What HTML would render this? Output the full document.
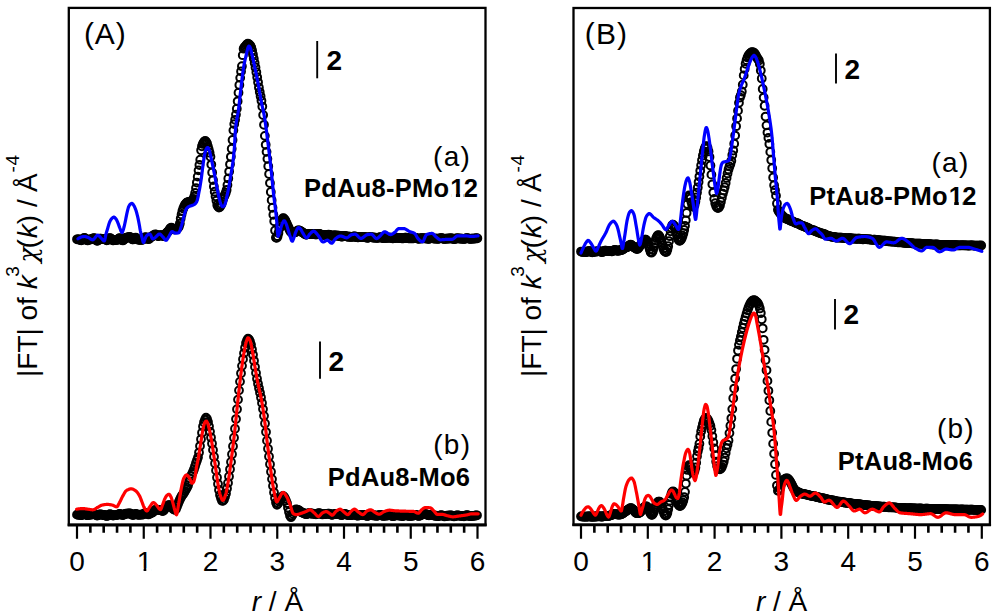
<!DOCTYPE html>
<html lang="en"><head><meta charset="utf-8"><title>FT-EXAFS</title>
<style>
html,body{margin:0;padding:0;background:#fff;}
body{width:1000px;height:615px;overflow:hidden;}
svg{display:block;}
text{font-family:"Liberation Sans", Arial, Helvetica, sans-serif;fill:#000;}
.b{font-weight:bold;}
.i{font-style:italic;}
</style></head><body>
<svg width="1000" height="615" viewBox="0 0 1000 615">
<rect x="0" y="0" width="1000" height="615" fill="#fff"/>
<g fill="none" stroke="#000" stroke-width="2.0">
<circle cx="77.00" cy="239.28" r="3.9"/>
<circle cx="77.85" cy="239.41" r="3.9"/>
<circle cx="78.70" cy="239.40" r="3.9"/>
<circle cx="79.55" cy="239.63" r="3.9"/>
<circle cx="80.40" cy="240.08" r="3.9"/>
<circle cx="81.25" cy="240.32" r="3.9"/>
<circle cx="82.10" cy="239.92" r="3.9"/>
<circle cx="82.95" cy="238.96" r="3.9"/>
<circle cx="83.80" cy="238.09" r="3.9"/>
<circle cx="84.65" cy="237.97" r="3.9"/>
<circle cx="85.50" cy="238.72" r="3.9"/>
<circle cx="86.35" cy="239.77" r="3.9"/>
<circle cx="87.20" cy="240.40" r="3.9"/>
<circle cx="88.05" cy="240.29" r="3.9"/>
<circle cx="88.90" cy="239.78" r="3.9"/>
<circle cx="89.75" cy="239.38" r="3.9"/>
<circle cx="90.60" cy="239.31" r="3.9"/>
<circle cx="91.45" cy="239.29" r="3.9"/>
<circle cx="92.30" cy="238.98" r="3.9"/>
<circle cx="93.15" cy="238.42" r="3.9"/>
<circle cx="94.00" cy="238.09" r="3.9"/>
<circle cx="94.85" cy="238.46" r="3.9"/>
<circle cx="95.70" cy="239.47" r="3.9"/>
<circle cx="96.55" cy="240.50" r="3.9"/>
<circle cx="97.40" cy="240.83" r="3.9"/>
<circle cx="98.25" cy="240.30" r="3.9"/>
<circle cx="99.10" cy="239.38" r="3.9"/>
<circle cx="99.95" cy="238.76" r="3.9"/>
<circle cx="100.80" cy="238.73" r="3.9"/>
<circle cx="101.65" cy="239.03" r="3.9"/>
<circle cx="102.50" cy="239.18" r="3.9"/>
<circle cx="103.35" cy="239.04" r="3.9"/>
<circle cx="104.20" cy="238.92" r="3.9"/>
<circle cx="105.05" cy="239.18" r="3.9"/>
<circle cx="105.90" cy="239.80" r="3.9"/>
<circle cx="106.75" cy="240.26" r="3.9"/>
<circle cx="107.60" cy="240.03" r="3.9"/>
<circle cx="108.45" cy="239.16" r="3.9"/>
<circle cx="109.30" cy="238.26" r="3.9"/>
<circle cx="110.15" cy="238.03" r="3.9"/>
<circle cx="111.00" cy="238.64" r="3.9"/>
<circle cx="111.85" cy="239.61" r="3.9"/>
<circle cx="112.70" cy="240.25" r="3.9"/>
<circle cx="113.55" cy="240.30" r="3.9"/>
<circle cx="114.40" cy="240.03" r="3.9"/>
<circle cx="115.25" cy="239.88" r="3.9"/>
<circle cx="116.10" cy="239.96" r="3.9"/>
<circle cx="116.95" cy="239.97" r="3.9"/>
<circle cx="117.80" cy="239.54" r="3.9"/>
<circle cx="118.65" cy="238.76" r="3.9"/>
<circle cx="119.50" cy="238.20" r="3.9"/>
<circle cx="120.35" cy="238.39" r="3.9"/>
<circle cx="121.20" cy="239.27" r="3.9"/>
<circle cx="122.05" cy="240.19" r="3.9"/>
<circle cx="122.90" cy="240.43" r="3.9"/>
<circle cx="123.75" cy="239.81" r="3.9"/>
<circle cx="124.60" cy="238.78" r="3.9"/>
<circle cx="125.45" cy="237.96" r="3.9"/>
<circle cx="126.30" cy="237.65" r="3.9"/>
<circle cx="127.15" cy="237.60" r="3.9"/>
<circle cx="128.00" cy="237.45" r="3.9"/>
<circle cx="128.85" cy="237.13" r="3.9"/>
<circle cx="129.70" cy="237.00" r="3.9"/>
<circle cx="130.55" cy="237.46" r="3.9"/>
<circle cx="131.40" cy="238.44" r="3.9"/>
<circle cx="132.25" cy="239.28" r="3.9"/>
<circle cx="133.10" cy="239.43" r="3.9"/>
<circle cx="133.95" cy="238.84" r="3.9"/>
<circle cx="134.80" cy="238.02" r="3.9"/>
<circle cx="135.65" cy="237.68" r="3.9"/>
<circle cx="136.50" cy="238.16" r="3.9"/>
<circle cx="137.35" cy="239.04" r="3.9"/>
<circle cx="138.20" cy="239.71" r="3.9"/>
<circle cx="139.05" cy="239.87" r="3.9"/>
<circle cx="139.90" cy="239.73" r="3.9"/>
<circle cx="140.75" cy="239.71" r="3.9"/>
<circle cx="141.60" cy="239.88" r="3.9"/>
<circle cx="142.45" cy="239.85" r="3.9"/>
<circle cx="143.30" cy="239.26" r="3.9"/>
<circle cx="144.15" cy="238.22" r="3.9"/>
<circle cx="145.00" cy="237.33" r="3.9"/>
<circle cx="145.85" cy="237.22" r="3.9"/>
<circle cx="146.70" cy="237.93" r="3.9"/>
<circle cx="147.55" cy="238.86" r="3.9"/>
<circle cx="148.40" cy="239.20" r="3.9"/>
<circle cx="149.25" cy="238.68" r="3.9"/>
<circle cx="150.10" cy="237.74" r="3.9"/>
<circle cx="150.95" cy="236.95" r="3.9"/>
<circle cx="151.80" cy="236.47" r="3.9"/>
<circle cx="152.65" cy="236.06" r="3.9"/>
<circle cx="153.50" cy="235.49" r="3.9"/>
<circle cx="154.35" cy="234.82" r="3.9"/>
<circle cx="155.20" cy="234.39" r="3.9"/>
<circle cx="156.05" cy="234.55" r="3.9"/>
<circle cx="156.90" cy="235.27" r="3.9"/>
<circle cx="157.75" cy="236.01" r="3.9"/>
<circle cx="158.60" cy="236.14" r="3.9"/>
<circle cx="159.45" cy="235.72" r="3.9"/>
<circle cx="160.30" cy="235.22" r="3.9"/>
<circle cx="161.15" cy="235.03" r="3.9"/>
<circle cx="162.00" cy="235.41" r="3.9"/>
<circle cx="162.85" cy="236.01" r="3.9"/>
<circle cx="163.70" cy="236.07" r="3.9"/>
<circle cx="164.55" cy="235.23" r="3.9"/>
<circle cx="165.40" cy="234.11" r="3.9"/>
<circle cx="166.25" cy="233.23" r="3.9"/>
<circle cx="167.10" cy="232.39" r="3.9"/>
<circle cx="167.95" cy="231.55" r="3.9"/>
<circle cx="168.80" cy="230.61" r="3.9"/>
<circle cx="169.65" cy="229.32" r="3.9"/>
<circle cx="170.50" cy="228.04" r="3.9"/>
<circle cx="171.35" cy="227.66" r="3.9"/>
<circle cx="172.20" cy="228.17" r="3.9"/>
<circle cx="173.05" cy="228.94" r="3.9"/>
<circle cx="173.90" cy="229.44" r="3.9"/>
<circle cx="174.75" cy="229.43" r="3.9"/>
<circle cx="175.60" cy="229.09" r="3.9"/>
<circle cx="176.45" cy="228.68" r="3.9"/>
<circle cx="177.30" cy="228.32" r="3.9"/>
<circle cx="178.15" cy="227.77" r="3.9"/>
<circle cx="179.00" cy="226.25" r="3.9"/>
<circle cx="179.85" cy="223.58" r="3.9"/>
<circle cx="180.70" cy="218.54" r="3.9"/>
<circle cx="181.55" cy="214.45" r="3.9"/>
<circle cx="182.40" cy="210.97" r="3.9"/>
<circle cx="183.25" cy="208.43" r="3.9"/>
<circle cx="184.10" cy="206.39" r="3.9"/>
<circle cx="184.95" cy="204.79" r="3.9"/>
<circle cx="185.80" cy="203.66" r="3.9"/>
<circle cx="186.65" cy="202.76" r="3.9"/>
<circle cx="187.50" cy="202.30" r="3.9"/>
<circle cx="188.35" cy="202.09" r="3.9"/>
<circle cx="189.20" cy="201.91" r="3.9"/>
<circle cx="190.05" cy="201.63" r="3.9"/>
<circle cx="190.90" cy="201.35" r="3.9"/>
<circle cx="191.75" cy="201.17" r="3.9"/>
<circle cx="192.60" cy="200.42" r="3.9"/>
<circle cx="193.45" cy="198.82" r="3.9"/>
<circle cx="194.30" cy="196.58" r="3.9"/>
<circle cx="195.15" cy="192.84" r="3.9"/>
<circle cx="196.00" cy="188.05" r="3.9"/>
<circle cx="196.85" cy="182.55" r="3.9"/>
<circle cx="197.70" cy="176.63" r="3.9"/>
<circle cx="198.55" cy="170.34" r="3.9"/>
<circle cx="199.40" cy="165.00" r="3.9"/>
<circle cx="200.25" cy="159.69" r="3.9"/>
<circle cx="201.10" cy="150.32" r="3.9"/>
<circle cx="201.95" cy="146.25" r="3.9"/>
<circle cx="202.80" cy="143.97" r="3.9"/>
<circle cx="203.65" cy="142.42" r="3.9"/>
<circle cx="204.50" cy="141.28" r="3.9"/>
<circle cx="205.35" cy="140.97" r="3.9"/>
<circle cx="206.20" cy="141.90" r="3.9"/>
<circle cx="207.05" cy="143.55" r="3.9"/>
<circle cx="207.90" cy="146.37" r="3.9"/>
<circle cx="208.75" cy="149.58" r="3.9"/>
<circle cx="209.60" cy="152.67" r="3.9"/>
<circle cx="210.45" cy="156.72" r="3.9"/>
<circle cx="211.30" cy="164.54" r="3.9"/>
<circle cx="212.15" cy="172.49" r="3.9"/>
<circle cx="213.00" cy="180.06" r="3.9"/>
<circle cx="213.85" cy="186.52" r="3.9"/>
<circle cx="214.70" cy="191.69" r="3.9"/>
<circle cx="215.55" cy="196.31" r="3.9"/>
<circle cx="216.40" cy="200.54" r="3.9"/>
<circle cx="217.25" cy="204.98" r="3.9"/>
<circle cx="218.10" cy="206.53" r="3.9"/>
<circle cx="218.95" cy="207.50" r="3.9"/>
<circle cx="219.80" cy="207.03" r="3.9"/>
<circle cx="220.65" cy="205.54" r="3.9"/>
<circle cx="221.50" cy="203.92" r="3.9"/>
<circle cx="222.35" cy="201.61" r="3.9"/>
<circle cx="223.20" cy="198.71" r="3.9"/>
<circle cx="224.05" cy="196.53" r="3.9"/>
<circle cx="224.90" cy="194.77" r="3.9"/>
<circle cx="225.75" cy="192.77" r="3.9"/>
<circle cx="226.60" cy="190.00" r="3.9"/>
<circle cx="227.45" cy="184.94" r="3.9"/>
<circle cx="228.30" cy="178.46" r="3.9"/>
<circle cx="229.15" cy="171.58" r="3.9"/>
<circle cx="230.00" cy="164.29" r="3.9"/>
<circle cx="230.85" cy="156.80" r="3.9"/>
<circle cx="231.70" cy="148.76" r="3.9"/>
<circle cx="232.55" cy="140.01" r="3.9"/>
<circle cx="233.40" cy="130.34" r="3.9"/>
<circle cx="234.25" cy="124.12" r="3.9"/>
<circle cx="235.10" cy="119.78" r="3.9"/>
<circle cx="235.95" cy="114.61" r="3.9"/>
<circle cx="236.80" cy="108.77" r="3.9"/>
<circle cx="237.65" cy="101.33" r="3.9"/>
<circle cx="238.50" cy="92.77" r="3.9"/>
<circle cx="239.35" cy="85.00" r="3.9"/>
<circle cx="240.20" cy="77.86" r="3.9"/>
<circle cx="241.05" cy="71.38" r="3.9"/>
<circle cx="241.90" cy="66.18" r="3.9"/>
<circle cx="242.75" cy="55.22" r="3.9"/>
<circle cx="243.60" cy="48.71" r="3.9"/>
<circle cx="244.45" cy="47.31" r="3.9"/>
<circle cx="245.30" cy="46.48" r="3.9"/>
<circle cx="246.15" cy="45.37" r="3.9"/>
<circle cx="247.00" cy="44.32" r="3.9"/>
<circle cx="247.85" cy="43.75" r="3.9"/>
<circle cx="248.70" cy="44.08" r="3.9"/>
<circle cx="249.55" cy="44.86" r="3.9"/>
<circle cx="250.40" cy="45.82" r="3.9"/>
<circle cx="251.25" cy="47.54" r="3.9"/>
<circle cx="252.10" cy="50.58" r="3.9"/>
<circle cx="252.95" cy="54.57" r="3.9"/>
<circle cx="253.80" cy="58.65" r="3.9"/>
<circle cx="254.65" cy="62.94" r="3.9"/>
<circle cx="255.50" cy="67.45" r="3.9"/>
<circle cx="256.35" cy="72.23" r="3.9"/>
<circle cx="257.20" cy="77.15" r="3.9"/>
<circle cx="258.05" cy="82.29" r="3.9"/>
<circle cx="258.90" cy="87.42" r="3.9"/>
<circle cx="259.75" cy="92.06" r="3.9"/>
<circle cx="260.60" cy="96.23" r="3.9"/>
<circle cx="261.45" cy="100.76" r="3.9"/>
<circle cx="262.30" cy="106.58" r="3.9"/>
<circle cx="263.15" cy="115.02" r="3.9"/>
<circle cx="264.00" cy="124.79" r="3.9"/>
<circle cx="264.85" cy="135.87" r="3.9"/>
<circle cx="265.70" cy="144.80" r="3.9"/>
<circle cx="266.55" cy="151.85" r="3.9"/>
<circle cx="267.40" cy="158.85" r="3.9"/>
<circle cx="268.25" cy="166.20" r="3.9"/>
<circle cx="269.10" cy="174.00" r="3.9"/>
<circle cx="269.95" cy="183.06" r="3.9"/>
<circle cx="270.80" cy="192.00" r="3.9"/>
<circle cx="271.65" cy="200.14" r="3.9"/>
<circle cx="272.50" cy="207.74" r="3.9"/>
<circle cx="273.35" cy="214.76" r="3.9"/>
<circle cx="274.20" cy="221.32" r="3.9"/>
<circle cx="275.05" cy="230.45" r="3.9"/>
<circle cx="275.90" cy="237.62" r="3.9"/>
<circle cx="276.75" cy="237.89" r="3.9"/>
<circle cx="277.60" cy="236.18" r="3.9"/>
<circle cx="278.45" cy="232.95" r="3.9"/>
<circle cx="279.30" cy="228.65" r="3.9"/>
<circle cx="280.15" cy="224.90" r="3.9"/>
<circle cx="281.00" cy="222.09" r="3.9"/>
<circle cx="281.85" cy="220.05" r="3.9"/>
<circle cx="282.70" cy="218.46" r="3.9"/>
<circle cx="283.55" cy="218.20" r="3.9"/>
<circle cx="284.40" cy="219.09" r="3.9"/>
<circle cx="285.25" cy="220.29" r="3.9"/>
<circle cx="286.10" cy="222.13" r="3.9"/>
<circle cx="286.95" cy="224.01" r="3.9"/>
<circle cx="287.80" cy="225.93" r="3.9"/>
<circle cx="288.65" cy="227.80" r="3.9"/>
<circle cx="289.50" cy="229.66" r="3.9"/>
<circle cx="290.35" cy="231.20" r="3.9"/>
<circle cx="291.20" cy="232.29" r="3.9"/>
<circle cx="292.05" cy="232.67" r="3.9"/>
<circle cx="292.90" cy="232.69" r="3.9"/>
<circle cx="293.75" cy="232.56" r="3.9"/>
<circle cx="294.60" cy="232.40" r="3.9"/>
<circle cx="295.45" cy="232.20" r="3.9"/>
<circle cx="296.30" cy="231.61" r="3.9"/>
<circle cx="297.15" cy="230.89" r="3.9"/>
<circle cx="298.00" cy="230.43" r="3.9"/>
<circle cx="298.85" cy="230.39" r="3.9"/>
<circle cx="299.70" cy="230.64" r="3.9"/>
<circle cx="300.55" cy="231.05" r="3.9"/>
<circle cx="301.40" cy="231.69" r="3.9"/>
<circle cx="302.25" cy="232.32" r="3.9"/>
<circle cx="303.10" cy="232.81" r="3.9"/>
<circle cx="303.95" cy="233.37" r="3.9"/>
<circle cx="304.80" cy="234.04" r="3.9"/>
<circle cx="305.65" cy="234.57" r="3.9"/>
<circle cx="306.50" cy="234.64" r="3.9"/>
<circle cx="307.35" cy="234.39" r="3.9"/>
<circle cx="308.20" cy="234.03" r="3.9"/>
<circle cx="309.05" cy="233.80" r="3.9"/>
<circle cx="309.90" cy="233.79" r="3.9"/>
<circle cx="310.75" cy="233.90" r="3.9"/>
<circle cx="311.60" cy="233.99" r="3.9"/>
<circle cx="312.45" cy="233.99" r="3.9"/>
<circle cx="313.30" cy="234.00" r="3.9"/>
<circle cx="314.15" cy="234.11" r="3.9"/>
<circle cx="315.00" cy="234.32" r="3.9"/>
<circle cx="315.85" cy="234.47" r="3.9"/>
<circle cx="316.70" cy="234.42" r="3.9"/>
<circle cx="317.55" cy="234.18" r="3.9"/>
<circle cx="318.40" cy="233.96" r="3.9"/>
<circle cx="319.25" cy="233.96" r="3.9"/>
<circle cx="320.10" cy="234.22" r="3.9"/>
<circle cx="320.95" cy="234.59" r="3.9"/>
<circle cx="321.80" cy="234.85" r="3.9"/>
<circle cx="322.65" cy="234.91" r="3.9"/>
<circle cx="323.50" cy="234.86" r="3.9"/>
<circle cx="324.35" cy="234.84" r="3.9"/>
<circle cx="325.20" cy="234.91" r="3.9"/>
<circle cx="326.05" cy="234.98" r="3.9"/>
<circle cx="326.90" cy="234.93" r="3.9"/>
<circle cx="327.75" cy="234.80" r="3.9"/>
<circle cx="328.60" cy="234.73" r="3.9"/>
<circle cx="329.45" cy="234.89" r="3.9"/>
<circle cx="330.30" cy="235.26" r="3.9"/>
<circle cx="331.15" cy="235.64" r="3.9"/>
<circle cx="332.00" cy="235.81" r="3.9"/>
<circle cx="332.85" cy="235.72" r="3.9"/>
<circle cx="333.70" cy="235.50" r="3.9"/>
<circle cx="334.55" cy="235.37" r="3.9"/>
<circle cx="335.40" cy="235.41" r="3.9"/>
<circle cx="336.25" cy="235.56" r="3.9"/>
<circle cx="337.10" cy="235.67" r="3.9"/>
<circle cx="337.95" cy="235.71" r="3.9"/>
<circle cx="338.80" cy="235.77" r="3.9"/>
<circle cx="339.65" cy="235.96" r="3.9"/>
<circle cx="340.50" cy="236.26" r="3.9"/>
<circle cx="341.35" cy="236.49" r="3.9"/>
<circle cx="342.20" cy="236.49" r="3.9"/>
<circle cx="343.05" cy="236.26" r="3.9"/>
<circle cx="343.90" cy="235.99" r="3.9"/>
<circle cx="344.75" cy="235.92" r="3.9"/>
<circle cx="345.60" cy="236.10" r="3.9"/>
<circle cx="346.45" cy="236.41" r="3.9"/>
<circle cx="347.30" cy="236.64" r="3.9"/>
<circle cx="348.15" cy="236.72" r="3.9"/>
<circle cx="349.00" cy="236.71" r="3.9"/>
<circle cx="349.85" cy="236.75" r="3.9"/>
<circle cx="350.70" cy="236.85" r="3.9"/>
<circle cx="351.55" cy="236.91" r="3.9"/>
<circle cx="352.40" cy="236.81" r="3.9"/>
<circle cx="353.25" cy="236.59" r="3.9"/>
<circle cx="354.10" cy="236.43" r="3.9"/>
<circle cx="354.95" cy="236.50" r="3.9"/>
<circle cx="355.80" cy="236.81" r="3.9"/>
<circle cx="356.65" cy="237.18" r="3.9"/>
<circle cx="357.50" cy="237.38" r="3.9"/>
<circle cx="358.35" cy="237.32" r="3.9"/>
<circle cx="359.20" cy="237.13" r="3.9"/>
<circle cx="360.05" cy="237.00" r="3.9"/>
<circle cx="360.90" cy="237.00" r="3.9"/>
<circle cx="361.75" cy="237.06" r="3.9"/>
<circle cx="362.60" cy="237.06" r="3.9"/>
<circle cx="363.45" cy="237.00" r="3.9"/>
<circle cx="364.30" cy="236.99" r="3.9"/>
<circle cx="365.15" cy="237.15" r="3.9"/>
<circle cx="366.00" cy="237.46" r="3.9"/>
<circle cx="366.85" cy="237.72" r="3.9"/>
<circle cx="367.70" cy="237.75" r="3.9"/>
<circle cx="368.55" cy="237.52" r="3.9"/>
<circle cx="369.40" cy="237.22" r="3.9"/>
<circle cx="370.25" cy="237.06" r="3.9"/>
<circle cx="371.10" cy="237.14" r="3.9"/>
<circle cx="371.95" cy="237.35" r="3.9"/>
<circle cx="372.80" cy="237.52" r="3.9"/>
<circle cx="373.65" cy="237.57" r="3.9"/>
<circle cx="374.50" cy="237.58" r="3.9"/>
<circle cx="375.35" cy="237.67" r="3.9"/>
<circle cx="376.20" cy="237.82" r="3.9"/>
<circle cx="377.05" cy="237.91" r="3.9"/>
<circle cx="377.90" cy="237.80" r="3.9"/>
<circle cx="378.75" cy="237.53" r="3.9"/>
<circle cx="379.60" cy="237.29" r="3.9"/>
<circle cx="380.45" cy="237.27" r="3.9"/>
<circle cx="381.30" cy="237.52" r="3.9"/>
<circle cx="382.15" cy="237.86" r="3.9"/>
<circle cx="383.00" cy="238.07" r="3.9"/>
<circle cx="383.85" cy="238.06" r="3.9"/>
<circle cx="384.70" cy="237.93" r="3.9"/>
<circle cx="385.55" cy="237.83" r="3.9"/>
<circle cx="386.40" cy="237.83" r="3.9"/>
<circle cx="387.25" cy="237.85" r="3.9"/>
<circle cx="388.10" cy="237.77" r="3.9"/>
<circle cx="388.95" cy="237.62" r="3.9"/>
<circle cx="389.80" cy="237.53" r="3.9"/>
<circle cx="390.65" cy="237.66" r="3.9"/>
<circle cx="391.50" cy="237.97" r="3.9"/>
<circle cx="392.35" cy="238.27" r="3.9"/>
<circle cx="393.20" cy="238.36" r="3.9"/>
<circle cx="394.05" cy="238.17" r="3.9"/>
<circle cx="394.90" cy="237.88" r="3.9"/>
<circle cx="395.75" cy="237.69" r="3.9"/>
<circle cx="396.60" cy="237.70" r="3.9"/>
<circle cx="397.45" cy="237.83" r="3.9"/>
<circle cx="398.30" cy="237.92" r="3.9"/>
<circle cx="399.15" cy="237.92" r="3.9"/>
<circle cx="400.00" cy="237.93" r="3.9"/>
<circle cx="400.85" cy="238.06" r="3.9"/>
<circle cx="401.70" cy="238.27" r="3.9"/>
<circle cx="402.55" cy="238.41" r="3.9"/>
<circle cx="403.40" cy="238.34" r="3.9"/>
<circle cx="404.25" cy="238.05" r="3.9"/>
<circle cx="405.10" cy="237.75" r="3.9"/>
<circle cx="405.95" cy="237.66" r="3.9"/>
<circle cx="406.80" cy="237.84" r="3.9"/>
<circle cx="407.65" cy="238.14" r="3.9"/>
<circle cx="408.50" cy="238.35" r="3.9"/>
<circle cx="409.35" cy="238.38" r="3.9"/>
<circle cx="410.20" cy="238.32" r="3.9"/>
<circle cx="411.05" cy="238.29" r="3.9"/>
<circle cx="411.90" cy="238.34" r="3.9"/>
<circle cx="412.75" cy="238.36" r="3.9"/>
<circle cx="413.60" cy="238.26" r="3.9"/>
<circle cx="414.45" cy="238.04" r="3.9"/>
<circle cx="415.30" cy="237.89" r="3.9"/>
<circle cx="416.15" cy="237.98" r="3.9"/>
<circle cx="417.00" cy="238.28" r="3.9"/>
<circle cx="417.85" cy="238.62" r="3.9"/>
<circle cx="418.70" cy="238.78" r="3.9"/>
<circle cx="419.55" cy="238.67" r="3.9"/>
<circle cx="420.40" cy="238.43" r="3.9"/>
<circle cx="421.25" cy="238.26" r="3.9"/>
<circle cx="422.10" cy="238.25" r="3.9"/>
<circle cx="422.95" cy="238.31" r="3.9"/>
<circle cx="423.80" cy="238.33" r="3.9"/>
<circle cx="424.65" cy="238.29" r="3.9"/>
<circle cx="425.50" cy="238.28" r="3.9"/>
<circle cx="426.35" cy="238.42" r="3.9"/>
<circle cx="427.20" cy="238.68" r="3.9"/>
<circle cx="428.05" cy="238.89" r="3.9"/>
<circle cx="428.90" cy="238.87" r="3.9"/>
<circle cx="429.75" cy="238.60" r="3.9"/>
<circle cx="430.60" cy="238.27" r="3.9"/>
<circle cx="431.45" cy="238.12" r="3.9"/>
<circle cx="432.30" cy="238.21" r="3.9"/>
<circle cx="433.15" cy="238.43" r="3.9"/>
<circle cx="434.00" cy="238.60" r="3.9"/>
<circle cx="434.85" cy="238.64" r="3.9"/>
<circle cx="435.70" cy="238.61" r="3.9"/>
<circle cx="436.55" cy="238.64" r="3.9"/>
<circle cx="437.40" cy="238.74" r="3.9"/>
<circle cx="438.25" cy="238.78" r="3.9"/>
<circle cx="439.10" cy="238.65" r="3.9"/>
<circle cx="439.95" cy="238.38" r="3.9"/>
<circle cx="440.80" cy="238.15" r="3.9"/>
<circle cx="441.65" cy="238.15" r="3.9"/>
<circle cx="442.50" cy="238.41" r="3.9"/>
<circle cx="443.35" cy="238.74" r="3.9"/>
<circle cx="444.20" cy="238.92" r="3.9"/>
<circle cx="445.05" cy="238.87" r="3.9"/>
<circle cx="445.90" cy="238.69" r="3.9"/>
<circle cx="446.75" cy="238.55" r="3.9"/>
<circle cx="447.60" cy="238.53" r="3.9"/>
<circle cx="448.45" cy="238.54" r="3.9"/>
<circle cx="449.30" cy="238.49" r="3.9"/>
<circle cx="450.15" cy="238.36" r="3.9"/>
<circle cx="451.00" cy="238.30" r="3.9"/>
<circle cx="451.85" cy="238.43" r="3.9"/>
<circle cx="452.70" cy="238.72" r="3.9"/>
<circle cx="453.55" cy="238.98" r="3.9"/>
<circle cx="454.40" cy="239.02" r="3.9"/>
<circle cx="455.25" cy="238.80" r="3.9"/>
<circle cx="456.10" cy="238.48" r="3.9"/>
<circle cx="456.95" cy="238.29" r="3.9"/>
<circle cx="457.80" cy="238.32" r="3.9"/>
<circle cx="458.65" cy="238.47" r="3.9"/>
<circle cx="459.50" cy="238.58" r="3.9"/>
<circle cx="460.35" cy="238.59" r="3.9"/>
<circle cx="461.20" cy="238.59" r="3.9"/>
<circle cx="462.05" cy="238.68" r="3.9"/>
<circle cx="462.90" cy="238.84" r="3.9"/>
<circle cx="463.75" cy="238.93" r="3.9"/>
<circle cx="464.60" cy="238.82" r="3.9"/>
<circle cx="465.45" cy="238.53" r="3.9"/>
<circle cx="466.30" cy="238.24" r="3.9"/>
<circle cx="467.15" cy="238.16" r="3.9"/>
<circle cx="468.00" cy="238.36" r="3.9"/>
<circle cx="468.85" cy="238.66" r="3.9"/>
<circle cx="469.70" cy="238.85" r="3.9"/>
<circle cx="470.55" cy="238.85" r="3.9"/>
<circle cx="471.40" cy="238.74" r="3.9"/>
<circle cx="472.25" cy="238.66" r="3.9"/>
<circle cx="473.10" cy="238.66" r="3.9"/>
<circle cx="473.95" cy="238.66" r="3.9"/>
<circle cx="474.80" cy="238.56" r="3.9"/>
<circle cx="475.65" cy="238.36" r="3.9"/>
<circle cx="476.50" cy="238.23" r="3.9"/>
<circle cx="477.35" cy="238.32" r="3.9"/>
</g>
<path d="M78.00,238.80 L78.40,238.51 L78.80,238.24 L79.20,237.99 L79.60,237.77 L80.00,237.56 L80.40,237.37 L80.80,237.20 L81.20,237.05 L81.60,236.92 L82.00,236.81 L82.40,236.71 L82.80,236.63 L83.20,236.58 L83.60,236.53 L84.00,236.51 L84.40,236.50 L84.80,236.52 L85.20,236.57 L85.60,236.65 L86.00,236.75 L86.40,236.87 L86.80,237.01 L87.20,237.15 L87.60,237.30 L88.00,237.45 L88.40,237.60 L88.80,237.77 L89.20,238.00 L89.60,238.26 L90.00,238.54 L90.40,238.82 L90.80,239.09 L91.20,239.34 L91.60,239.55 L92.00,239.70 L92.40,239.79 L92.80,239.78 L93.20,239.63 L93.60,239.36 L94.00,238.98 L94.40,238.53 L94.80,238.03 L95.20,237.50 L95.60,236.97 L96.00,236.47 L96.40,236.02 L96.80,235.64 L97.20,235.37 L97.60,235.22 L98.00,235.22 L98.40,235.36 L98.80,235.62 L99.20,235.97 L99.60,236.38 L100.00,236.84 L100.40,237.31 L100.80,237.78 L101.20,238.21 L101.60,238.59 L102.00,239.01 L102.40,239.48 L102.80,239.95 L103.20,240.38 L103.60,240.73 L104.00,240.95 L104.40,240.95 L104.80,239.92 L105.20,238.02 L105.60,235.84 L106.00,234.00 L106.40,232.59 L106.80,231.26 L107.20,229.97 L107.60,228.67 L108.00,227.29 L108.40,225.88 L108.80,224.50 L109.20,223.23 L109.60,222.15 L110.00,221.29 L110.40,220.52 L110.80,219.83 L111.20,219.22 L111.60,218.70 L112.00,218.30 L112.40,217.96 L112.80,217.63 L113.20,217.36 L113.60,217.17 L114.00,217.10 L114.40,217.21 L114.80,217.52 L115.20,217.96 L115.60,218.47 L116.00,219.00 L116.40,219.61 L116.80,220.37 L117.20,221.23 L117.60,222.16 L118.00,223.10 L118.40,224.11 L118.80,225.23 L119.20,226.38 L119.60,227.50 L120.00,228.50 L120.40,229.50 L120.80,230.57 L121.20,231.53 L121.60,232.23 L122.00,232.50 L122.40,232.12 L122.80,231.17 L123.20,229.94 L123.60,228.69 L124.00,227.25 L124.40,225.56 L124.80,223.74 L125.20,221.90 L125.60,219.97 L126.00,217.90 L126.40,215.83 L126.80,213.88 L127.20,212.15 L127.60,210.44 L128.00,208.82 L128.40,207.43 L128.80,206.40 L129.20,205.64 L129.60,204.99 L130.00,204.46 L130.40,204.07 L130.80,203.80 L131.20,203.56 L131.60,203.42 L132.00,203.43 L132.40,203.68 L132.80,204.10 L133.20,204.61 L133.60,205.13 L134.00,205.75 L134.40,206.50 L134.80,207.36 L135.20,208.30 L135.60,209.33 L136.00,210.50 L136.40,211.83 L136.80,213.27 L137.20,214.80 L137.60,216.41 L138.00,218.19 L138.40,220.13 L138.80,222.17 L139.20,224.28 L139.60,226.59 L140.00,228.91 L140.40,231.00 L140.80,232.80 L141.20,234.46 L141.60,236.01 L142.00,237.50 L142.40,239.16 L142.80,240.89 L143.20,242.16 L143.60,242.47 L144.00,241.84 L144.40,240.71 L144.80,239.51 L145.20,238.53 L145.60,237.53 L146.00,236.62 L146.40,236.00 L146.80,235.61 L147.20,235.25 L147.60,234.92 L148.00,234.64 L148.40,234.40 L148.80,234.21 L149.20,234.08 L149.60,234.01 L150.00,234.06 L150.40,234.50 L150.80,235.24 L151.20,236.16 L151.60,237.11 L152.00,237.96 L152.40,238.57 L152.80,238.80 L153.20,238.73 L153.60,238.55 L154.00,238.32 L154.40,238.06 L154.80,237.80 L155.20,237.47 L155.60,237.12 L156.00,236.75 L156.40,236.40 L156.80,236.04 L157.20,235.63 L157.60,235.20 L158.00,234.79 L158.40,234.44 L158.80,234.17 L159.20,234.02 L159.60,234.02 L160.00,234.14 L160.40,234.37 L160.80,234.69 L161.20,235.07 L161.60,235.49 L162.00,235.94 L162.40,236.38 L162.80,236.80 L163.20,237.21 L163.60,237.71 L164.00,238.28 L164.40,238.86 L164.80,239.41 L165.20,239.87 L165.60,240.18 L166.00,240.30 L166.40,240.18 L166.80,239.84 L167.20,239.34 L167.60,238.73 L168.00,238.05 L168.40,237.36 L168.80,236.70 L169.20,236.09 L169.60,235.35 L170.00,234.52 L170.40,233.67 L170.80,232.88 L171.20,232.22 L171.60,231.77 L172.00,231.60 L172.40,231.65 L172.80,231.80 L173.20,232.01 L173.60,232.27 L174.00,232.53 L174.40,232.79 L174.80,233.00 L175.20,233.15 L175.60,233.20 L176.00,233.19 L176.40,233.17 L176.80,233.13 L177.20,233.08 L177.60,233.02 L178.00,232.94 L178.40,232.85 L178.80,232.70 L179.20,232.20 L179.60,231.40 L180.00,230.36 L180.40,229.16 L180.80,227.88 L181.20,226.61 L181.60,225.37 L182.00,223.95 L182.40,222.37 L182.80,220.70 L183.20,219.04 L183.60,217.45 L184.00,216.00 L184.40,214.61 L184.80,213.18 L185.20,211.80 L185.60,210.56 L186.00,209.53 L186.40,208.80 L186.80,208.28 L187.20,207.84 L187.60,207.45 L188.00,207.12 L188.40,206.84 L188.80,206.60 L189.20,206.41 L189.60,206.25 L190.00,206.12 L190.40,206.00 L190.80,205.89 L191.20,205.77 L191.60,205.64 L192.00,205.48 L192.40,205.33 L192.80,205.18 L193.20,205.02 L193.60,204.84 L194.00,204.64 L194.40,204.41 L194.80,204.15 L195.20,203.83 L195.60,203.41 L196.00,202.87 L196.40,202.21 L196.80,201.43 L197.20,200.47 L197.60,199.03 L198.00,197.20 L198.40,195.15 L198.80,193.03 L199.20,190.98 L199.60,188.86 L200.00,186.63 L200.40,184.29 L200.80,181.82 L201.20,179.20 L201.60,176.27 L202.00,173.01 L202.40,169.67 L202.80,166.47 L203.20,163.59 L203.60,160.81 L204.00,158.23 L204.40,156.00 L204.80,154.00 L205.20,152.13 L205.60,150.57 L206.00,149.50 L206.40,148.76 L206.80,148.12 L207.20,147.67 L207.60,147.50 L208.00,147.72 L208.40,148.30 L208.80,149.10 L209.20,150.00 L209.60,151.20 L210.00,152.83 L210.40,154.65 L210.80,156.44 L211.20,158.24 L211.60,160.13 L212.00,162.07 L212.40,164.04 L212.80,166.02 L213.20,167.98 L213.60,169.94 L214.00,171.91 L214.40,173.92 L214.80,175.96 L215.20,178.07 L215.60,180.28 L216.00,182.55 L216.40,184.80 L216.80,186.97 L217.20,189.00 L217.60,190.99 L218.00,192.92 L218.40,194.78 L218.80,196.55 L219.20,198.20 L219.60,199.81 L220.00,201.39 L220.40,202.83 L220.80,204.02 L221.20,204.94 L221.60,205.78 L222.00,206.44 L222.40,206.70 L222.80,206.65 L223.20,206.50 L223.60,206.28 L224.00,206.00 L224.40,205.46 L224.80,204.55 L225.20,203.41 L225.60,202.18 L226.00,200.65 L226.40,198.84 L226.80,196.93 L227.20,195.08 L227.60,193.21 L228.00,191.29 L228.40,189.28 L228.80,187.16 L229.20,184.87 L229.60,182.45 L230.00,179.96 L230.40,177.46 L230.80,175.00 L231.20,172.68 L231.60,170.47 L232.00,168.22 L232.40,165.80 L232.80,163.05 L233.20,159.88 L233.60,156.26 L234.00,152.10 L234.40,147.31 L234.80,140.78 L235.20,132.83 L235.60,128.01 L236.00,124.61 L236.40,121.82 L236.80,119.45 L237.20,117.33 L237.60,115.24 L238.00,113.02 L238.40,110.46 L238.80,107.41 L239.20,103.93 L239.60,100.22 L240.00,96.46 L240.40,92.86 L240.80,89.44 L241.20,85.98 L241.60,82.52 L242.00,79.13 L242.40,75.86 L242.80,72.78 L243.20,69.94 L243.60,67.40 L244.00,65.13 L244.40,63.04 L244.80,61.10 L245.20,59.26 L245.60,57.50 L246.00,55.79 L246.40,54.09 L246.80,52.36 L247.20,50.49 L247.60,48.74 L248.00,47.50 L248.40,46.66 L248.80,46.09 L249.20,46.06 L249.60,46.47 L250.00,47.13 L250.40,47.97 L250.80,49.35 L251.20,51.07 L251.60,52.80 L252.00,54.47 L252.40,56.21 L252.80,58.00 L253.20,59.84 L253.60,61.71 L254.00,63.60 L254.40,65.50 L254.80,67.40 L255.20,69.30 L255.60,71.22 L256.00,73.15 L256.40,75.10 L256.80,77.08 L257.20,79.08 L257.60,81.11 L258.00,83.18 L258.40,85.30 L258.80,87.49 L259.20,89.74 L259.60,92.03 L260.00,94.32 L260.40,96.59 L260.80,98.81 L261.20,100.97 L261.60,103.03 L262.00,104.97 L262.40,106.83 L262.80,108.66 L263.20,110.51 L263.60,112.42 L264.00,114.45 L264.40,116.63 L264.80,119.04 L265.20,121.76 L265.60,124.69 L266.00,127.73 L266.40,130.75 L266.80,133.83 L267.20,136.99 L267.60,140.19 L268.00,143.42 L268.40,146.65 L268.80,149.89 L269.20,153.16 L269.60,156.48 L270.00,159.85 L270.40,163.28 L270.80,166.80 L271.20,170.44 L271.60,174.30 L272.00,178.31 L272.40,182.39 L272.80,186.44 L273.20,190.38 L273.60,194.11 L274.00,197.55 L274.40,200.73 L274.80,203.83 L275.20,207.03 L275.60,210.50 L276.00,214.18 L276.40,218.06 L276.80,222.16 L277.20,226.94 L277.60,233.12 L278.00,236.30 L278.40,235.90 L278.80,234.94 L279.20,233.78 L279.60,232.56 L280.00,231.06 L280.40,229.51 L280.80,228.12 L281.20,226.74 L281.60,225.39 L282.00,224.18 L282.40,223.20 L282.80,222.43 L283.20,221.70 L283.60,221.10 L284.00,220.75 L284.40,220.76 L284.80,221.15 L285.20,221.83 L285.60,222.65 L286.00,223.50 L286.40,224.45 L286.80,225.60 L287.20,226.87 L287.60,228.17 L288.00,229.43 L288.40,230.77 L288.80,232.16 L289.20,233.56 L289.60,234.90 L290.00,236.16 L290.40,237.27 L290.80,238.46 L291.20,239.64 L291.60,240.63 L292.00,241.22 L292.40,241.22 L292.80,240.65 L293.20,239.71 L293.60,238.59 L294.00,237.50 L294.40,236.32 L294.80,234.94 L295.20,233.59 L295.60,232.50 L296.00,231.60 L296.40,230.69 L296.80,229.82 L297.20,229.03 L297.60,228.38 L298.00,227.90 L298.40,227.63 L298.80,227.62 L299.20,227.80 L299.60,228.10 L300.00,228.48 L300.40,228.90 L300.80,229.37 L301.20,230.02 L301.60,230.77 L302.00,231.55 L302.40,232.28 L302.80,232.91 L303.20,233.57 L303.60,234.26 L304.00,234.95 L304.40,235.63 L304.80,236.26 L305.20,236.81 L305.60,237.27 L306.00,237.60 L306.40,237.78 L306.80,237.77 L307.20,237.55 L307.60,237.15 L308.00,236.63 L308.40,236.03 L308.80,235.39 L309.20,234.78 L309.60,234.23 L310.00,233.80 L310.40,233.43 L310.80,233.04 L311.20,232.65 L311.60,232.27 L312.00,231.93 L312.40,231.63 L312.80,231.40 L313.20,231.25 L313.60,231.20 L314.00,231.26 L314.40,231.43 L314.80,231.69 L315.20,232.04 L315.60,232.44 L316.00,232.88 L316.40,233.36 L316.80,233.84 L317.20,234.32 L317.60,234.78 L318.00,235.22 L318.40,235.74 L318.80,236.33 L319.20,236.98 L319.60,237.66 L320.00,238.36 L320.40,239.05 L320.80,239.71 L321.20,240.32 L321.60,240.87 L322.00,241.34 L322.40,241.69 L322.80,241.92 L323.20,242.00 L323.60,241.95 L324.00,241.83 L324.40,241.64 L324.80,241.42 L325.20,241.16 L325.60,240.91 L326.00,240.67 L326.40,240.46 L326.80,240.30 L327.20,240.21 L327.60,240.22 L328.00,240.37 L328.40,240.63 L328.80,240.98 L329.20,241.38 L329.60,241.81 L330.00,242.23 L330.40,242.61 L330.80,242.91 L331.20,243.12 L331.60,243.20 L332.00,243.10 L332.40,242.83 L332.80,242.42 L333.20,241.91 L333.60,241.32 L334.00,240.70 L334.40,240.08 L334.80,239.49 L335.20,238.98 L335.60,238.56 L336.00,238.26 L336.40,237.97 L336.80,237.69 L337.20,237.41 L337.60,237.15 L338.00,236.90 L338.40,236.67 L338.80,236.46 L339.20,236.29 L339.60,236.15 L340.00,236.06 L340.40,236.01 L340.80,236.01 L341.20,236.05 L341.60,236.13 L342.00,236.25 L342.40,236.39 L342.80,236.55 L343.20,236.72 L343.60,236.90 L344.00,237.08 L344.40,237.25 L344.80,237.41 L345.20,237.55 L345.60,237.67 L346.00,237.75 L346.40,237.79 L346.80,237.79 L347.20,237.69 L347.60,237.51 L348.00,237.26 L348.40,236.96 L348.80,236.63 L349.20,236.28 L349.60,235.93 L350.00,235.60 L350.40,235.30 L350.80,235.05 L351.20,234.86 L351.60,234.75 L352.00,234.65 L352.40,234.55 L352.80,234.46 L353.20,234.38 L353.60,234.32 L354.00,234.26 L354.40,234.22 L354.80,234.20 L355.20,234.21 L355.60,234.32 L356.00,234.51 L356.40,234.78 L356.80,235.11 L357.20,235.48 L357.60,235.88 L358.00,236.30 L358.40,236.72 L358.80,237.12 L359.20,237.49 L359.60,237.82 L360.00,238.09 L360.40,238.28 L360.80,238.39 L361.20,238.39 L361.60,238.31 L362.00,238.16 L362.40,237.96 L362.80,237.71 L363.20,237.42 L363.60,237.10 L364.00,236.77 L364.40,236.43 L364.80,236.09 L365.20,235.77 L365.60,235.48 L366.00,235.22 L366.40,235.01 L366.80,234.85 L367.20,234.76 L367.60,234.67 L368.00,234.58 L368.40,234.51 L368.80,234.43 L369.20,234.37 L369.60,234.31 L370.00,234.26 L370.40,234.23 L370.80,234.21 L371.20,234.20 L371.60,234.27 L372.00,234.46 L372.40,234.76 L372.80,235.13 L373.20,235.56 L373.60,236.03 L374.00,236.52 L374.40,237.00 L374.80,237.46 L375.20,237.87 L375.60,238.20 L376.00,238.45 L376.40,238.58 L376.80,238.58 L377.20,238.46 L377.60,238.23 L378.00,237.92 L378.40,237.56 L378.80,237.16 L379.20,236.75 L379.60,236.36 L380.00,236.00 L380.40,235.63 L380.80,235.21 L381.20,234.75 L381.60,234.27 L382.00,233.78 L382.40,233.31 L382.80,232.87 L383.20,232.48 L383.60,232.17 L384.00,231.94 L384.40,231.82 L384.80,231.81 L385.20,231.88 L385.60,232.01 L386.00,232.19 L386.40,232.40 L386.80,232.65 L387.20,232.92 L387.60,233.20 L388.00,233.48 L388.40,233.75 L388.80,234.00 L389.20,234.21 L389.60,234.39 L390.00,234.52 L390.40,234.59 L390.80,234.59 L391.20,234.52 L391.60,234.39 L392.00,234.20 L392.40,233.98 L392.80,233.73 L393.20,233.47 L393.60,233.20 L394.00,232.93 L394.40,232.66 L394.80,232.33 L395.20,231.94 L395.60,231.50 L396.00,231.03 L396.40,230.56 L396.80,230.09 L397.20,229.66 L397.60,229.28 L398.00,228.97 L398.40,228.74 L398.80,228.62 L399.20,228.60 L399.60,228.60 L400.00,228.60 L400.40,228.60 L400.80,228.60 L401.20,228.60 L401.60,228.60 L402.00,228.60 L402.40,228.60 L402.80,228.60 L403.20,228.60 L403.60,228.60 L404.00,228.61 L404.40,228.66 L404.80,228.76 L405.20,228.91 L405.60,229.09 L406.00,229.30 L406.40,229.53 L406.80,229.78 L407.20,230.04 L407.60,230.31 L408.00,230.58 L408.40,230.84 L408.80,231.08 L409.20,231.31 L409.60,231.51 L410.00,231.68 L410.40,231.83 L410.80,231.97 L411.20,232.09 L411.60,232.21 L412.00,232.33 L412.40,232.45 L412.80,232.58 L413.20,232.72 L413.60,232.88 L414.00,233.07 L414.40,233.28 L414.80,233.55 L415.20,233.98 L415.60,234.54 L416.00,235.21 L416.40,235.94 L416.80,236.68 L417.20,237.40 L417.60,238.04 L418.00,238.58 L418.40,239.00 L418.80,239.40 L419.20,239.80 L419.60,240.19 L420.00,240.55 L420.40,240.89 L420.80,241.19 L421.20,241.44 L421.60,241.64 L422.00,241.76 L422.40,241.80 L422.80,241.63 L423.20,241.17 L423.60,240.47 L424.00,239.61 L424.40,238.66 L424.80,237.67 L425.20,236.72 L425.60,235.87 L426.00,235.18 L426.40,234.72 L426.80,234.52 L427.20,234.37 L427.60,234.22 L428.00,234.09 L428.40,233.96 L428.80,233.85 L429.20,233.75 L429.60,233.66 L430.00,233.58 L430.40,233.52 L430.80,233.47 L431.20,233.43 L431.60,233.41 L432.00,233.40 L432.40,233.47 L432.80,233.65 L433.20,233.93 L433.60,234.29 L434.00,234.70 L434.40,235.14 L434.80,235.60 L435.20,236.05 L435.60,236.47 L436.00,236.84 L436.40,237.15 L436.80,237.49 L437.20,237.84 L437.60,238.19 L438.00,238.54 L438.40,238.87 L438.80,239.17 L439.20,239.43 L439.60,239.63 L440.00,239.75 L440.40,239.80 L440.80,239.80 L441.20,239.78 L441.60,239.77 L442.00,239.74 L442.40,239.71 L442.80,239.68 L443.20,239.65 L443.60,239.61 L444.00,239.57 L444.40,239.54 L444.80,239.50 L445.20,239.47 L445.60,239.45 L446.00,239.42 L446.40,239.41 L446.80,239.40 L447.20,239.40 L447.60,239.40 L448.00,239.40 L448.40,239.40 L448.80,239.40 L449.20,239.40 L449.60,239.40 L450.00,239.40 L450.40,239.40 L450.80,239.40 L451.20,239.40 L451.60,239.40 L452.00,239.39 L452.40,239.30 L452.80,239.13 L453.20,238.90 L453.60,238.62 L454.00,238.30 L454.40,237.96 L454.80,237.60 L455.20,237.24 L455.60,236.90 L456.00,236.58 L456.40,236.30 L456.80,236.07 L457.20,235.90 L457.60,235.81 L458.00,235.80 L458.40,235.80 L458.80,235.80 L459.20,235.80 L459.60,235.80 L460.00,235.80 L460.40,235.80 L460.80,235.80 L461.20,235.80 L461.60,235.80 L462.00,235.80 L462.40,235.80 L462.80,235.80 L463.20,235.80 L463.60,235.80 L464.00,235.80 L464.40,235.80 L464.80,235.80 L465.20,235.80 L465.60,235.82 L466.00,235.84 L466.40,235.88 L466.80,235.93 L467.20,235.98 L467.60,236.04 L468.00,236.10 L468.40,236.16 L468.80,236.22 L469.20,236.27 L469.60,236.32 L470.00,236.36 L470.40,236.38 L470.80,236.40 L471.20,236.40 L471.60,236.40 L472.00,236.39 L472.40,236.38 L472.80,236.37 L473.20,236.35 L473.60,236.33 L474.00,236.31 L474.40,236.28 L474.80,236.25 L475.20,236.21 L475.60,236.17 L476.00,236.13 L476.40,236.08 L476.80,236.03 L477.20,235.97 L477.60,235.90 L478.00,235.84" fill="none" stroke="#0000ff" stroke-width="3.2" stroke-linejoin="round" stroke-linecap="round"/>
<g fill="none" stroke="#000" stroke-width="2.0">
<circle cx="77.00" cy="514.65" r="3.9"/>
<circle cx="78.00" cy="514.70" r="3.9"/>
<circle cx="79.00" cy="514.70" r="3.9"/>
<circle cx="80.00" cy="514.94" r="3.9"/>
<circle cx="81.00" cy="515.19" r="3.9"/>
<circle cx="82.00" cy="514.99" r="3.9"/>
<circle cx="83.00" cy="514.30" r="3.9"/>
<circle cx="84.00" cy="513.73" r="3.9"/>
<circle cx="85.00" cy="513.86" r="3.9"/>
<circle cx="86.00" cy="514.58" r="3.9"/>
<circle cx="87.00" cy="515.18" r="3.9"/>
<circle cx="88.00" cy="515.19" r="3.9"/>
<circle cx="89.00" cy="514.84" r="3.9"/>
<circle cx="90.00" cy="514.62" r="3.9"/>
<circle cx="91.00" cy="514.63" r="3.9"/>
<circle cx="92.00" cy="514.53" r="3.9"/>
<circle cx="93.00" cy="514.17" r="3.9"/>
<circle cx="94.00" cy="513.91" r="3.9"/>
<circle cx="95.00" cy="514.23" r="3.9"/>
<circle cx="96.00" cy="515.01" r="3.9"/>
<circle cx="97.00" cy="515.55" r="3.9"/>
<circle cx="98.00" cy="515.37" r="3.9"/>
<circle cx="99.00" cy="514.73" r="3.9"/>
<circle cx="100.00" cy="514.33" r="3.9"/>
<circle cx="101.00" cy="514.47" r="3.9"/>
<circle cx="102.00" cy="514.82" r="3.9"/>
<circle cx="103.00" cy="514.98" r="3.9"/>
<circle cx="104.00" cy="515.00" r="3.9"/>
<circle cx="105.00" cy="515.25" r="3.9"/>
<circle cx="106.00" cy="515.74" r="3.9"/>
<circle cx="107.00" cy="515.95" r="3.9"/>
<circle cx="108.00" cy="515.50" r="3.9"/>
<circle cx="109.00" cy="514.69" r="3.9"/>
<circle cx="110.00" cy="514.24" r="3.9"/>
<circle cx="111.00" cy="514.54" r="3.9"/>
<circle cx="112.00" cy="515.17" r="3.9"/>
<circle cx="113.00" cy="515.49" r="3.9"/>
<circle cx="114.00" cy="515.34" r="3.9"/>
<circle cx="115.00" cy="515.13" r="3.9"/>
<circle cx="116.00" cy="515.13" r="3.9"/>
<circle cx="117.00" cy="515.10" r="3.9"/>
<circle cx="118.00" cy="514.70" r="3.9"/>
<circle cx="119.00" cy="514.09" r="3.9"/>
<circle cx="120.00" cy="513.86" r="3.9"/>
<circle cx="121.00" cy="514.30" r="3.9"/>
<circle cx="122.00" cy="514.97" r="3.9"/>
<circle cx="123.00" cy="515.15" r="3.9"/>
<circle cx="124.00" cy="514.64" r="3.9"/>
<circle cx="125.00" cy="513.94" r="3.9"/>
<circle cx="126.00" cy="513.60" r="3.9"/>
<circle cx="127.00" cy="513.60" r="3.9"/>
<circle cx="128.00" cy="513.55" r="3.9"/>
<circle cx="129.00" cy="513.36" r="3.9"/>
<circle cx="130.00" cy="513.38" r="3.9"/>
<circle cx="131.00" cy="513.94" r="3.9"/>
<circle cx="132.00" cy="514.71" r="3.9"/>
<circle cx="133.00" cy="515.01" r="3.9"/>
<circle cx="134.00" cy="514.67" r="3.9"/>
<circle cx="135.00" cy="514.13" r="3.9"/>
<circle cx="136.00" cy="514.02" r="3.9"/>
<circle cx="137.00" cy="514.40" r="3.9"/>
<circle cx="138.00" cy="514.79" r="3.9"/>
<circle cx="139.00" cy="514.79" r="3.9"/>
<circle cx="140.00" cy="514.60" r="3.9"/>
<circle cx="141.00" cy="514.57" r="3.9"/>
<circle cx="142.00" cy="514.68" r="3.9"/>
<circle cx="143.00" cy="514.47" r="3.9"/>
<circle cx="144.00" cy="513.80" r="3.9"/>
<circle cx="145.00" cy="513.15" r="3.9"/>
<circle cx="146.00" cy="513.13" r="3.9"/>
<circle cx="147.00" cy="513.74" r="3.9"/>
<circle cx="148.00" cy="514.30" r="3.9"/>
<circle cx="149.00" cy="514.23" r="3.9"/>
<circle cx="150.00" cy="513.64" r="3.9"/>
<circle cx="151.00" cy="513.06" r="3.9"/>
<circle cx="152.00" cy="512.72" r="3.9"/>
<circle cx="153.00" cy="512.10" r="3.9"/>
<circle cx="154.00" cy="511.05" r="3.9"/>
<circle cx="155.00" cy="510.07" r="3.9"/>
<circle cx="156.00" cy="509.56" r="3.9"/>
<circle cx="157.00" cy="509.54" r="3.9"/>
<circle cx="158.00" cy="509.85" r="3.9"/>
<circle cx="159.00" cy="509.95" r="3.9"/>
<circle cx="160.00" cy="510.16" r="3.9"/>
<circle cx="161.00" cy="510.37" r="3.9"/>
<circle cx="162.00" cy="510.87" r="3.9"/>
<circle cx="163.00" cy="511.13" r="3.9"/>
<circle cx="164.00" cy="509.96" r="3.9"/>
<circle cx="165.00" cy="508.49" r="3.9"/>
<circle cx="166.00" cy="507.22" r="3.9"/>
<circle cx="167.00" cy="506.06" r="3.9"/>
<circle cx="168.00" cy="505.48" r="3.9"/>
<circle cx="169.00" cy="505.18" r="3.9"/>
<circle cx="170.00" cy="505.21" r="3.9"/>
<circle cx="171.00" cy="505.81" r="3.9"/>
<circle cx="172.00" cy="507.15" r="3.9"/>
<circle cx="173.00" cy="508.70" r="3.9"/>
<circle cx="174.00" cy="509.62" r="3.9"/>
<circle cx="175.00" cy="509.86" r="3.9"/>
<circle cx="176.00" cy="509.03" r="3.9"/>
<circle cx="177.00" cy="506.52" r="3.9"/>
<circle cx="178.00" cy="504.02" r="3.9"/>
<circle cx="179.00" cy="501.53" r="3.9"/>
<circle cx="180.00" cy="499.28" r="3.9"/>
<circle cx="181.00" cy="497.24" r="3.9"/>
<circle cx="182.00" cy="495.56" r="3.9"/>
<circle cx="183.00" cy="494.20" r="3.9"/>
<circle cx="184.00" cy="492.76" r="3.9"/>
<circle cx="185.00" cy="491.06" r="3.9"/>
<circle cx="186.00" cy="489.34" r="3.9"/>
<circle cx="187.00" cy="487.58" r="3.9"/>
<circle cx="188.00" cy="485.44" r="3.9"/>
<circle cx="189.00" cy="481.97" r="3.9"/>
<circle cx="190.00" cy="478.47" r="3.9"/>
<circle cx="191.00" cy="475.97" r="3.9"/>
<circle cx="192.00" cy="473.89" r="3.9"/>
<circle cx="193.00" cy="471.83" r="3.9"/>
<circle cx="194.00" cy="469.27" r="3.9"/>
<circle cx="195.00" cy="466.13" r="3.9"/>
<circle cx="196.00" cy="462.93" r="3.9"/>
<circle cx="197.00" cy="460.26" r="3.9"/>
<circle cx="198.00" cy="457.34" r="3.9"/>
<circle cx="199.00" cy="452.55" r="3.9"/>
<circle cx="200.00" cy="446.04" r="3.9"/>
<circle cx="201.00" cy="439.27" r="3.9"/>
<circle cx="202.00" cy="432.70" r="3.9"/>
<circle cx="203.00" cy="426.45" r="3.9"/>
<circle cx="204.00" cy="422.25" r="3.9"/>
<circle cx="205.00" cy="419.59" r="3.9"/>
<circle cx="206.00" cy="417.75" r="3.9"/>
<circle cx="207.00" cy="419.06" r="3.9"/>
<circle cx="208.00" cy="421.88" r="3.9"/>
<circle cx="209.00" cy="426.36" r="3.9"/>
<circle cx="210.00" cy="431.61" r="3.9"/>
<circle cx="211.00" cy="437.47" r="3.9"/>
<circle cx="212.00" cy="443.52" r="3.9"/>
<circle cx="213.00" cy="449.91" r="3.9"/>
<circle cx="214.00" cy="456.63" r="3.9"/>
<circle cx="215.00" cy="463.39" r="3.9"/>
<circle cx="216.00" cy="470.39" r="3.9"/>
<circle cx="217.00" cy="477.49" r="3.9"/>
<circle cx="218.00" cy="484.02" r="3.9"/>
<circle cx="219.00" cy="489.93" r="3.9"/>
<circle cx="220.00" cy="494.95" r="3.9"/>
<circle cx="221.00" cy="498.30" r="3.9"/>
<circle cx="222.00" cy="500.67" r="3.9"/>
<circle cx="223.00" cy="500.83" r="3.9"/>
<circle cx="224.00" cy="499.50" r="3.9"/>
<circle cx="225.00" cy="496.86" r="3.9"/>
<circle cx="226.00" cy="493.47" r="3.9"/>
<circle cx="227.00" cy="488.49" r="3.9"/>
<circle cx="228.00" cy="482.89" r="3.9"/>
<circle cx="229.00" cy="476.46" r="3.9"/>
<circle cx="230.00" cy="469.32" r="3.9"/>
<circle cx="231.00" cy="461.91" r="3.9"/>
<circle cx="232.00" cy="454.24" r="3.9"/>
<circle cx="233.00" cy="446.19" r="3.9"/>
<circle cx="234.00" cy="437.74" r="3.9"/>
<circle cx="235.00" cy="428.68" r="3.9"/>
<circle cx="236.00" cy="419.07" r="3.9"/>
<circle cx="237.00" cy="409.20" r="3.9"/>
<circle cx="238.00" cy="399.62" r="3.9"/>
<circle cx="239.00" cy="390.34" r="3.9"/>
<circle cx="240.00" cy="381.62" r="3.9"/>
<circle cx="241.00" cy="373.33" r="3.9"/>
<circle cx="242.00" cy="365.87" r="3.9"/>
<circle cx="243.00" cy="359.14" r="3.9"/>
<circle cx="244.00" cy="353.14" r="3.9"/>
<circle cx="245.00" cy="347.76" r="3.9"/>
<circle cx="246.00" cy="343.05" r="3.9"/>
<circle cx="247.00" cy="340.41" r="3.9"/>
<circle cx="248.00" cy="338.68" r="3.9"/>
<circle cx="249.00" cy="339.48" r="3.9"/>
<circle cx="250.00" cy="341.48" r="3.9"/>
<circle cx="251.00" cy="344.76" r="3.9"/>
<circle cx="252.00" cy="349.51" r="3.9"/>
<circle cx="253.00" cy="354.71" r="3.9"/>
<circle cx="254.00" cy="360.81" r="3.9"/>
<circle cx="255.00" cy="366.90" r="3.9"/>
<circle cx="256.00" cy="372.91" r="3.9"/>
<circle cx="257.00" cy="378.67" r="3.9"/>
<circle cx="258.00" cy="383.73" r="3.9"/>
<circle cx="259.00" cy="388.23" r="3.9"/>
<circle cx="260.00" cy="392.65" r="3.9"/>
<circle cx="261.00" cy="397.44" r="3.9"/>
<circle cx="262.00" cy="402.96" r="3.9"/>
<circle cx="263.00" cy="409.11" r="3.9"/>
<circle cx="264.00" cy="415.86" r="3.9"/>
<circle cx="265.00" cy="423.44" r="3.9"/>
<circle cx="266.00" cy="432.03" r="3.9"/>
<circle cx="267.00" cy="440.65" r="3.9"/>
<circle cx="268.00" cy="448.69" r="3.9"/>
<circle cx="269.00" cy="456.52" r="3.9"/>
<circle cx="270.00" cy="464.17" r="3.9"/>
<circle cx="271.00" cy="471.74" r="3.9"/>
<circle cx="272.00" cy="479.09" r="3.9"/>
<circle cx="273.00" cy="485.93" r="3.9"/>
<circle cx="274.00" cy="492.52" r="3.9"/>
<circle cx="275.00" cy="497.99" r="3.9"/>
<circle cx="276.00" cy="502.59" r="3.9"/>
<circle cx="277.00" cy="504.77" r="3.9"/>
<circle cx="278.00" cy="503.59" r="3.9"/>
<circle cx="279.00" cy="501.27" r="3.9"/>
<circle cx="280.00" cy="499.83" r="3.9"/>
<circle cx="281.00" cy="498.39" r="3.9"/>
<circle cx="282.00" cy="497.01" r="3.9"/>
<circle cx="283.00" cy="496.02" r="3.9"/>
<circle cx="284.00" cy="496.75" r="3.9"/>
<circle cx="285.00" cy="498.49" r="3.9"/>
<circle cx="286.00" cy="500.65" r="3.9"/>
<circle cx="287.00" cy="503.22" r="3.9"/>
<circle cx="288.00" cy="507.68" r="3.9"/>
<circle cx="289.00" cy="512.02" r="3.9"/>
<circle cx="290.00" cy="515.64" r="3.9"/>
<circle cx="291.00" cy="517.19" r="3.9"/>
<circle cx="292.00" cy="515.63" r="3.9"/>
<circle cx="293.00" cy="513.80" r="3.9"/>
<circle cx="294.00" cy="512.00" r="3.9"/>
<circle cx="295.00" cy="510.18" r="3.9"/>
<circle cx="296.00" cy="509.46" r="3.9"/>
<circle cx="297.00" cy="509.65" r="3.9"/>
<circle cx="298.00" cy="509.96" r="3.9"/>
<circle cx="299.00" cy="510.46" r="3.9"/>
<circle cx="300.00" cy="511.17" r="3.9"/>
<circle cx="301.00" cy="512.01" r="3.9"/>
<circle cx="302.00" cy="512.62" r="3.9"/>
<circle cx="303.00" cy="512.91" r="3.9"/>
<circle cx="304.00" cy="513.21" r="3.9"/>
<circle cx="305.00" cy="513.80" r="3.9"/>
<circle cx="306.00" cy="514.21" r="3.9"/>
<circle cx="307.00" cy="514.06" r="3.9"/>
<circle cx="308.00" cy="513.52" r="3.9"/>
<circle cx="309.00" cy="513.15" r="3.9"/>
<circle cx="310.00" cy="513.23" r="3.9"/>
<circle cx="311.00" cy="513.51" r="3.9"/>
<circle cx="312.00" cy="513.67" r="3.9"/>
<circle cx="313.00" cy="513.68" r="3.9"/>
<circle cx="314.00" cy="513.81" r="3.9"/>
<circle cx="315.00" cy="514.12" r="3.9"/>
<circle cx="316.00" cy="514.29" r="3.9"/>
<circle cx="317.00" cy="514.01" r="3.9"/>
<circle cx="318.00" cy="513.46" r="3.9"/>
<circle cx="319.00" cy="513.18" r="3.9"/>
<circle cx="320.00" cy="513.46" r="3.9"/>
<circle cx="321.00" cy="514.01" r="3.9"/>
<circle cx="322.00" cy="514.34" r="3.9"/>
<circle cx="323.00" cy="514.27" r="3.9"/>
<circle cx="324.00" cy="514.10" r="3.9"/>
<circle cx="325.00" cy="514.08" r="3.9"/>
<circle cx="326.00" cy="514.12" r="3.9"/>
<circle cx="327.00" cy="513.94" r="3.9"/>
<circle cx="328.00" cy="513.62" r="3.9"/>
<circle cx="329.00" cy="513.54" r="3.9"/>
<circle cx="330.00" cy="513.96" r="3.9"/>
<circle cx="331.00" cy="514.57" r="3.9"/>
<circle cx="332.00" cy="514.82" r="3.9"/>
<circle cx="333.00" cy="514.54" r="3.9"/>
<circle cx="334.00" cy="514.08" r="3.9"/>
<circle cx="335.00" cy="513.90" r="3.9"/>
<circle cx="336.00" cy="514.03" r="3.9"/>
<circle cx="337.00" cy="514.17" r="3.9"/>
<circle cx="338.00" cy="514.15" r="3.9"/>
<circle cx="339.00" cy="514.20" r="3.9"/>
<circle cx="340.00" cy="514.54" r="3.9"/>
<circle cx="341.00" cy="514.96" r="3.9"/>
<circle cx="342.00" cy="515.04" r="3.9"/>
<circle cx="343.00" cy="514.61" r="3.9"/>
<circle cx="344.00" cy="514.09" r="3.9"/>
<circle cx="345.00" cy="513.99" r="3.9"/>
<circle cx="346.00" cy="514.38" r="3.9"/>
<circle cx="347.00" cy="514.83" r="3.9"/>
<circle cx="348.00" cy="514.99" r="3.9"/>
<circle cx="349.00" cy="514.95" r="3.9"/>
<circle cx="350.00" cy="515.00" r="3.9"/>
<circle cx="351.00" cy="515.14" r="3.9"/>
<circle cx="352.00" cy="515.11" r="3.9"/>
<circle cx="353.00" cy="514.76" r="3.9"/>
<circle cx="354.00" cy="514.40" r="3.9"/>
<circle cx="355.00" cy="514.49" r="3.9"/>
<circle cx="356.00" cy="515.04" r="3.9"/>
<circle cx="357.00" cy="515.59" r="3.9"/>
<circle cx="358.00" cy="515.68" r="3.9"/>
<circle cx="359.00" cy="515.36" r="3.9"/>
<circle cx="360.00" cy="515.07" r="3.9"/>
<circle cx="361.00" cy="515.04" r="3.9"/>
<circle cx="362.00" cy="515.10" r="3.9"/>
<circle cx="363.00" cy="515.01" r="3.9"/>
<circle cx="364.00" cy="514.89" r="3.9"/>
<circle cx="365.00" cy="515.06" r="3.9"/>
<circle cx="366.00" cy="515.54" r="3.9"/>
<circle cx="367.00" cy="515.94" r="3.9"/>
<circle cx="368.00" cy="515.83" r="3.9"/>
<circle cx="369.00" cy="515.29" r="3.9"/>
<circle cx="370.00" cy="514.86" r="3.9"/>
<circle cx="371.00" cy="514.89" r="3.9"/>
<circle cx="372.00" cy="515.22" r="3.9"/>
<circle cx="373.00" cy="515.45" r="3.9"/>
<circle cx="374.00" cy="515.47" r="3.9"/>
<circle cx="375.00" cy="515.50" r="3.9"/>
<circle cx="376.00" cy="515.71" r="3.9"/>
<circle cx="377.00" cy="515.87" r="3.9"/>
<circle cx="378.00" cy="515.65" r="3.9"/>
<circle cx="379.00" cy="515.13" r="3.9"/>
<circle cx="380.00" cy="514.80" r="3.9"/>
<circle cx="381.00" cy="515.02" r="3.9"/>
<circle cx="382.00" cy="515.57" r="3.9"/>
<circle cx="383.00" cy="515.94" r="3.9"/>
<circle cx="384.00" cy="515.88" r="3.9"/>
<circle cx="385.00" cy="515.62" r="3.9"/>
<circle cx="386.00" cy="515.51" r="3.9"/>
<circle cx="387.00" cy="515.53" r="3.9"/>
<circle cx="388.00" cy="515.43" r="3.9"/>
<circle cx="389.00" cy="515.15" r="3.9"/>
<circle cx="390.00" cy="515.04" r="3.9"/>
<circle cx="391.00" cy="515.37" r="3.9"/>
<circle cx="392.00" cy="515.93" r="3.9"/>
<circle cx="393.00" cy="516.21" r="3.9"/>
<circle cx="394.00" cy="515.94" r="3.9"/>
<circle cx="395.00" cy="515.43" r="3.9"/>
<circle cx="396.00" cy="515.16" r="3.9"/>
<circle cx="397.00" cy="515.27" r="3.9"/>
<circle cx="398.00" cy="515.46" r="3.9"/>
<circle cx="399.00" cy="515.49" r="3.9"/>
<circle cx="400.00" cy="515.48" r="3.9"/>
<circle cx="401.00" cy="515.69" r="3.9"/>
<circle cx="402.00" cy="516.04" r="3.9"/>
<circle cx="403.00" cy="516.11" r="3.9"/>
<circle cx="404.00" cy="515.71" r="3.9"/>
<circle cx="405.00" cy="515.15" r="3.9"/>
<circle cx="406.00" cy="514.96" r="3.9"/>
<circle cx="407.00" cy="515.28" r="3.9"/>
<circle cx="408.00" cy="515.75" r="3.9"/>
<circle cx="409.00" cy="515.93" r="3.9"/>
<circle cx="410.00" cy="515.82" r="3.9"/>
<circle cx="411.00" cy="515.73" r="3.9"/>
<circle cx="412.00" cy="515.77" r="3.9"/>
<circle cx="413.00" cy="515.72" r="3.9"/>
<circle cx="414.00" cy="515.40" r="3.9"/>
<circle cx="415.00" cy="515.00" r="3.9"/>
<circle cx="416.00" cy="514.96" r="3.9"/>
<circle cx="417.00" cy="515.39" r="3.9"/>
<circle cx="418.00" cy="515.88" r="3.9"/>
<circle cx="419.00" cy="515.94" r="3.9"/>
<circle cx="420.00" cy="515.54" r="3.9"/>
<circle cx="421.00" cy="515.01" r="3.9"/>
<circle cx="422.00" cy="514.64" r="3.9"/>
<circle cx="423.00" cy="514.41" r="3.9"/>
<circle cx="424.00" cy="514.14" r="3.9"/>
<circle cx="425.00" cy="513.93" r="3.9"/>
<circle cx="426.00" cy="514.08" r="3.9"/>
<circle cx="427.00" cy="514.62" r="3.9"/>
<circle cx="428.00" cy="515.19" r="3.9"/>
<circle cx="429.00" cy="515.35" r="3.9"/>
<circle cx="430.00" cy="515.05" r="3.9"/>
<circle cx="431.00" cy="514.71" r="3.9"/>
<circle cx="432.00" cy="514.78" r="3.9"/>
<circle cx="433.00" cy="515.21" r="3.9"/>
<circle cx="434.00" cy="515.60" r="3.9"/>
<circle cx="435.00" cy="515.72" r="3.9"/>
<circle cx="436.00" cy="515.76" r="3.9"/>
<circle cx="437.00" cy="515.93" r="3.9"/>
<circle cx="438.00" cy="516.11" r="3.9"/>
<circle cx="439.00" cy="515.98" r="3.9"/>
<circle cx="440.00" cy="515.53" r="3.9"/>
<circle cx="441.00" cy="515.17" r="3.9"/>
<circle cx="442.00" cy="515.32" r="3.9"/>
<circle cx="443.00" cy="515.87" r="3.9"/>
<circle cx="444.00" cy="516.28" r="3.9"/>
<circle cx="445.00" cy="516.25" r="3.9"/>
<circle cx="446.00" cy="515.94" r="3.9"/>
<circle cx="447.00" cy="515.74" r="3.9"/>
<circle cx="448.00" cy="515.74" r="3.9"/>
<circle cx="449.00" cy="515.70" r="3.9"/>
<circle cx="450.00" cy="515.51" r="3.9"/>
<circle cx="451.00" cy="515.38" r="3.9"/>
<circle cx="452.00" cy="515.62" r="3.9"/>
<circle cx="453.00" cy="516.14" r="3.9"/>
<circle cx="454.00" cy="516.45" r="3.9"/>
<circle cx="455.00" cy="516.22" r="3.9"/>
<circle cx="456.00" cy="515.68" r="3.9"/>
<circle cx="457.00" cy="515.35" r="3.9"/>
<circle cx="458.00" cy="515.44" r="3.9"/>
<circle cx="459.00" cy="515.69" r="3.9"/>
<circle cx="460.00" cy="515.79" r="3.9"/>
<circle cx="461.00" cy="515.78" r="3.9"/>
<circle cx="462.00" cy="515.90" r="3.9"/>
<circle cx="463.00" cy="516.17" r="3.9"/>
<circle cx="464.00" cy="516.27" r="3.9"/>
<circle cx="465.00" cy="515.94" r="3.9"/>
<circle cx="466.00" cy="515.40" r="3.9"/>
<circle cx="467.00" cy="515.16" r="3.9"/>
<circle cx="468.00" cy="515.45" r="3.9"/>
<circle cx="469.00" cy="515.95" r="3.9"/>
<circle cx="470.00" cy="516.19" r="3.9"/>
<circle cx="471.00" cy="516.08" r="3.9"/>
<circle cx="472.00" cy="515.91" r="3.9"/>
<circle cx="473.00" cy="515.89" r="3.9"/>
<circle cx="474.00" cy="515.89" r="3.9"/>
<circle cx="475.00" cy="515.68" r="3.9"/>
<circle cx="476.00" cy="515.35" r="3.9"/>
<circle cx="477.00" cy="515.30" r="3.9"/>
</g>
<path d="M76.60,509.20 L77.00,509.12 L77.40,509.04 L77.80,508.97 L78.20,508.91 L78.60,508.86 L79.00,508.81 L79.40,508.77 L79.80,508.73 L80.20,508.70 L80.60,508.67 L81.00,508.65 L81.40,508.63 L81.80,508.62 L82.20,508.61 L82.60,508.60 L83.00,508.60 L83.40,508.60 L83.80,508.62 L84.20,508.65 L84.60,508.69 L85.00,508.74 L85.40,508.79 L85.80,508.86 L86.20,508.92 L86.60,508.99 L87.00,509.05 L87.40,509.12 L87.80,509.17 L88.20,509.23 L88.60,509.28 L89.00,509.35 L89.40,509.41 L89.80,509.48 L90.20,509.54 L90.60,509.61 L91.00,509.66 L91.40,509.71 L91.80,509.75 L92.20,509.78 L92.60,509.80 L93.00,509.79 L93.40,509.73 L93.80,509.61 L94.20,509.45 L94.60,509.25 L95.00,509.02 L95.40,508.77 L95.80,508.51 L96.20,508.24 L96.60,507.98 L97.00,507.73 L97.40,507.50 L97.80,507.30 L98.20,507.08 L98.60,506.85 L99.00,506.61 L99.40,506.37 L99.80,506.14 L100.20,505.91 L100.60,505.69 L101.00,505.49 L101.40,505.31 L101.80,505.16 L102.20,505.04 L102.60,504.96 L103.00,504.88 L103.40,504.81 L103.80,504.74 L104.20,504.67 L104.60,504.61 L105.00,504.55 L105.40,504.51 L105.80,504.47 L106.20,504.43 L106.60,504.41 L107.00,504.40 L107.40,504.40 L107.80,504.41 L108.20,504.44 L108.60,504.47 L109.00,504.51 L109.40,504.56 L109.80,504.62 L110.20,504.68 L110.60,504.74 L111.00,504.82 L111.40,504.89 L111.80,504.96 L112.20,505.04 L112.60,505.16 L113.00,505.32 L113.40,505.50 L113.80,505.70 L114.20,505.91 L114.60,506.11 L115.00,506.31 L115.40,506.48 L115.80,506.63 L116.20,506.73 L116.60,506.79 L117.00,506.76 L117.40,506.43 L117.80,505.86 L118.20,505.13 L118.60,504.34 L119.00,503.56 L119.40,502.85 L119.80,502.10 L120.20,501.30 L120.60,500.46 L121.00,499.61 L121.40,498.75 L121.80,497.91 L122.20,497.11 L122.60,496.35 L123.00,495.65 L123.40,494.94 L123.80,494.21 L124.20,493.49 L124.60,492.81 L125.00,492.17 L125.40,491.60 L125.80,491.11 L126.20,490.74 L126.60,490.48 L127.00,490.24 L127.40,490.01 L127.80,489.80 L128.20,489.60 L128.60,489.41 L129.00,489.25 L129.40,489.11 L129.80,488.99 L130.20,488.90 L130.60,488.84 L131.00,488.80 L131.40,488.81 L131.80,488.85 L132.20,488.94 L132.60,489.07 L133.00,489.23 L133.40,489.41 L133.80,489.62 L134.20,489.85 L134.60,490.09 L135.00,490.34 L135.40,490.60 L135.80,490.89 L136.20,491.23 L136.60,491.64 L137.00,492.09 L137.40,492.59 L137.80,493.13 L138.20,493.71 L138.60,494.33 L139.00,494.98 L139.40,495.65 L139.80,496.37 L140.20,497.25 L140.60,498.24 L141.00,499.32 L141.40,500.42 L141.80,501.49 L142.20,502.51 L142.60,503.59 L143.00,504.70 L143.40,505.78 L143.80,506.78 L144.20,507.64 L144.60,508.34 L145.00,509.03 L145.40,509.70 L145.80,510.28 L146.20,510.72 L146.60,510.97 L147.00,510.96 L147.40,510.69 L147.80,510.19 L148.20,509.55 L148.60,508.83 L149.00,508.09 L149.40,507.39 L149.80,506.80 L150.20,506.25 L150.60,505.65 L151.00,505.03 L151.40,504.42 L151.80,503.85 L152.20,503.35 L152.60,502.95 L153.00,502.69 L153.40,502.60 L153.80,502.67 L154.20,502.87 L154.60,503.18 L155.00,503.55 L155.40,503.96 L155.80,504.39 L156.20,504.81 L156.60,505.20 L157.00,505.69 L157.40,506.25 L157.80,506.85 L158.20,507.47 L158.60,508.06 L159.00,508.60 L159.40,509.06 L159.80,509.39 L160.20,509.58 L160.60,509.52 L161.00,508.98 L161.40,508.06 L161.80,506.94 L162.20,505.78 L162.60,504.76 L163.00,503.70 L163.40,502.57 L163.80,501.41 L164.20,500.29 L164.60,499.27 L165.00,498.40 L165.40,497.63 L165.80,496.90 L166.20,496.24 L166.60,495.69 L167.00,495.30 L167.40,495.00 L167.80,494.73 L168.20,494.51 L168.60,494.36 L169.00,494.30 L169.40,494.46 L169.80,494.89 L170.20,495.50 L170.60,496.23 L171.00,497.00 L171.40,497.94 L171.80,499.16 L172.20,500.52 L172.60,501.90 L173.00,503.33 L173.40,504.88 L173.80,506.45 L174.20,507.96 L174.60,509.34 L175.00,510.83 L175.40,512.36 L175.80,513.69 L176.20,514.57 L176.60,514.74 L177.00,513.49 L177.40,511.29 L177.80,509.00 L178.20,506.78 L178.60,504.34 L179.00,501.90 L179.40,499.48 L179.80,497.00 L180.20,494.52 L180.60,492.12 L181.00,489.85 L181.40,487.80 L181.80,485.84 L182.20,483.89 L182.60,482.04 L183.00,480.41 L183.40,479.11 L183.80,478.21 L184.20,477.47 L184.60,476.78 L185.00,476.17 L185.40,475.65 L185.80,475.25 L186.20,474.99 L186.60,474.90 L187.00,475.00 L187.40,475.28 L187.80,475.70 L188.20,476.23 L188.60,476.83 L189.00,477.46 L189.40,478.10 L189.80,478.74 L190.20,479.65 L190.60,480.71 L191.00,481.76 L191.40,482.62 L191.80,483.13 L192.20,483.17 L192.60,482.99 L193.00,482.68 L193.40,482.25 L193.80,481.39 L194.20,480.16 L194.60,478.69 L195.00,477.07 L195.40,474.82 L195.80,472.07 L196.20,469.23 L196.60,466.70 L197.00,464.61 L197.40,462.69 L197.80,460.76 L198.20,458.65 L198.60,456.37 L199.00,453.99 L199.40,451.52 L199.80,449.00 L200.20,446.46 L200.60,443.92 L201.00,441.43 L201.40,438.95 L201.80,436.34 L202.20,433.69 L202.60,431.16 L203.00,428.91 L203.40,427.08 L203.80,425.44 L204.20,424.00 L204.60,422.89 L205.00,422.18 L205.40,421.60 L205.80,421.20 L206.20,421.11 L206.60,421.37 L207.00,421.87 L207.40,422.50 L207.80,423.46 L208.20,424.86 L208.60,426.40 L209.00,428.00 L209.40,429.75 L209.80,431.62 L210.20,433.61 L210.60,435.68 L211.00,437.84 L211.40,440.05 L211.80,442.30 L212.20,444.65 L212.60,447.14 L213.00,449.74 L213.40,452.43 L213.80,455.17 L214.20,457.93 L214.60,460.68 L215.00,463.40 L215.40,466.16 L215.80,469.01 L216.20,471.91 L216.60,474.80 L217.00,477.63 L217.40,480.33 L217.80,482.86 L218.20,485.16 L218.60,487.38 L219.00,489.54 L219.40,491.55 L219.80,493.32 L220.20,494.79 L220.60,496.00 L221.00,497.19 L221.40,498.30 L221.80,499.24 L222.20,499.95 L222.60,500.35 L223.00,500.36 L223.40,500.02 L223.80,499.42 L224.20,498.59 L224.60,497.60 L225.00,496.51 L225.40,495.38 L225.80,494.13 L226.20,492.51 L226.60,490.60 L227.00,488.50 L227.40,486.28 L227.80,484.04 L228.20,481.67 L228.60,479.12 L229.00,476.44 L229.40,473.65 L229.80,470.77 L230.20,467.84 L230.60,464.88 L231.00,461.91 L231.40,458.90 L231.80,455.82 L232.20,452.68 L232.60,449.47 L233.00,446.20 L233.40,442.87 L233.80,439.47 L234.20,436.00 L234.60,432.41 L235.00,428.67 L235.40,424.84 L235.80,421.00 L236.20,417.11 L236.60,413.15 L237.00,409.20 L237.40,405.34 L237.80,401.53 L238.20,397.73 L238.60,393.99 L239.00,390.34 L239.40,386.80 L239.80,383.35 L240.20,379.95 L240.60,376.62 L241.00,373.39 L241.40,370.27 L241.80,367.30 L242.20,364.42 L242.60,361.60 L243.00,358.86 L243.40,356.25 L243.80,353.80 L244.20,351.53 L244.60,349.43 L245.00,347.37 L245.40,345.41 L245.80,343.60 L246.20,342.01 L246.60,340.68 L247.00,339.55 L247.40,338.49 L247.80,337.80 L248.20,337.74 L248.60,338.03 L249.00,338.54 L249.40,339.22 L249.80,339.99 L250.20,340.87 L250.60,342.17 L251.00,343.83 L251.40,345.76 L251.80,347.84 L252.20,349.96 L252.60,352.06 L253.00,354.36 L253.40,356.82 L253.80,359.38 L254.20,361.96 L254.60,364.48 L255.00,366.90 L255.40,369.32 L255.80,371.74 L256.20,374.12 L256.60,376.45 L257.00,378.69 L257.40,380.82 L257.80,382.81 L258.20,384.69 L258.60,386.50 L259.00,388.25 L259.40,389.99 L259.80,391.75 L260.20,393.55 L260.60,395.43 L261.00,397.42 L261.40,399.54 L261.80,401.79 L262.20,404.13 L262.60,406.57 L263.00,409.10 L263.40,411.74 L263.80,414.46 L264.20,417.28 L264.60,420.24 L265.00,423.44 L265.40,426.80 L265.80,430.27 L266.20,433.79 L266.60,437.27 L267.00,440.66 L267.40,443.91 L267.80,447.11 L268.20,450.28 L268.60,453.42 L269.00,456.52 L269.40,459.60 L269.80,462.64 L270.20,465.69 L270.60,468.78 L271.00,471.88 L271.40,474.94 L271.80,477.90 L272.20,480.73 L272.60,483.37 L273.00,485.79 L273.40,488.09 L273.80,490.27 L274.20,492.32 L274.60,494.23 L275.00,496.00 L275.40,497.86 L275.80,499.75 L276.20,501.21 L276.60,501.80 L277.00,501.65 L277.40,501.25 L277.80,500.66 L278.20,499.95 L278.60,499.19 L279.00,498.45 L279.40,497.80 L279.80,497.15 L280.20,496.41 L280.60,495.62 L281.00,494.83 L281.40,494.07 L281.80,493.41 L282.20,492.88 L282.60,492.53 L283.00,492.40 L283.40,492.48 L283.80,492.71 L284.20,493.07 L284.60,493.54 L285.00,494.08 L285.40,494.68 L285.80,495.32 L286.20,495.96 L286.60,496.60 L287.00,497.28 L287.40,498.06 L287.80,498.93 L288.20,499.86 L288.60,500.85 L289.00,501.88 L289.40,502.92 L289.80,503.97 L290.20,505.00 L290.60,506.14 L291.00,507.46 L291.40,508.86 L291.80,510.23 L292.20,511.48 L292.60,512.50 L293.00,513.20 L293.40,513.54 L293.80,513.79 L294.20,514.02 L294.60,514.22 L295.00,514.38 L295.40,514.50 L295.80,514.57 L296.20,514.60 L296.60,514.59 L297.00,514.54 L297.40,514.48 L297.80,514.40 L298.20,514.29 L298.60,514.18 L299.00,514.06 L299.40,513.92 L299.80,513.79 L300.20,513.66 L300.60,513.52 L301.00,513.40 L301.40,513.28 L301.80,513.14 L302.20,513.01 L302.60,512.86 L303.00,512.71 L303.40,512.56 L303.80,512.40 L304.20,512.24 L304.60,512.08 L305.00,511.92 L305.40,511.76 L305.80,511.60 L306.20,511.42 L306.60,511.22 L307.00,511.00 L307.40,510.77 L307.80,510.54 L308.20,510.33 L308.60,510.14 L309.00,509.98 L309.40,509.87 L309.80,509.81 L310.20,509.81 L310.60,509.91 L311.00,510.09 L311.40,510.34 L311.80,510.64 L312.20,510.98 L312.60,511.35 L313.00,511.73 L313.40,512.11 L313.80,512.47 L314.20,512.80 L314.60,513.15 L315.00,513.55 L315.40,513.99 L315.80,514.45 L316.20,514.90 L316.60,515.33 L317.00,515.71 L317.40,516.03 L317.80,516.26 L318.20,516.38 L318.60,516.38 L319.00,516.24 L319.40,515.97 L319.80,515.61 L320.20,515.19 L320.60,514.73 L321.00,514.26 L321.40,513.80 L321.80,513.39 L322.20,513.05 L322.60,512.80 L323.00,512.61 L323.40,512.42 L323.80,512.24 L324.20,512.07 L324.60,511.91 L325.00,511.78 L325.40,511.69 L325.80,511.62 L326.20,511.60 L326.60,511.64 L327.00,511.75 L327.40,511.92 L327.80,512.14 L328.20,512.40 L328.60,512.69 L329.00,512.99 L329.40,513.30 L329.80,513.59 L330.20,513.87 L330.60,514.14 L331.00,514.48 L331.40,514.82 L331.80,515.09 L332.20,515.20 L332.60,515.12 L333.00,514.88 L333.40,514.53 L333.80,514.09 L334.20,513.58 L334.60,513.04 L335.00,512.50 L335.40,511.98 L335.80,511.52 L336.20,511.15 L336.60,510.87 L337.00,510.59 L337.40,510.32 L337.80,510.05 L338.20,509.80 L338.60,509.59 L339.00,509.41 L339.40,509.28 L339.80,509.21 L340.20,509.21 L340.60,509.32 L341.00,509.50 L341.40,509.76 L341.80,510.08 L342.20,510.43 L342.60,510.80 L343.00,511.18 L343.40,511.55 L343.80,511.90 L344.20,512.20 L344.60,512.50 L345.00,512.84 L345.40,513.19 L345.80,513.54 L346.20,513.87 L346.60,514.16 L347.00,514.39 L347.40,514.54 L347.80,514.60 L348.20,514.51 L348.60,514.25 L349.00,513.87 L349.40,513.39 L349.80,512.87 L350.20,512.33 L350.60,511.81 L351.00,511.36 L351.40,511.00 L351.80,510.69 L352.20,510.36 L352.60,510.04 L353.00,509.75 L353.40,509.50 L353.80,509.32 L354.20,509.21 L354.60,509.21 L355.00,509.32 L355.40,509.51 L355.80,509.78 L356.20,510.10 L356.60,510.46 L357.00,510.84 L357.40,511.22 L357.80,511.58 L358.20,511.92 L358.60,512.20 L359.00,512.47 L359.40,512.76 L359.80,513.06 L360.20,513.37 L360.60,513.66 L361.00,513.94 L361.40,514.18 L361.80,514.37 L362.20,514.51 L362.60,514.59 L363.00,514.58 L363.40,514.44 L363.80,514.17 L364.20,513.81 L364.60,513.39 L365.00,512.93 L365.40,512.46 L365.80,512.00 L366.20,511.59 L366.60,511.25 L367.00,511.00 L367.40,510.81 L367.80,510.62 L368.20,510.44 L368.60,510.27 L369.00,510.11 L369.40,509.98 L369.80,509.89 L370.20,509.82 L370.60,509.80 L371.00,509.84 L371.40,509.95 L371.80,510.12 L372.20,510.35 L372.60,510.61 L373.00,510.90 L373.40,511.21 L373.80,511.52 L374.20,511.82 L374.60,512.11 L375.00,512.38 L375.40,512.60 L375.80,512.81 L376.20,513.04 L376.60,513.28 L377.00,513.51 L377.40,513.73 L377.80,513.92 L378.20,514.07 L378.60,514.16 L379.00,514.20 L379.40,514.17 L379.80,514.08 L380.20,513.94 L380.60,513.75 L381.00,513.54 L381.40,513.29 L381.80,513.03 L382.20,512.76 L382.60,512.49 L383.00,512.22 L383.40,511.98 L383.80,511.75 L384.20,511.55 L384.60,511.40 L385.00,511.27 L385.40,511.13 L385.80,510.99 L386.20,510.85 L386.60,510.72 L387.00,510.60 L387.40,510.49 L387.80,510.39 L388.20,510.31 L388.60,510.25 L389.00,510.21 L389.40,510.20 L389.80,510.21 L390.20,510.22 L390.60,510.25 L391.00,510.29 L391.40,510.33 L391.80,510.38 L392.20,510.43 L392.60,510.48 L393.00,510.54 L393.40,510.59 L393.80,510.64 L394.20,510.69 L394.60,510.73 L395.00,510.77 L395.40,510.80 L395.80,510.82 L396.20,510.85 L396.60,510.87 L397.00,510.89 L397.40,510.91 L397.80,510.93 L398.20,510.95 L398.60,510.97 L399.00,510.99 L399.40,511.00 L399.80,511.02 L400.20,511.04 L400.60,511.05 L401.00,511.07 L401.40,511.08 L401.80,511.10 L402.20,511.11 L402.60,511.12 L403.00,511.14 L403.40,511.15 L403.80,511.16 L404.20,511.18 L404.60,511.19 L405.00,511.20 L405.40,511.21 L405.80,511.22 L406.20,511.23 L406.60,511.24 L407.00,511.25 L407.40,511.25 L407.80,511.26 L408.20,511.27 L408.60,511.27 L409.00,511.28 L409.40,511.28 L409.80,511.29 L410.20,511.30 L410.60,511.31 L411.00,511.32 L411.40,511.33 L411.80,511.34 L412.20,511.35 L412.60,511.37 L413.00,511.38 L413.40,511.40 L413.80,511.45 L414.20,511.56 L414.60,511.71 L415.00,511.90 L415.40,512.11 L415.80,512.33 L416.20,512.55 L416.60,512.75 L417.00,512.93 L417.40,513.07 L417.80,513.17 L418.20,513.20 L418.60,513.10 L419.00,512.84 L419.40,512.46 L419.80,511.98 L420.20,511.45 L420.60,510.91 L421.00,510.40 L421.40,509.95 L421.80,509.60 L422.20,509.31 L422.60,509.00 L423.00,508.70 L423.40,508.41 L423.80,508.15 L424.20,507.93 L424.60,507.75 L425.00,507.64 L425.40,507.60 L425.80,507.60 L426.20,507.61 L426.60,507.61 L427.00,507.62 L427.40,507.63 L427.80,507.65 L428.20,507.67 L428.60,507.69 L429.00,507.71 L429.40,507.74 L429.80,507.77 L430.20,507.80 L430.60,507.89 L431.00,508.09 L431.40,508.38 L431.80,508.73 L432.20,509.13 L432.60,509.56 L433.00,509.99 L433.40,510.41 L433.80,510.80 L434.20,511.21 L434.60,511.69 L435.00,512.22 L435.40,512.75 L435.80,513.26 L436.20,513.71 L436.60,514.07 L437.00,514.31 L437.40,514.40 L437.80,514.40 L438.20,514.40 L438.60,514.40 L439.00,514.40 L439.40,514.40 L439.80,514.40 L440.20,514.40 L440.60,514.40 L441.00,514.40 L441.40,514.40 L441.80,514.40 L442.20,514.40 L442.60,514.42 L443.00,514.46 L443.40,514.54 L443.80,514.63 L444.20,514.74 L444.60,514.87 L445.00,515.00 L445.40,515.13 L445.80,515.26 L446.20,515.39 L446.60,515.50 L447.00,515.60 L447.40,515.69 L447.80,515.79 L448.20,515.90 L448.60,516.00 L449.00,516.11 L449.40,516.22 L449.80,516.32 L450.20,516.42 L450.60,516.51 L451.00,516.59 L451.40,516.66 L451.80,516.72 L452.20,516.76 L452.60,516.79 L453.00,516.80 L453.40,516.79 L453.80,516.77 L454.20,516.74 L454.60,516.70 L455.00,516.65 L455.40,516.60 L455.80,516.53 L456.20,516.47 L456.60,516.40 L457.00,516.33 L457.40,516.26 L457.80,516.19 L458.20,516.12 L458.60,516.06 L459.00,516.00 L459.40,515.95 L459.80,515.89 L460.20,515.84 L460.60,515.79 L461.00,515.74 L461.40,515.68 L461.80,515.63 L462.20,515.58 L462.60,515.53 L463.00,515.47 L463.40,515.42 L463.80,515.36 L464.20,515.31 L464.60,515.25 L465.00,515.19 L465.40,515.13 L465.80,515.06 L466.20,515.00 L466.60,514.93 L467.00,514.84 L467.40,514.75 L467.80,514.65 L468.20,514.54 L468.60,514.44 L469.00,514.33 L469.40,514.23 L469.80,514.13 L470.20,514.04 L470.60,513.96 L471.00,513.89 L471.40,513.84 L471.80,513.81 L472.20,513.80 L472.60,513.80 L473.00,513.80 L473.40,513.80 L473.80,513.80 L474.20,513.80 L474.60,513.80 L475.00,513.80 L475.40,513.80 L475.80,513.80 L476.20,513.80 L476.60,513.80 L477.00,513.80 L477.40,513.80 L477.80,513.80 L478.20,513.80" fill="none" stroke="#ff0000" stroke-width="3.2" stroke-linejoin="round" stroke-linecap="round"/>
<g fill="none" stroke="#000" stroke-width="2.0">
<circle cx="581.00" cy="251.55" r="3.9"/>
<circle cx="581.80" cy="251.80" r="3.9"/>
<circle cx="582.60" cy="251.87" r="3.9"/>
<circle cx="583.40" cy="251.83" r="3.9"/>
<circle cx="584.20" cy="251.84" r="3.9"/>
<circle cx="585.00" cy="251.95" r="3.9"/>
<circle cx="585.80" cy="252.07" r="3.9"/>
<circle cx="586.60" cy="252.00" r="3.9"/>
<circle cx="587.40" cy="251.68" r="3.9"/>
<circle cx="588.20" cy="251.26" r="3.9"/>
<circle cx="589.00" cy="251.03" r="3.9"/>
<circle cx="589.80" cy="251.16" r="3.9"/>
<circle cx="590.60" cy="251.58" r="3.9"/>
<circle cx="591.40" cy="252.04" r="3.9"/>
<circle cx="592.20" cy="252.24" r="3.9"/>
<circle cx="593.00" cy="252.12" r="3.9"/>
<circle cx="593.80" cy="251.84" r="3.9"/>
<circle cx="594.60" cy="251.62" r="3.9"/>
<circle cx="595.40" cy="251.55" r="3.9"/>
<circle cx="596.20" cy="251.55" r="3.9"/>
<circle cx="597.00" cy="251.47" r="3.9"/>
<circle cx="597.80" cy="251.28" r="3.9"/>
<circle cx="598.60" cy="251.10" r="3.9"/>
<circle cx="599.40" cy="251.15" r="3.9"/>
<circle cx="600.20" cy="251.46" r="3.9"/>
<circle cx="601.00" cy="251.87" r="3.9"/>
<circle cx="601.80" cy="252.10" r="3.9"/>
<circle cx="602.60" cy="251.94" r="3.9"/>
<circle cx="603.40" cy="251.48" r="3.9"/>
<circle cx="604.20" cy="250.99" r="3.9"/>
<circle cx="605.00" cy="250.72" r="3.9"/>
<circle cx="605.80" cy="250.73" r="3.9"/>
<circle cx="606.60" cy="250.90" r="3.9"/>
<circle cx="607.40" cy="251.00" r="3.9"/>
<circle cx="608.20" cy="250.98" r="3.9"/>
<circle cx="609.00" cy="250.93" r="3.9"/>
<circle cx="609.80" cy="250.99" r="3.9"/>
<circle cx="610.60" cy="251.19" r="3.9"/>
<circle cx="611.40" cy="251.34" r="3.9"/>
<circle cx="612.20" cy="251.25" r="3.9"/>
<circle cx="613.00" cy="250.87" r="3.9"/>
<circle cx="613.80" cy="250.36" r="3.9"/>
<circle cx="614.60" cy="250.02" r="3.9"/>
<circle cx="615.40" cy="250.05" r="3.9"/>
<circle cx="616.20" cy="250.37" r="3.9"/>
<circle cx="617.00" cy="250.72" r="3.9"/>
<circle cx="617.80" cy="250.86" r="3.9"/>
<circle cx="618.60" cy="250.72" r="3.9"/>
<circle cx="619.40" cy="250.45" r="3.9"/>
<circle cx="620.20" cy="250.23" r="3.9"/>
<circle cx="621.00" cy="250.10" r="3.9"/>
<circle cx="621.80" cy="249.94" r="3.9"/>
<circle cx="622.60" cy="249.57" r="3.9"/>
<circle cx="623.40" cy="248.94" r="3.9"/>
<circle cx="624.20" cy="248.26" r="3.9"/>
<circle cx="625.00" cy="247.74" r="3.9"/>
<circle cx="625.80" cy="247.49" r="3.9"/>
<circle cx="626.60" cy="247.39" r="3.9"/>
<circle cx="627.40" cy="247.07" r="3.9"/>
<circle cx="628.20" cy="246.48" r="3.9"/>
<circle cx="629.00" cy="245.74" r="3.9"/>
<circle cx="629.80" cy="245.04" r="3.9"/>
<circle cx="630.60" cy="244.67" r="3.9"/>
<circle cx="631.40" cy="244.99" r="3.9"/>
<circle cx="632.20" cy="245.80" r="3.9"/>
<circle cx="633.00" cy="246.64" r="3.9"/>
<circle cx="633.80" cy="247.25" r="3.9"/>
<circle cx="634.60" cy="247.62" r="3.9"/>
<circle cx="635.40" cy="248.12" r="3.9"/>
<circle cx="636.20" cy="248.70" r="3.9"/>
<circle cx="637.00" cy="249.08" r="3.9"/>
<circle cx="637.80" cy="248.69" r="3.9"/>
<circle cx="638.60" cy="247.68" r="3.9"/>
<circle cx="639.40" cy="246.52" r="3.9"/>
<circle cx="640.20" cy="245.49" r="3.9"/>
<circle cx="641.00" cy="244.38" r="3.9"/>
<circle cx="641.80" cy="243.14" r="3.9"/>
<circle cx="642.60" cy="242.02" r="3.9"/>
<circle cx="643.40" cy="241.18" r="3.9"/>
<circle cx="644.20" cy="240.30" r="3.9"/>
<circle cx="645.00" cy="239.67" r="3.9"/>
<circle cx="645.80" cy="239.62" r="3.9"/>
<circle cx="646.60" cy="240.49" r="3.9"/>
<circle cx="647.40" cy="241.87" r="3.9"/>
<circle cx="648.20" cy="243.93" r="3.9"/>
<circle cx="649.00" cy="246.81" r="3.9"/>
<circle cx="649.80" cy="249.40" r="3.9"/>
<circle cx="650.60" cy="251.98" r="3.9"/>
<circle cx="651.40" cy="252.70" r="3.9"/>
<circle cx="652.20" cy="251.89" r="3.9"/>
<circle cx="653.00" cy="250.07" r="3.9"/>
<circle cx="653.80" cy="247.19" r="3.9"/>
<circle cx="654.60" cy="243.56" r="3.9"/>
<circle cx="655.40" cy="240.64" r="3.9"/>
<circle cx="656.20" cy="238.11" r="3.9"/>
<circle cx="657.00" cy="236.43" r="3.9"/>
<circle cx="657.80" cy="235.31" r="3.9"/>
<circle cx="658.60" cy="235.24" r="3.9"/>
<circle cx="659.40" cy="236.33" r="3.9"/>
<circle cx="660.20" cy="237.84" r="3.9"/>
<circle cx="661.00" cy="240.15" r="3.9"/>
<circle cx="661.80" cy="242.88" r="3.9"/>
<circle cx="662.60" cy="245.65" r="3.9"/>
<circle cx="663.40" cy="248.53" r="3.9"/>
<circle cx="664.20" cy="250.43" r="3.9"/>
<circle cx="665.00" cy="251.64" r="3.9"/>
<circle cx="665.80" cy="252.07" r="3.9"/>
<circle cx="666.60" cy="251.69" r="3.9"/>
<circle cx="667.40" cy="249.40" r="3.9"/>
<circle cx="668.20" cy="246.19" r="3.9"/>
<circle cx="669.00" cy="241.15" r="3.9"/>
<circle cx="669.80" cy="236.21" r="3.9"/>
<circle cx="670.60" cy="231.28" r="3.9"/>
<circle cx="671.40" cy="227.68" r="3.9"/>
<circle cx="672.20" cy="225.26" r="3.9"/>
<circle cx="673.00" cy="224.76" r="3.9"/>
<circle cx="673.80" cy="225.36" r="3.9"/>
<circle cx="674.60" cy="226.66" r="3.9"/>
<circle cx="675.40" cy="228.96" r="3.9"/>
<circle cx="676.20" cy="231.91" r="3.9"/>
<circle cx="677.00" cy="234.78" r="3.9"/>
<circle cx="677.80" cy="237.73" r="3.9"/>
<circle cx="678.60" cy="239.64" r="3.9"/>
<circle cx="679.40" cy="240.91" r="3.9"/>
<circle cx="680.20" cy="240.55" r="3.9"/>
<circle cx="681.00" cy="239.52" r="3.9"/>
<circle cx="681.80" cy="237.92" r="3.9"/>
<circle cx="682.60" cy="235.72" r="3.9"/>
<circle cx="683.40" cy="233.15" r="3.9"/>
<circle cx="684.20" cy="229.99" r="3.9"/>
<circle cx="685.00" cy="225.86" r="3.9"/>
<circle cx="685.80" cy="220.31" r="3.9"/>
<circle cx="686.60" cy="212.92" r="3.9"/>
<circle cx="687.40" cy="204.03" r="3.9"/>
<circle cx="688.20" cy="197.52" r="3.9"/>
<circle cx="689.00" cy="195.47" r="3.9"/>
<circle cx="689.80" cy="196.21" r="3.9"/>
<circle cx="690.60" cy="198.36" r="3.9"/>
<circle cx="691.40" cy="202.11" r="3.9"/>
<circle cx="692.20" cy="205.20" r="3.9"/>
<circle cx="693.00" cy="206.89" r="3.9"/>
<circle cx="693.80" cy="206.28" r="3.9"/>
<circle cx="694.60" cy="204.76" r="3.9"/>
<circle cx="695.40" cy="201.58" r="3.9"/>
<circle cx="696.20" cy="197.44" r="3.9"/>
<circle cx="697.00" cy="192.57" r="3.9"/>
<circle cx="697.80" cy="187.42" r="3.9"/>
<circle cx="698.60" cy="182.05" r="3.9"/>
<circle cx="699.41" cy="176.56" r="3.9"/>
<circle cx="700.25" cy="170.83" r="3.9"/>
<circle cx="701.11" cy="165.35" r="3.9"/>
<circle cx="701.98" cy="160.20" r="3.9"/>
<circle cx="702.88" cy="155.53" r="3.9"/>
<circle cx="703.81" cy="151.33" r="3.9"/>
<circle cx="704.75" cy="148.13" r="3.9"/>
<circle cx="705.70" cy="146.49" r="3.9"/>
<circle cx="706.65" cy="146.24" r="3.9"/>
<circle cx="707.60" cy="148.02" r="3.9"/>
<circle cx="708.55" cy="151.39" r="3.9"/>
<circle cx="709.50" cy="157.04" r="3.9"/>
<circle cx="710.45" cy="165.42" r="3.9"/>
<circle cx="711.40" cy="174.64" r="3.9"/>
<circle cx="712.35" cy="184.33" r="3.9"/>
<circle cx="713.30" cy="192.57" r="3.9"/>
<circle cx="714.25" cy="198.91" r="3.9"/>
<circle cx="715.20" cy="203.19" r="3.9"/>
<circle cx="716.15" cy="206.08" r="3.9"/>
<circle cx="717.10" cy="207.58" r="3.9"/>
<circle cx="718.05" cy="208.08" r="3.9"/>
<circle cx="719.00" cy="207.29" r="3.9"/>
<circle cx="719.95" cy="205.39" r="3.9"/>
<circle cx="720.90" cy="201.87" r="3.9"/>
<circle cx="721.85" cy="197.80" r="3.9"/>
<circle cx="722.80" cy="193.73" r="3.9"/>
<circle cx="723.75" cy="190.44" r="3.9"/>
<circle cx="724.70" cy="187.11" r="3.9"/>
<circle cx="725.65" cy="182.92" r="3.9"/>
<circle cx="726.60" cy="177.94" r="3.9"/>
<circle cx="727.55" cy="173.44" r="3.9"/>
<circle cx="728.50" cy="169.42" r="3.9"/>
<circle cx="729.45" cy="166.43" r="3.9"/>
<circle cx="730.40" cy="164.00" r="3.9"/>
<circle cx="731.35" cy="160.78" r="3.9"/>
<circle cx="732.30" cy="155.06" r="3.9"/>
<circle cx="733.25" cy="150.50" r="3.9"/>
<circle cx="734.20" cy="143.74" r="3.9"/>
<circle cx="735.15" cy="135.54" r="3.9"/>
<circle cx="736.10" cy="126.22" r="3.9"/>
<circle cx="737.05" cy="118.38" r="3.9"/>
<circle cx="738.00" cy="110.65" r="3.9"/>
<circle cx="738.95" cy="102.86" r="3.9"/>
<circle cx="739.90" cy="97.50" r="3.9"/>
<circle cx="740.85" cy="95.12" r="3.9"/>
<circle cx="741.80" cy="91.51" r="3.9"/>
<circle cx="742.75" cy="84.68" r="3.9"/>
<circle cx="743.70" cy="75.39" r="3.9"/>
<circle cx="744.65" cy="68.99" r="3.9"/>
<circle cx="745.60" cy="63.80" r="3.9"/>
<circle cx="746.55" cy="60.14" r="3.9"/>
<circle cx="747.50" cy="57.52" r="3.9"/>
<circle cx="748.45" cy="55.58" r="3.9"/>
<circle cx="749.40" cy="54.22" r="3.9"/>
<circle cx="750.35" cy="53.24" r="3.9"/>
<circle cx="751.30" cy="52.41" r="3.9"/>
<circle cx="752.25" cy="52.09" r="3.9"/>
<circle cx="753.20" cy="52.30" r="3.9"/>
<circle cx="754.15" cy="52.87" r="3.9"/>
<circle cx="755.10" cy="53.87" r="3.9"/>
<circle cx="756.05" cy="55.75" r="3.9"/>
<circle cx="757.00" cy="57.68" r="3.9"/>
<circle cx="757.95" cy="58.98" r="3.9"/>
<circle cx="758.90" cy="60.56" r="3.9"/>
<circle cx="759.85" cy="64.00" r="3.9"/>
<circle cx="760.80" cy="70.42" r="3.9"/>
<circle cx="761.75" cy="78.49" r="3.9"/>
<circle cx="762.70" cy="89.00" r="3.9"/>
<circle cx="763.65" cy="97.56" r="3.9"/>
<circle cx="764.60" cy="105.77" r="3.9"/>
<circle cx="765.55" cy="116.58" r="3.9"/>
<circle cx="766.50" cy="125.36" r="3.9"/>
<circle cx="767.45" cy="132.58" r="3.9"/>
<circle cx="768.40" cy="137.91" r="3.9"/>
<circle cx="769.35" cy="143.96" r="3.9"/>
<circle cx="770.30" cy="151.91" r="3.9"/>
<circle cx="771.25" cy="160.07" r="3.9"/>
<circle cx="772.20" cy="168.23" r="3.9"/>
<circle cx="773.15" cy="177.46" r="3.9"/>
<circle cx="774.10" cy="185.21" r="3.9"/>
<circle cx="775.05" cy="190.26" r="3.9"/>
<circle cx="776.00" cy="195.64" r="3.9"/>
<circle cx="776.95" cy="203.45" r="3.9"/>
<circle cx="777.90" cy="209.82" r="3.9"/>
<circle cx="778.85" cy="211.54" r="3.9"/>
<circle cx="779.80" cy="212.70" r="3.9"/>
<circle cx="780.75" cy="213.96" r="3.9"/>
<circle cx="781.70" cy="215.08" r="3.9"/>
<circle cx="782.65" cy="216.08" r="3.9"/>
<circle cx="783.60" cy="217.01" r="3.9"/>
<circle cx="784.55" cy="217.82" r="3.9"/>
<circle cx="785.50" cy="218.45" r="3.9"/>
<circle cx="786.45" cy="218.86" r="3.9"/>
<circle cx="787.40" cy="219.14" r="3.9"/>
<circle cx="788.35" cy="219.46" r="3.9"/>
<circle cx="789.30" cy="219.92" r="3.9"/>
<circle cx="790.25" cy="220.46" r="3.9"/>
<circle cx="791.20" cy="220.93" r="3.9"/>
<circle cx="792.15" cy="221.30" r="3.9"/>
<circle cx="793.10" cy="221.66" r="3.9"/>
<circle cx="794.05" cy="222.10" r="3.9"/>
<circle cx="795.00" cy="222.55" r="3.9"/>
<circle cx="795.95" cy="222.92" r="3.9"/>
<circle cx="796.90" cy="223.19" r="3.9"/>
<circle cx="797.85" cy="223.49" r="3.9"/>
<circle cx="798.80" cy="223.95" r="3.9"/>
<circle cx="799.75" cy="224.54" r="3.9"/>
<circle cx="800.70" cy="225.13" r="3.9"/>
<circle cx="801.65" cy="225.56" r="3.9"/>
<circle cx="802.60" cy="225.86" r="3.9"/>
<circle cx="803.55" cy="226.16" r="3.9"/>
<circle cx="804.50" cy="226.55" r="3.9"/>
<circle cx="805.45" cy="226.99" r="3.9"/>
<circle cx="806.40" cy="227.39" r="3.9"/>
<circle cx="807.35" cy="227.76" r="3.9"/>
<circle cx="808.30" cy="228.19" r="3.9"/>
<circle cx="809.25" cy="228.73" r="3.9"/>
<circle cx="810.20" cy="229.30" r="3.9"/>
<circle cx="811.15" cy="229.76" r="3.9"/>
<circle cx="812.10" cy="230.05" r="3.9"/>
<circle cx="813.05" cy="230.24" r="3.9"/>
<circle cx="814.00" cy="230.51" r="3.9"/>
<circle cx="814.95" cy="230.92" r="3.9"/>
<circle cx="815.90" cy="231.38" r="3.9"/>
<circle cx="816.85" cy="231.79" r="3.9"/>
<circle cx="817.80" cy="232.13" r="3.9"/>
<circle cx="818.75" cy="232.48" r="3.9"/>
<circle cx="819.70" cy="232.88" r="3.9"/>
<circle cx="820.65" cy="233.26" r="3.9"/>
<circle cx="821.60" cy="233.52" r="3.9"/>
<circle cx="822.55" cy="233.67" r="3.9"/>
<circle cx="823.50" cy="233.85" r="3.9"/>
<circle cx="824.45" cy="234.21" r="3.9"/>
<circle cx="825.40" cy="234.72" r="3.9"/>
<circle cx="826.35" cy="235.22" r="3.9"/>
<circle cx="827.30" cy="235.60" r="3.9"/>
<circle cx="828.25" cy="235.86" r="3.9"/>
<circle cx="829.20" cy="236.11" r="3.9"/>
<circle cx="830.15" cy="236.39" r="3.9"/>
<circle cx="831.10" cy="236.64" r="3.9"/>
<circle cx="832.05" cy="236.78" r="3.9"/>
<circle cx="833.00" cy="236.84" r="3.9"/>
<circle cx="833.95" cy="236.96" r="3.9"/>
<circle cx="834.90" cy="237.21" r="3.9"/>
<circle cx="835.85" cy="237.50" r="3.9"/>
<circle cx="836.80" cy="237.66" r="3.9"/>
<circle cx="837.75" cy="237.64" r="3.9"/>
<circle cx="838.70" cy="237.55" r="3.9"/>
<circle cx="839.65" cy="237.53" r="3.9"/>
<circle cx="840.60" cy="237.63" r="3.9"/>
<circle cx="841.55" cy="237.76" r="3.9"/>
<circle cx="842.50" cy="237.84" r="3.9"/>
<circle cx="843.45" cy="237.90" r="3.9"/>
<circle cx="844.40" cy="238.00" r="3.9"/>
<circle cx="845.35" cy="238.17" r="3.9"/>
<circle cx="846.30" cy="238.29" r="3.9"/>
<circle cx="847.25" cy="238.28" r="3.9"/>
<circle cx="848.20" cy="238.15" r="3.9"/>
<circle cx="849.15" cy="238.05" r="3.9"/>
<circle cx="850.10" cy="238.12" r="3.9"/>
<circle cx="851.05" cy="238.33" r="3.9"/>
<circle cx="852.00" cy="238.52" r="3.9"/>
<circle cx="852.95" cy="238.61" r="3.9"/>
<circle cx="853.90" cy="238.63" r="3.9"/>
<circle cx="854.85" cy="238.67" r="3.9"/>
<circle cx="855.80" cy="238.74" r="3.9"/>
<circle cx="856.75" cy="238.79" r="3.9"/>
<circle cx="857.70" cy="238.74" r="3.9"/>
<circle cx="858.65" cy="238.68" r="3.9"/>
<circle cx="859.60" cy="238.72" r="3.9"/>
<circle cx="860.55" cy="238.91" r="3.9"/>
<circle cx="861.50" cy="239.15" r="3.9"/>
<circle cx="862.45" cy="239.27" r="3.9"/>
<circle cx="863.40" cy="239.25" r="3.9"/>
<circle cx="864.35" cy="239.16" r="3.9"/>
<circle cx="865.30" cy="239.15" r="3.9"/>
<circle cx="866.25" cy="239.22" r="3.9"/>
<circle cx="867.20" cy="239.29" r="3.9"/>
<circle cx="868.15" cy="239.33" r="3.9"/>
<circle cx="869.10" cy="239.37" r="3.9"/>
<circle cx="870.05" cy="239.50" r="3.9"/>
<circle cx="871.00" cy="239.70" r="3.9"/>
<circle cx="871.95" cy="239.85" r="3.9"/>
<circle cx="872.90" cy="239.86" r="3.9"/>
<circle cx="873.85" cy="239.76" r="3.9"/>
<circle cx="874.80" cy="239.70" r="3.9"/>
<circle cx="875.75" cy="239.78" r="3.9"/>
<circle cx="876.70" cy="239.97" r="3.9"/>
<circle cx="877.65" cy="240.15" r="3.9"/>
<circle cx="878.60" cy="240.26" r="3.9"/>
<circle cx="879.55" cy="240.34" r="3.9"/>
<circle cx="880.50" cy="240.46" r="3.9"/>
<circle cx="881.45" cy="240.60" r="3.9"/>
<circle cx="882.40" cy="240.68" r="3.9"/>
<circle cx="883.35" cy="240.67" r="3.9"/>
<circle cx="884.30" cy="240.64" r="3.9"/>
<circle cx="885.25" cy="240.72" r="3.9"/>
<circle cx="886.20" cy="240.94" r="3.9"/>
<circle cx="887.15" cy="241.20" r="3.9"/>
<circle cx="888.10" cy="241.37" r="3.9"/>
<circle cx="889.05" cy="241.41" r="3.9"/>
<circle cx="890.00" cy="241.42" r="3.9"/>
<circle cx="890.95" cy="241.48" r="3.9"/>
<circle cx="891.90" cy="241.57" r="3.9"/>
<circle cx="892.85" cy="241.65" r="3.9"/>
<circle cx="893.80" cy="241.68" r="3.9"/>
<circle cx="894.75" cy="241.74" r="3.9"/>
<circle cx="895.70" cy="241.90" r="3.9"/>
<circle cx="896.65" cy="242.14" r="3.9"/>
<circle cx="897.60" cy="242.33" r="3.9"/>
<circle cx="898.55" cy="242.37" r="3.9"/>
<circle cx="899.50" cy="242.31" r="3.9"/>
<circle cx="900.45" cy="242.29" r="3.9"/>
<circle cx="901.40" cy="242.37" r="3.9"/>
<circle cx="902.35" cy="242.53" r="3.9"/>
<circle cx="903.30" cy="242.66" r="3.9"/>
<circle cx="904.25" cy="242.75" r="3.9"/>
<circle cx="905.20" cy="242.83" r="3.9"/>
<circle cx="906.15" cy="242.97" r="3.9"/>
<circle cx="907.10" cy="243.12" r="3.9"/>
<circle cx="908.05" cy="243.17" r="3.9"/>
<circle cx="909.00" cy="243.12" r="3.9"/>
<circle cx="909.95" cy="243.05" r="3.9"/>
<circle cx="910.90" cy="243.08" r="3.9"/>
<circle cx="911.85" cy="243.24" r="3.9"/>
<circle cx="912.80" cy="243.44" r="3.9"/>
<circle cx="913.75" cy="243.55" r="3.9"/>
<circle cx="914.70" cy="243.58" r="3.9"/>
<circle cx="915.65" cy="243.59" r="3.9"/>
<circle cx="916.60" cy="243.63" r="3.9"/>
<circle cx="917.55" cy="243.69" r="3.9"/>
<circle cx="918.50" cy="243.70" r="3.9"/>
<circle cx="919.45" cy="243.66" r="3.9"/>
<circle cx="920.40" cy="243.67" r="3.9"/>
<circle cx="921.35" cy="243.79" r="3.9"/>
<circle cx="922.30" cy="243.99" r="3.9"/>
<circle cx="923.25" cy="244.13" r="3.9"/>
<circle cx="924.20" cy="244.14" r="3.9"/>
<circle cx="925.15" cy="244.08" r="3.9"/>
<circle cx="926.10" cy="244.03" r="3.9"/>
<circle cx="927.05" cy="244.07" r="3.9"/>
<circle cx="928.00" cy="244.16" r="3.9"/>
<circle cx="928.95" cy="244.21" r="3.9"/>
<circle cx="929.90" cy="244.25" r="3.9"/>
<circle cx="930.85" cy="244.31" r="3.9"/>
<circle cx="931.80" cy="244.44" r="3.9"/>
<circle cx="932.75" cy="244.58" r="3.9"/>
<circle cx="933.70" cy="244.61" r="3.9"/>
<circle cx="934.65" cy="244.55" r="3.9"/>
<circle cx="935.60" cy="244.46" r="3.9"/>
<circle cx="936.55" cy="244.47" r="3.9"/>
<circle cx="937.50" cy="244.59" r="3.9"/>
<circle cx="938.45" cy="244.73" r="3.9"/>
<circle cx="939.40" cy="244.81" r="3.9"/>
<circle cx="940.35" cy="244.84" r="3.9"/>
<circle cx="941.30" cy="244.87" r="3.9"/>
<circle cx="942.25" cy="244.93" r="3.9"/>
<circle cx="943.20" cy="244.97" r="3.9"/>
<circle cx="944.15" cy="244.94" r="3.9"/>
<circle cx="945.10" cy="244.87" r="3.9"/>
<circle cx="946.05" cy="244.85" r="3.9"/>
<circle cx="947.00" cy="244.94" r="3.9"/>
<circle cx="947.95" cy="245.10" r="3.9"/>
<circle cx="948.90" cy="245.21" r="3.9"/>
<circle cx="949.85" cy="245.22" r="3.9"/>
<circle cx="950.80" cy="245.16" r="3.9"/>
<circle cx="951.75" cy="245.13" r="3.9"/>
<circle cx="952.70" cy="245.15" r="3.9"/>
<circle cx="953.65" cy="245.18" r="3.9"/>
<circle cx="954.60" cy="245.17" r="3.9"/>
<circle cx="955.55" cy="245.17" r="3.9"/>
<circle cx="956.50" cy="245.21" r="3.9"/>
<circle cx="957.45" cy="245.32" r="3.9"/>
<circle cx="958.40" cy="245.43" r="3.9"/>
<circle cx="959.35" cy="245.45" r="3.9"/>
<circle cx="960.30" cy="245.37" r="3.9"/>
<circle cx="961.25" cy="245.28" r="3.9"/>
<circle cx="962.20" cy="245.26" r="3.9"/>
<circle cx="963.15" cy="245.32" r="3.9"/>
<circle cx="964.10" cy="245.40" r="3.9"/>
<circle cx="965.05" cy="245.43" r="3.9"/>
<circle cx="966.00" cy="245.44" r="3.9"/>
<circle cx="966.95" cy="245.47" r="3.9"/>
<circle cx="967.90" cy="245.53" r="3.9"/>
<circle cx="968.85" cy="245.56" r="3.9"/>
<circle cx="969.80" cy="245.50" r="3.9"/>
<circle cx="970.75" cy="245.41" r="3.9"/>
<circle cx="971.70" cy="245.37" r="3.9"/>
<circle cx="972.65" cy="245.43" r="3.9"/>
<circle cx="973.60" cy="245.55" r="3.9"/>
<circle cx="974.55" cy="245.63" r="3.9"/>
<circle cx="975.50" cy="245.63" r="3.9"/>
<circle cx="976.45" cy="245.59" r="3.9"/>
<circle cx="977.40" cy="245.57" r="3.9"/>
<circle cx="978.35" cy="245.58" r="3.9"/>
<circle cx="979.30" cy="245.58" r="3.9"/>
<circle cx="980.25" cy="245.54" r="3.9"/>
<circle cx="981.20" cy="245.50" r="3.9"/>
</g>
<path d="M581.00,253.00 L581.40,252.05 L581.80,251.13 L582.20,250.22 L582.60,249.34 L583.00,248.47 L583.40,247.63 L583.80,246.80 L584.20,245.99 L584.60,245.16 L585.00,244.34 L585.40,243.57 L585.80,242.87 L586.20,242.30 L586.60,241.78 L587.00,241.27 L587.40,240.83 L587.80,240.52 L588.20,240.40 L588.60,240.53 L589.00,240.85 L589.40,241.29 L589.80,241.77 L590.20,242.23 L590.60,242.76 L591.00,243.34 L591.40,243.96 L591.80,244.60 L592.20,245.27 L592.60,246.00 L593.00,246.75 L593.40,247.49 L593.80,248.18 L594.20,248.82 L594.60,249.53 L595.00,250.23 L595.40,250.81 L595.80,251.15 L596.20,251.14 L596.60,250.72 L597.00,249.99 L597.40,249.09 L597.80,248.11 L598.20,247.20 L598.60,246.39 L599.00,245.53 L599.40,244.63 L599.80,243.73 L600.20,242.85 L600.60,242.00 L601.00,241.21 L601.40,240.47 L601.80,239.75 L602.20,239.06 L602.60,238.38 L603.00,237.72 L603.40,237.05 L603.80,236.39 L604.20,235.72 L604.60,235.03 L605.00,234.32 L605.40,233.58 L605.80,232.80 L606.20,231.95 L606.60,231.05 L607.00,230.10 L607.40,229.14 L607.80,228.18 L608.20,227.25 L608.60,226.37 L609.00,225.55 L609.40,224.82 L609.80,224.20 L610.20,223.66 L610.60,223.15 L611.00,222.70 L611.40,222.31 L611.80,222.00 L612.20,221.72 L612.60,221.46 L613.00,221.27 L613.40,221.20 L613.80,221.32 L614.20,221.63 L614.60,222.07 L615.00,222.56 L615.40,223.05 L615.80,223.63 L616.20,224.31 L616.60,225.10 L617.00,226.00 L617.40,227.10 L617.80,228.45 L618.20,230.00 L618.60,231.70 L619.00,233.49 L619.40,235.31 L619.80,237.12 L620.20,238.89 L620.60,240.77 L621.00,242.69 L621.40,244.55 L621.80,246.57 L622.20,248.47 L622.60,248.47 L623.00,246.45 L623.40,244.00 L623.80,241.76 L624.20,239.35 L624.60,236.85 L625.00,234.31 L625.40,231.55 L625.80,228.67 L626.20,225.83 L626.60,223.20 L627.00,220.94 L627.40,219.14 L627.80,217.47 L628.20,215.92 L628.60,214.54 L629.00,213.39 L629.40,212.52 L629.80,211.93 L630.20,211.42 L630.60,211.00 L631.00,210.71 L631.40,210.60 L631.80,210.73 L632.20,211.09 L632.60,211.64 L633.00,212.33 L633.40,213.13 L633.80,214.00 L634.20,215.20 L634.60,216.93 L635.00,219.03 L635.40,221.34 L635.80,223.72 L636.20,226.00 L636.60,228.33 L637.00,230.86 L637.40,233.47 L637.80,236.01 L638.20,238.37 L638.60,240.40 L639.00,242.40 L639.40,244.21 L639.80,245.00 L640.20,244.31 L640.60,242.80 L641.00,241.14 L641.40,239.07 L641.80,236.93 L642.20,234.66 L642.60,232.31 L643.00,229.96 L643.40,227.72 L643.80,225.70 L644.20,223.94 L644.60,222.22 L645.00,220.57 L645.40,219.06 L645.80,217.76 L646.20,216.77 L646.60,216.09 L647.00,215.48 L647.40,214.93 L647.80,214.45 L648.20,214.05 L648.60,213.77 L649.00,213.62 L649.40,213.62 L649.80,213.74 L650.20,213.96 L650.60,214.27 L651.00,214.64 L651.40,215.06 L651.80,215.51 L652.20,215.97 L652.60,216.43 L653.00,216.85 L653.40,217.23 L653.80,217.56 L654.20,217.86 L654.60,218.15 L655.00,218.42 L655.40,218.69 L655.80,218.96 L656.20,219.23 L656.60,219.50 L657.00,219.78 L657.40,220.07 L657.80,220.37 L658.20,220.69 L658.60,221.02 L659.00,221.38 L659.40,221.78 L659.80,222.21 L660.20,222.65 L660.60,223.12 L661.00,223.60 L661.40,224.08 L661.80,224.56 L662.20,225.05 L662.60,225.63 L663.00,226.27 L663.40,226.94 L663.80,227.60 L664.20,228.23 L664.60,228.77 L665.00,229.21 L665.40,229.50 L665.80,229.60 L666.20,229.47 L666.60,229.12 L667.00,228.60 L667.40,227.95 L667.80,227.22 L668.20,226.47 L668.60,225.74 L669.00,225.09 L669.40,224.52 L669.80,223.88 L670.20,223.20 L670.60,222.53 L671.00,221.94 L671.40,221.49 L671.80,221.23 L672.20,221.22 L672.60,221.39 L673.00,221.70 L673.40,222.11 L673.80,222.61 L674.20,223.17 L674.60,223.75 L675.00,224.32 L675.40,224.87 L675.80,225.43 L676.20,226.14 L676.60,226.93 L677.00,227.72 L677.40,228.45 L677.80,229.04 L678.20,229.41 L678.60,229.45 L679.00,228.53 L679.40,226.89 L679.80,224.96 L680.20,222.17 L680.60,219.00 L681.00,215.55 L681.40,211.71 L681.80,207.87 L682.20,204.40 L682.60,201.25 L683.00,198.18 L683.40,195.22 L683.80,192.44 L684.20,189.89 L684.60,187.62 L685.00,185.64 L685.40,183.80 L685.80,182.15 L686.20,180.78 L686.60,179.78 L687.00,178.90 L687.40,178.19 L687.80,177.82 L688.20,177.99 L688.60,178.75 L689.00,179.88 L689.40,181.17 L689.80,182.67 L690.20,184.70 L690.60,187.06 L691.00,189.51 L691.40,191.91 L691.80,194.46 L692.20,197.12 L692.60,199.85 L693.00,202.60 L693.40,205.33 L693.80,208.00 L694.20,211.06 L694.60,214.50 L695.00,217.54 L695.40,219.43 L695.80,219.26 L696.20,216.54 L696.60,213.15 L697.00,208.92 L697.40,204.40 L697.80,200.21 L698.20,196.04 L698.60,191.90 L699.00,187.79 L699.40,183.69 L699.80,179.63 L700.20,175.57 L700.60,171.52 L701.00,167.47 L701.40,163.45 L701.80,159.48 L702.20,155.57 L702.60,151.74 L703.00,147.88 L703.40,143.86 L703.80,140.00 L704.20,136.65 L704.60,134.14 L705.00,131.90 L705.40,129.86 L705.80,128.30 L706.20,127.54 L706.60,127.73 L707.00,128.61 L707.40,129.84 L707.80,131.25 L708.20,133.26 L708.60,135.71 L709.00,138.30 L709.40,141.03 L709.80,144.04 L710.20,147.25 L710.60,150.58 L711.00,153.94 L711.40,157.27 L711.80,160.50 L712.20,163.72 L712.60,166.98 L713.00,170.25 L713.40,173.48 L713.80,176.65 L714.20,179.71 L714.60,182.69 L715.00,185.70 L715.40,188.39 L715.80,190.56 L716.20,192.57 L716.60,193.50 L717.00,192.87 L717.40,191.36 L717.80,189.48 L718.20,186.40 L718.60,182.78 L719.00,179.75 L719.40,176.75 L719.80,173.73 L720.20,170.86 L720.60,168.30 L721.00,166.21 L721.40,164.75 L721.80,163.86 L722.20,163.15 L722.60,162.62 L723.00,162.30 L723.40,162.13 L723.80,162.01 L724.20,161.91 L724.60,161.83 L725.00,161.75 L725.40,161.66 L725.80,161.54 L726.20,161.44 L726.60,161.35 L727.00,161.26 L727.40,161.15 L727.80,161.02 L728.20,160.85 L728.60,160.63 L729.00,160.24 L729.40,159.14 L729.80,157.48 L730.20,155.56 L730.60,153.57 L731.00,151.10 L731.40,148.28 L731.80,145.34 L732.20,142.51 L732.60,139.74 L733.00,136.93 L733.40,134.04 L733.80,131.03 L734.20,127.84 L734.60,124.53 L735.00,121.21 L735.40,118.01 L735.80,114.89 L736.20,111.81 L736.60,108.78 L737.00,105.80 L737.40,102.71 L737.80,99.56 L738.20,96.68 L738.60,94.40 L739.00,92.65 L739.40,91.13 L739.80,89.78 L740.20,88.56 L740.60,87.42 L741.00,86.30 L741.40,85.23 L741.80,84.25 L742.20,83.32 L742.60,82.44 L743.00,81.56 L743.40,80.68 L743.80,79.75 L744.20,78.76 L744.60,77.69 L745.00,76.55 L745.40,75.36 L745.80,74.14 L746.20,72.91 L746.60,71.67 L747.00,70.46 L747.40,69.29 L747.80,68.14 L748.20,66.98 L748.60,65.81 L749.00,64.66 L749.40,63.53 L749.80,62.44 L750.20,61.41 L750.60,60.45 L751.00,59.56 L751.40,58.71 L751.80,57.91 L752.20,57.22 L752.60,56.67 L753.00,56.16 L753.40,55.71 L753.80,55.44 L754.20,55.44 L754.60,55.71 L755.00,56.16 L755.40,56.72 L755.80,57.32 L756.20,58.14 L756.60,59.14 L757.00,60.25 L757.40,61.39 L757.80,62.59 L758.20,63.89 L758.60,65.27 L759.00,66.71 L759.40,68.21 L759.80,69.75 L760.20,71.32 L760.60,72.90 L761.00,74.53 L761.40,76.22 L761.80,77.96 L762.20,79.75 L762.60,81.58 L763.00,83.43 L763.40,85.31 L763.80,87.20 L764.20,89.11 L764.60,91.05 L765.00,93.02 L765.40,95.03 L765.80,97.07 L766.20,99.14 L766.60,101.25 L767.00,103.40 L767.40,105.58 L767.80,107.78 L768.20,110.03 L768.60,112.35 L769.00,114.74 L769.40,117.22 L769.80,119.79 L770.20,122.41 L770.60,125.14 L771.00,128.06 L771.40,131.26 L771.80,134.89 L772.20,139.18 L772.60,143.93 L773.00,148.90 L773.40,153.81 L773.80,158.59 L774.20,163.49 L774.60,168.41 L775.00,173.25 L775.40,177.88 L775.80,182.15 L776.20,186.02 L776.60,189.80 L777.00,193.85 L777.40,198.50 L777.80,204.58 L778.20,211.24 L778.60,216.58 L779.00,221.04 L779.40,225.01 L779.80,229.03 L780.20,228.95 L780.60,225.00 L781.00,220.78 L781.40,217.32 L781.80,214.80 L782.20,212.62 L782.60,210.77 L783.00,209.24 L783.40,208.02 L783.80,206.97 L784.20,206.04 L784.60,205.28 L785.00,204.70 L785.40,204.33 L785.80,204.01 L786.20,203.73 L786.60,203.53 L787.00,203.42 L787.40,203.44 L787.80,203.72 L788.20,204.24 L788.60,204.94 L789.00,205.77 L789.40,206.68 L789.80,207.61 L790.20,208.53 L790.60,209.66 L791.00,211.01 L791.40,212.49 L791.80,214.02 L792.20,215.51 L792.60,216.87 L793.00,218.00 L793.40,219.03 L793.80,220.10 L794.20,221.15 L794.60,222.11 L795.00,222.92 L795.40,223.52 L795.80,223.86 L796.20,223.89 L796.60,223.79 L797.00,223.63 L797.40,223.43 L797.80,223.22 L798.20,223.05 L798.60,222.93 L799.00,222.90 L799.40,222.90 L799.80,222.90 L800.20,222.90 L800.60,222.90 L801.00,222.90 L801.40,222.90 L801.80,222.90 L802.20,223.07 L802.60,223.51 L803.00,224.17 L803.40,224.97 L803.80,225.83 L804.20,226.69 L804.60,227.46 L805.00,228.13 L805.40,228.85 L805.80,229.63 L806.20,230.44 L806.60,231.23 L807.00,231.97 L807.40,232.62 L807.80,233.15 L808.20,233.52 L808.60,233.69 L809.00,233.63 L809.40,233.35 L809.80,232.91 L810.20,232.38 L810.60,231.81 L811.00,231.29 L811.40,230.86 L811.80,230.56 L812.20,230.29 L812.60,230.02 L813.00,229.75 L813.40,229.51 L813.80,229.29 L814.20,229.10 L814.60,228.95 L815.00,228.85 L815.40,228.80 L815.80,228.83 L816.20,228.98 L816.60,229.22 L817.00,229.54 L817.40,229.92 L817.80,230.33 L818.20,230.77 L818.60,231.20 L819.00,231.62 L819.40,232.00 L819.80,232.36 L820.20,232.71 L820.60,233.08 L821.00,233.46 L821.40,233.86 L821.80,234.28 L822.20,234.75 L822.60,235.35 L823.00,236.04 L823.40,236.78 L823.80,237.51 L824.20,238.17 L824.60,238.70 L825.00,239.07 L825.40,239.20 L825.80,239.19 L826.20,239.15 L826.60,239.09 L827.00,239.01 L827.40,238.92 L827.80,238.82 L828.20,238.73 L828.60,238.63 L829.00,238.53 L829.40,238.45 L829.80,238.38 L830.20,238.33 L830.60,238.30 L831.00,238.31 L831.40,238.39 L831.80,238.54 L832.20,238.75 L832.60,239.00 L833.00,239.28 L833.40,239.58 L833.80,239.87 L834.20,240.16 L834.60,240.43 L835.00,240.66 L835.40,240.84 L835.80,240.96 L836.20,241.00 L836.60,240.97 L837.00,240.88 L837.40,240.74 L837.80,240.57 L838.20,240.36 L838.60,240.12 L839.00,239.87 L839.40,239.62 L839.80,239.36 L840.20,239.12 L840.60,238.89 L841.00,238.69 L841.40,238.52 L841.80,238.39 L842.20,238.32 L842.60,238.30 L843.00,238.37 L843.40,238.53 L843.80,238.76 L844.20,239.06 L844.60,239.41 L845.00,239.80 L845.40,240.22 L845.80,240.66 L846.20,241.11 L846.60,241.56 L847.00,241.99 L847.40,242.40 L847.80,242.77 L848.20,243.09 L848.60,243.36 L849.00,243.56 L849.40,243.67 L849.80,243.70 L850.20,243.62 L850.60,243.45 L851.00,243.20 L851.40,242.87 L851.80,242.49 L852.20,242.06 L852.60,241.60 L853.00,241.11 L853.40,240.60 L853.80,240.10 L854.20,239.60 L854.60,239.13 L855.00,238.69 L855.40,238.29 L855.80,237.95 L856.20,237.68 L856.60,237.49 L857.00,237.38 L857.40,237.30 L857.80,237.23 L858.20,237.15 L858.60,237.09 L859.00,237.02 L859.40,236.96 L859.80,236.90 L860.20,236.84 L860.60,236.79 L861.00,236.74 L861.40,236.70 L861.80,236.66 L862.20,236.62 L862.60,236.59 L863.00,236.56 L863.40,236.54 L863.80,236.52 L864.20,236.51 L864.60,236.50 L865.00,236.50 L865.40,236.51 L865.80,236.53 L866.20,236.56 L866.60,236.61 L867.00,236.67 L867.40,236.74 L867.80,236.83 L868.20,236.92 L868.60,237.02 L869.00,237.14 L869.40,237.26 L869.80,237.39 L870.20,237.53 L870.60,237.67 L871.00,237.82 L871.40,237.97 L871.80,238.14 L872.20,238.30 L872.60,238.53 L873.00,238.87 L873.40,239.31 L873.80,239.84 L874.20,240.43 L874.60,241.08 L875.00,241.76 L875.40,242.46 L875.80,243.17 L876.20,243.88 L876.60,244.55 L877.00,245.19 L877.40,245.77 L877.80,246.28 L878.20,246.70 L878.60,247.02 L879.00,247.23 L879.40,247.30 L879.80,247.25 L880.20,247.11 L880.60,246.89 L881.00,246.60 L881.40,246.26 L881.80,245.87 L882.20,245.44 L882.60,245.00 L883.00,244.54 L883.40,244.09 L883.80,243.65 L884.20,243.23 L884.60,242.85 L885.00,242.52 L885.40,242.25 L885.80,242.05 L886.20,241.93 L886.60,241.90 L887.00,241.91 L887.40,241.94 L887.80,241.98 L888.20,242.03 L888.60,242.09 L889.00,242.15 L889.40,242.22 L889.80,242.29 L890.20,242.37 L890.60,242.44 L891.00,242.52 L891.40,242.58 L891.80,242.65 L892.20,242.70 L892.60,242.74 L893.00,242.78 L893.40,242.80 L893.80,242.80 L894.20,242.75 L894.60,242.65 L895.00,242.49 L895.40,242.29 L895.80,242.05 L896.20,241.78 L896.60,241.48 L897.00,241.17 L897.40,240.84 L897.80,240.51 L898.20,240.18 L898.60,239.85 L899.00,239.54 L899.40,239.25 L899.80,238.99 L900.20,238.76 L900.60,238.57 L901.00,238.42 L901.40,238.33 L901.80,238.30 L902.20,238.33 L902.60,238.40 L903.00,238.51 L903.40,238.67 L903.80,238.86 L904.20,239.08 L904.60,239.33 L905.00,239.59 L905.40,239.88 L905.80,240.17 L906.20,240.48 L906.60,240.79 L907.00,241.09 L907.40,241.40 L907.80,241.69 L908.20,241.97 L908.60,242.27 L909.00,242.59 L909.40,242.93 L909.80,243.30 L910.20,243.67 L910.60,244.06 L911.00,244.46 L911.40,244.86 L911.80,245.26 L912.20,245.65 L912.60,246.04 L913.00,246.42 L913.40,246.78 L913.80,247.13 L914.20,247.45 L914.60,247.75 L915.00,248.02 L915.40,248.26 L915.80,248.49 L916.20,248.73 L916.60,248.97 L917.00,249.20 L917.40,249.43 L917.80,249.66 L918.20,249.87 L918.60,250.07 L919.00,250.26 L919.40,250.43 L919.80,250.57 L920.20,250.70 L920.60,250.79 L921.00,250.86 L921.40,250.90 L921.80,250.89 L922.20,250.78 L922.60,250.58 L923.00,250.30 L923.40,249.97 L923.80,249.59 L924.20,249.20 L924.60,248.80 L925.00,248.42 L925.40,248.06 L925.80,247.75 L926.20,247.51 L926.60,247.36 L927.00,247.30 L927.40,247.30 L927.80,247.30 L928.20,247.30 L928.60,247.30 L929.00,247.30 L929.40,247.30 L929.80,247.30 L930.20,247.30 L930.60,247.30 L931.00,247.30 L931.40,247.30 L931.80,247.30 L932.20,247.30 L932.60,247.31 L933.00,247.39 L933.40,247.54 L933.80,247.74 L934.20,248.00 L934.60,248.30 L935.00,248.64 L935.40,248.99 L935.80,249.36 L936.20,249.74 L936.60,250.11 L937.00,250.46 L937.40,250.80 L937.80,251.10 L938.20,251.36 L938.60,251.56 L939.00,251.71 L939.40,251.79 L939.80,251.79 L940.20,251.73 L940.60,251.62 L941.00,251.46 L941.40,251.26 L941.80,251.04 L942.20,250.80 L942.60,250.55 L943.00,250.29 L943.40,250.04 L943.80,249.80 L944.20,249.58 L944.60,249.40 L945.00,249.25 L945.40,249.15 L945.80,249.10 L946.20,249.10 L946.60,249.12 L947.00,249.16 L947.40,249.20 L947.80,249.25 L948.20,249.32 L948.60,249.38 L949.00,249.46 L949.40,249.53 L949.80,249.61 L950.20,249.68 L950.60,249.75 L951.00,249.81 L951.40,249.87 L951.80,249.92 L952.20,249.96 L952.60,249.99 L953.00,250.00 L953.40,249.99 L953.80,249.93 L954.20,249.83 L954.60,249.70 L955.00,249.54 L955.40,249.35 L955.80,249.15 L956.20,248.93 L956.60,248.71 L957.00,248.48 L957.40,248.26 L957.80,248.05 L958.20,247.86 L958.60,247.68 L959.00,247.53 L959.40,247.42 L959.80,247.34 L960.20,247.30 L960.60,247.30 L961.00,247.30 L961.40,247.30 L961.80,247.30 L962.20,247.30 L962.60,247.30 L963.00,247.30 L963.40,247.30 L963.80,247.30 L964.20,247.30 L964.60,247.30 L965.00,247.30 L965.40,247.30 L965.80,247.30 L966.20,247.30 L966.60,247.30 L967.00,247.30 L967.40,247.30 L967.80,247.31 L968.20,247.33 L968.60,247.37 L969.00,247.43 L969.40,247.51 L969.80,247.59 L970.20,247.69 L970.60,247.80 L971.00,247.92 L971.40,248.04 L971.80,248.17 L972.20,248.30 L972.60,248.43 L973.00,248.57 L973.40,248.70 L973.80,248.83 L974.20,248.95 L974.60,249.07 L975.00,249.18 L975.40,249.30 L975.80,249.42 L976.20,249.53 L976.60,249.65 L977.00,249.78 L977.40,249.90 L977.80,250.02 L978.20,250.15 L978.60,250.28 L979.00,250.41 L979.40,250.54 L979.80,250.68 L980.20,250.81 L980.60,250.95 L981.00,251.08 L981.40,251.22 L981.80,251.36" fill="none" stroke="#0000ff" stroke-width="3.2" stroke-linejoin="round" stroke-linecap="round"/>
<g fill="none" stroke="#000" stroke-width="2.0">
<circle cx="581.00" cy="516.35" r="3.9"/>
<circle cx="581.80" cy="516.47" r="3.9"/>
<circle cx="582.60" cy="516.52" r="3.9"/>
<circle cx="583.40" cy="516.53" r="3.9"/>
<circle cx="584.20" cy="516.56" r="3.9"/>
<circle cx="585.00" cy="516.62" r="3.9"/>
<circle cx="585.80" cy="516.68" r="3.9"/>
<circle cx="586.60" cy="516.67" r="3.9"/>
<circle cx="587.40" cy="516.57" r="3.9"/>
<circle cx="588.20" cy="516.44" r="3.9"/>
<circle cx="589.00" cy="516.37" r="3.9"/>
<circle cx="589.80" cy="516.42" r="3.9"/>
<circle cx="590.60" cy="516.56" r="3.9"/>
<circle cx="591.40" cy="516.71" r="3.9"/>
<circle cx="592.20" cy="516.77" r="3.9"/>
<circle cx="593.00" cy="516.72" r="3.9"/>
<circle cx="593.80" cy="516.62" r="3.9"/>
<circle cx="594.60" cy="516.53" r="3.9"/>
<circle cx="595.40" cy="516.50" r="3.9"/>
<circle cx="596.20" cy="516.49" r="3.9"/>
<circle cx="597.00" cy="516.45" r="3.9"/>
<circle cx="597.80" cy="516.37" r="3.9"/>
<circle cx="598.60" cy="516.29" r="3.9"/>
<circle cx="599.40" cy="516.29" r="3.9"/>
<circle cx="600.20" cy="516.38" r="3.9"/>
<circle cx="601.00" cy="516.51" r="3.9"/>
<circle cx="601.80" cy="516.57" r="3.9"/>
<circle cx="602.60" cy="516.51" r="3.9"/>
<circle cx="603.40" cy="516.34" r="3.9"/>
<circle cx="604.20" cy="516.16" r="3.9"/>
<circle cx="605.00" cy="516.05" r="3.9"/>
<circle cx="605.80" cy="516.03" r="3.9"/>
<circle cx="606.60" cy="516.05" r="3.9"/>
<circle cx="607.40" cy="516.04" r="3.9"/>
<circle cx="608.20" cy="515.97" r="3.9"/>
<circle cx="609.00" cy="515.80" r="3.9"/>
<circle cx="609.80" cy="515.56" r="3.9"/>
<circle cx="610.60" cy="515.30" r="3.9"/>
<circle cx="611.40" cy="515.01" r="3.9"/>
<circle cx="612.20" cy="514.69" r="3.9"/>
<circle cx="613.00" cy="514.35" r="3.9"/>
<circle cx="613.80" cy="514.08" r="3.9"/>
<circle cx="614.60" cy="513.99" r="3.9"/>
<circle cx="615.40" cy="514.04" r="3.9"/>
<circle cx="616.20" cy="514.22" r="3.9"/>
<circle cx="617.00" cy="514.42" r="3.9"/>
<circle cx="617.80" cy="514.55" r="3.9"/>
<circle cx="618.60" cy="514.58" r="3.9"/>
<circle cx="619.40" cy="514.56" r="3.9"/>
<circle cx="620.20" cy="514.52" r="3.9"/>
<circle cx="621.00" cy="514.37" r="3.9"/>
<circle cx="621.80" cy="514.06" r="3.9"/>
<circle cx="622.60" cy="513.58" r="3.9"/>
<circle cx="623.40" cy="513.00" r="3.9"/>
<circle cx="624.20" cy="512.39" r="3.9"/>
<circle cx="625.00" cy="511.87" r="3.9"/>
<circle cx="625.80" cy="511.35" r="3.9"/>
<circle cx="626.60" cy="510.71" r="3.9"/>
<circle cx="627.40" cy="510.08" r="3.9"/>
<circle cx="628.20" cy="509.53" r="3.9"/>
<circle cx="629.00" cy="508.94" r="3.9"/>
<circle cx="629.80" cy="508.40" r="3.9"/>
<circle cx="630.60" cy="508.10" r="3.9"/>
<circle cx="631.40" cy="508.25" r="3.9"/>
<circle cx="632.20" cy="508.83" r="3.9"/>
<circle cx="633.00" cy="509.54" r="3.9"/>
<circle cx="633.80" cy="510.24" r="3.9"/>
<circle cx="634.60" cy="511.24" r="3.9"/>
<circle cx="635.40" cy="512.29" r="3.9"/>
<circle cx="636.20" cy="513.03" r="3.9"/>
<circle cx="637.00" cy="513.19" r="3.9"/>
<circle cx="637.80" cy="513.19" r="3.9"/>
<circle cx="638.60" cy="513.07" r="3.9"/>
<circle cx="639.40" cy="512.91" r="3.9"/>
<circle cx="640.20" cy="512.39" r="3.9"/>
<circle cx="641.00" cy="511.09" r="3.9"/>
<circle cx="641.80" cy="509.72" r="3.9"/>
<circle cx="642.60" cy="508.80" r="3.9"/>
<circle cx="643.40" cy="507.94" r="3.9"/>
<circle cx="644.20" cy="507.24" r="3.9"/>
<circle cx="645.00" cy="506.78" r="3.9"/>
<circle cx="645.80" cy="506.45" r="3.9"/>
<circle cx="646.60" cy="506.42" r="3.9"/>
<circle cx="647.40" cy="507.17" r="3.9"/>
<circle cx="648.20" cy="508.33" r="3.9"/>
<circle cx="649.00" cy="510.16" r="3.9"/>
<circle cx="649.80" cy="512.07" r="3.9"/>
<circle cx="650.60" cy="513.53" r="3.9"/>
<circle cx="651.40" cy="514.74" r="3.9"/>
<circle cx="652.20" cy="514.84" r="3.9"/>
<circle cx="653.00" cy="513.56" r="3.9"/>
<circle cx="653.80" cy="511.84" r="3.9"/>
<circle cx="654.60" cy="509.28" r="3.9"/>
<circle cx="655.40" cy="506.75" r="3.9"/>
<circle cx="656.20" cy="504.81" r="3.9"/>
<circle cx="657.00" cy="503.16" r="3.9"/>
<circle cx="657.80" cy="502.18" r="3.9"/>
<circle cx="658.60" cy="501.54" r="3.9"/>
<circle cx="659.40" cy="501.55" r="3.9"/>
<circle cx="660.20" cy="502.50" r="3.9"/>
<circle cx="661.00" cy="503.87" r="3.9"/>
<circle cx="661.80" cy="506.19" r="3.9"/>
<circle cx="662.60" cy="508.92" r="3.9"/>
<circle cx="663.40" cy="511.38" r="3.9"/>
<circle cx="664.20" cy="513.64" r="3.9"/>
<circle cx="665.00" cy="514.97" r="3.9"/>
<circle cx="665.80" cy="515.54" r="3.9"/>
<circle cx="666.60" cy="514.68" r="3.9"/>
<circle cx="667.40" cy="512.71" r="3.9"/>
<circle cx="668.20" cy="509.22" r="3.9"/>
<circle cx="669.00" cy="505.00" r="3.9"/>
<circle cx="669.80" cy="500.69" r="3.9"/>
<circle cx="670.60" cy="496.72" r="3.9"/>
<circle cx="671.40" cy="494.05" r="3.9"/>
<circle cx="672.20" cy="491.95" r="3.9"/>
<circle cx="673.00" cy="491.48" r="3.9"/>
<circle cx="673.80" cy="491.97" r="3.9"/>
<circle cx="674.60" cy="492.98" r="3.9"/>
<circle cx="675.40" cy="495.07" r="3.9"/>
<circle cx="676.20" cy="497.99" r="3.9"/>
<circle cx="677.00" cy="500.61" r="3.9"/>
<circle cx="677.80" cy="503.21" r="3.9"/>
<circle cx="678.60" cy="504.83" r="3.9"/>
<circle cx="679.40" cy="505.84" r="3.9"/>
<circle cx="680.20" cy="506.05" r="3.9"/>
<circle cx="681.00" cy="505.23" r="3.9"/>
<circle cx="681.80" cy="504.00" r="3.9"/>
<circle cx="682.60" cy="502.45" r="3.9"/>
<circle cx="683.40" cy="500.25" r="3.9"/>
<circle cx="684.20" cy="497.13" r="3.9"/>
<circle cx="685.00" cy="491.87" r="3.9"/>
<circle cx="685.80" cy="483.58" r="3.9"/>
<circle cx="686.60" cy="475.65" r="3.9"/>
<circle cx="687.40" cy="469.92" r="3.9"/>
<circle cx="688.20" cy="466.61" r="3.9"/>
<circle cx="689.00" cy="465.19" r="3.9"/>
<circle cx="689.80" cy="465.76" r="3.9"/>
<circle cx="690.60" cy="467.12" r="3.9"/>
<circle cx="691.40" cy="469.46" r="3.9"/>
<circle cx="692.20" cy="471.35" r="3.9"/>
<circle cx="693.00" cy="472.77" r="3.9"/>
<circle cx="693.80" cy="472.53" r="3.9"/>
<circle cx="694.60" cy="470.58" r="3.9"/>
<circle cx="695.40" cy="467.49" r="3.9"/>
<circle cx="696.20" cy="462.65" r="3.9"/>
<circle cx="697.00" cy="456.23" r="3.9"/>
<circle cx="697.80" cy="451.35" r="3.9"/>
<circle cx="698.60" cy="447.96" r="3.9"/>
<circle cx="699.41" cy="443.63" r="3.9"/>
<circle cx="700.25" cy="436.38" r="3.9"/>
<circle cx="701.11" cy="431.38" r="3.9"/>
<circle cx="701.98" cy="427.65" r="3.9"/>
<circle cx="702.88" cy="423.93" r="3.9"/>
<circle cx="703.81" cy="420.66" r="3.9"/>
<circle cx="704.75" cy="418.96" r="3.9"/>
<circle cx="705.70" cy="417.95" r="3.9"/>
<circle cx="706.65" cy="418.14" r="3.9"/>
<circle cx="707.60" cy="419.25" r="3.9"/>
<circle cx="708.55" cy="420.99" r="3.9"/>
<circle cx="709.50" cy="423.50" r="3.9"/>
<circle cx="710.45" cy="426.05" r="3.9"/>
<circle cx="711.40" cy="430.09" r="3.9"/>
<circle cx="712.35" cy="436.32" r="3.9"/>
<circle cx="713.30" cy="442.41" r="3.9"/>
<circle cx="714.25" cy="448.38" r="3.9"/>
<circle cx="715.20" cy="455.17" r="3.9"/>
<circle cx="716.15" cy="461.58" r="3.9"/>
<circle cx="717.10" cy="466.12" r="3.9"/>
<circle cx="718.05" cy="468.28" r="3.9"/>
<circle cx="719.00" cy="469.09" r="3.9"/>
<circle cx="719.95" cy="469.32" r="3.9"/>
<circle cx="720.90" cy="468.48" r="3.9"/>
<circle cx="721.85" cy="467.01" r="3.9"/>
<circle cx="722.80" cy="464.58" r="3.9"/>
<circle cx="723.75" cy="461.47" r="3.9"/>
<circle cx="724.70" cy="457.58" r="3.9"/>
<circle cx="725.65" cy="452.95" r="3.9"/>
<circle cx="726.60" cy="448.28" r="3.9"/>
<circle cx="727.55" cy="444.65" r="3.9"/>
<circle cx="728.50" cy="440.49" r="3.9"/>
<circle cx="729.45" cy="433.09" r="3.9"/>
<circle cx="730.40" cy="425.68" r="3.9"/>
<circle cx="731.35" cy="418.28" r="3.9"/>
<circle cx="732.30" cy="409.12" r="3.9"/>
<circle cx="733.25" cy="398.19" r="3.9"/>
<circle cx="734.20" cy="388.55" r="3.9"/>
<circle cx="735.15" cy="378.54" r="3.9"/>
<circle cx="736.10" cy="369.07" r="3.9"/>
<circle cx="737.05" cy="358.80" r="3.9"/>
<circle cx="738.00" cy="350.53" r="3.9"/>
<circle cx="738.95" cy="344.87" r="3.9"/>
<circle cx="739.90" cy="340.52" r="3.9"/>
<circle cx="740.85" cy="336.59" r="3.9"/>
<circle cx="741.80" cy="332.25" r="3.9"/>
<circle cx="742.75" cy="328.02" r="3.9"/>
<circle cx="743.70" cy="323.99" r="3.9"/>
<circle cx="744.65" cy="320.37" r="3.9"/>
<circle cx="745.60" cy="316.99" r="3.9"/>
<circle cx="746.55" cy="313.60" r="3.9"/>
<circle cx="747.50" cy="310.38" r="3.9"/>
<circle cx="748.45" cy="307.70" r="3.9"/>
<circle cx="749.40" cy="305.36" r="3.9"/>
<circle cx="750.35" cy="303.52" r="3.9"/>
<circle cx="751.30" cy="301.97" r="3.9"/>
<circle cx="752.25" cy="300.94" r="3.9"/>
<circle cx="753.20" cy="300.28" r="3.9"/>
<circle cx="754.15" cy="300.12" r="3.9"/>
<circle cx="755.10" cy="300.60" r="3.9"/>
<circle cx="756.05" cy="301.40" r="3.9"/>
<circle cx="757.00" cy="302.29" r="3.9"/>
<circle cx="757.95" cy="303.57" r="3.9"/>
<circle cx="758.90" cy="305.42" r="3.9"/>
<circle cx="759.85" cy="308.44" r="3.9"/>
<circle cx="760.80" cy="313.05" r="3.9"/>
<circle cx="761.75" cy="319.30" r="3.9"/>
<circle cx="762.70" cy="328.30" r="3.9"/>
<circle cx="763.65" cy="339.79" r="3.9"/>
<circle cx="764.60" cy="349.79" r="3.9"/>
<circle cx="765.55" cy="359.92" r="3.9"/>
<circle cx="766.50" cy="370.32" r="3.9"/>
<circle cx="767.45" cy="380.91" r="3.9"/>
<circle cx="768.40" cy="390.82" r="3.9"/>
<circle cx="769.35" cy="400.31" r="3.9"/>
<circle cx="770.30" cy="410.92" r="3.9"/>
<circle cx="771.25" cy="421.89" r="3.9"/>
<circle cx="772.20" cy="432.82" r="3.9"/>
<circle cx="773.15" cy="443.66" r="3.9"/>
<circle cx="774.10" cy="453.79" r="3.9"/>
<circle cx="775.05" cy="464.17" r="3.9"/>
<circle cx="776.00" cy="474.94" r="3.9"/>
<circle cx="776.95" cy="485.58" r="3.9"/>
<circle cx="777.90" cy="490.67" r="3.9"/>
<circle cx="778.85" cy="490.75" r="3.9"/>
<circle cx="779.80" cy="488.62" r="3.9"/>
<circle cx="780.75" cy="484.72" r="3.9"/>
<circle cx="781.70" cy="482.50" r="3.9"/>
<circle cx="782.65" cy="480.91" r="3.9"/>
<circle cx="783.60" cy="479.94" r="3.9"/>
<circle cx="784.55" cy="479.29" r="3.9"/>
<circle cx="785.50" cy="478.76" r="3.9"/>
<circle cx="786.45" cy="478.38" r="3.9"/>
<circle cx="787.40" cy="478.42" r="3.9"/>
<circle cx="788.35" cy="479.14" r="3.9"/>
<circle cx="789.30" cy="480.22" r="3.9"/>
<circle cx="790.25" cy="481.59" r="3.9"/>
<circle cx="791.20" cy="483.46" r="3.9"/>
<circle cx="792.15" cy="485.29" r="3.9"/>
<circle cx="793.10" cy="487.16" r="3.9"/>
<circle cx="794.05" cy="488.90" r="3.9"/>
<circle cx="795.00" cy="490.12" r="3.9"/>
<circle cx="795.95" cy="491.06" r="3.9"/>
<circle cx="796.90" cy="491.71" r="3.9"/>
<circle cx="797.85" cy="492.11" r="3.9"/>
<circle cx="798.80" cy="492.52" r="3.9"/>
<circle cx="799.75" cy="492.97" r="3.9"/>
<circle cx="800.70" cy="493.37" r="3.9"/>
<circle cx="801.65" cy="493.65" r="3.9"/>
<circle cx="802.60" cy="493.83" r="3.9"/>
<circle cx="803.55" cy="493.99" r="3.9"/>
<circle cx="804.50" cy="494.19" r="3.9"/>
<circle cx="805.45" cy="494.42" r="3.9"/>
<circle cx="806.40" cy="494.62" r="3.9"/>
<circle cx="807.35" cy="494.79" r="3.9"/>
<circle cx="808.30" cy="495.00" r="3.9"/>
<circle cx="809.25" cy="495.31" r="3.9"/>
<circle cx="810.20" cy="495.65" r="3.9"/>
<circle cx="811.15" cy="495.90" r="3.9"/>
<circle cx="812.10" cy="496.02" r="3.9"/>
<circle cx="813.05" cy="496.08" r="3.9"/>
<circle cx="814.00" cy="496.20" r="3.9"/>
<circle cx="814.95" cy="496.44" r="3.9"/>
<circle cx="815.90" cy="496.73" r="3.9"/>
<circle cx="816.85" cy="496.98" r="3.9"/>
<circle cx="817.80" cy="497.18" r="3.9"/>
<circle cx="818.75" cy="497.40" r="3.9"/>
<circle cx="819.70" cy="497.67" r="3.9"/>
<circle cx="820.65" cy="497.92" r="3.9"/>
<circle cx="821.60" cy="498.09" r="3.9"/>
<circle cx="822.55" cy="498.19" r="3.9"/>
<circle cx="823.50" cy="498.31" r="3.9"/>
<circle cx="824.45" cy="498.55" r="3.9"/>
<circle cx="825.40" cy="498.90" r="3.9"/>
<circle cx="826.35" cy="499.24" r="3.9"/>
<circle cx="827.30" cy="499.48" r="3.9"/>
<circle cx="828.25" cy="499.65" r="3.9"/>
<circle cx="829.20" cy="499.81" r="3.9"/>
<circle cx="830.15" cy="500.01" r="3.9"/>
<circle cx="831.10" cy="500.22" r="3.9"/>
<circle cx="832.05" cy="500.37" r="3.9"/>
<circle cx="833.00" cy="500.50" r="3.9"/>
<circle cx="833.95" cy="500.68" r="3.9"/>
<circle cx="834.90" cy="500.97" r="3.9"/>
<circle cx="835.85" cy="501.27" r="3.9"/>
<circle cx="836.80" cy="501.48" r="3.9"/>
<circle cx="837.75" cy="501.56" r="3.9"/>
<circle cx="838.70" cy="501.57" r="3.9"/>
<circle cx="839.65" cy="501.65" r="3.9"/>
<circle cx="840.60" cy="501.81" r="3.9"/>
<circle cx="841.55" cy="502.00" r="3.9"/>
<circle cx="842.50" cy="502.16" r="3.9"/>
<circle cx="843.45" cy="502.29" r="3.9"/>
<circle cx="844.40" cy="502.46" r="3.9"/>
<circle cx="845.35" cy="502.68" r="3.9"/>
<circle cx="846.30" cy="502.87" r="3.9"/>
<circle cx="847.25" cy="502.95" r="3.9"/>
<circle cx="848.20" cy="502.94" r="3.9"/>
<circle cx="849.15" cy="502.96" r="3.9"/>
<circle cx="850.10" cy="503.10" r="3.9"/>
<circle cx="851.05" cy="503.33" r="3.9"/>
<circle cx="852.00" cy="503.56" r="3.9"/>
<circle cx="852.95" cy="503.70" r="3.9"/>
<circle cx="853.90" cy="503.79" r="3.9"/>
<circle cx="854.85" cy="503.89" r="3.9"/>
<circle cx="855.80" cy="504.02" r="3.9"/>
<circle cx="856.75" cy="504.13" r="3.9"/>
<circle cx="857.70" cy="504.17" r="3.9"/>
<circle cx="858.65" cy="504.20" r="3.9"/>
<circle cx="859.60" cy="504.30" r="3.9"/>
<circle cx="860.55" cy="504.52" r="3.9"/>
<circle cx="861.50" cy="504.77" r="3.9"/>
<circle cx="862.45" cy="504.93" r="3.9"/>
<circle cx="863.40" cy="504.98" r="3.9"/>
<circle cx="864.35" cy="504.99" r="3.9"/>
<circle cx="865.30" cy="505.04" r="3.9"/>
<circle cx="866.25" cy="505.16" r="3.9"/>
<circle cx="867.20" cy="505.28" r="3.9"/>
<circle cx="868.15" cy="505.36" r="3.9"/>
<circle cx="869.10" cy="505.45" r="3.9"/>
<circle cx="870.05" cy="505.60" r="3.9"/>
<circle cx="871.00" cy="505.80" r="3.9"/>
<circle cx="871.95" cy="505.96" r="3.9"/>
<circle cx="872.90" cy="506.01" r="3.9"/>
<circle cx="873.85" cy="505.96" r="3.9"/>
<circle cx="874.80" cy="505.94" r="3.9"/>
<circle cx="875.75" cy="506.03" r="3.9"/>
<circle cx="876.70" cy="506.20" r="3.9"/>
<circle cx="877.65" cy="506.35" r="3.9"/>
<circle cx="878.60" cy="506.45" r="3.9"/>
<circle cx="879.55" cy="506.52" r="3.9"/>
<circle cx="880.50" cy="506.61" r="3.9"/>
<circle cx="881.45" cy="506.73" r="3.9"/>
<circle cx="882.40" cy="506.79" r="3.9"/>
<circle cx="883.35" cy="506.77" r="3.9"/>
<circle cx="884.30" cy="506.74" r="3.9"/>
<circle cx="885.25" cy="506.79" r="3.9"/>
<circle cx="886.20" cy="506.96" r="3.9"/>
<circle cx="887.15" cy="507.15" r="3.9"/>
<circle cx="888.10" cy="507.27" r="3.9"/>
<circle cx="889.05" cy="507.29" r="3.9"/>
<circle cx="890.00" cy="507.29" r="3.9"/>
<circle cx="890.95" cy="507.32" r="3.9"/>
<circle cx="891.90" cy="507.38" r="3.9"/>
<circle cx="892.85" cy="507.42" r="3.9"/>
<circle cx="893.80" cy="507.43" r="3.9"/>
<circle cx="894.75" cy="507.46" r="3.9"/>
<circle cx="895.70" cy="507.58" r="3.9"/>
<circle cx="896.65" cy="507.75" r="3.9"/>
<circle cx="897.60" cy="507.88" r="3.9"/>
<circle cx="898.55" cy="507.89" r="3.9"/>
<circle cx="899.50" cy="507.83" r="3.9"/>
<circle cx="900.45" cy="507.78" r="3.9"/>
<circle cx="901.40" cy="507.83" r="3.9"/>
<circle cx="902.35" cy="507.93" r="3.9"/>
<circle cx="903.30" cy="508.02" r="3.9"/>
<circle cx="904.25" cy="508.06" r="3.9"/>
<circle cx="905.20" cy="508.11" r="3.9"/>
<circle cx="906.15" cy="508.20" r="3.9"/>
<circle cx="907.10" cy="508.30" r="3.9"/>
<circle cx="908.05" cy="508.32" r="3.9"/>
<circle cx="909.00" cy="508.26" r="3.9"/>
<circle cx="909.95" cy="508.18" r="3.9"/>
<circle cx="910.90" cy="508.19" r="3.9"/>
<circle cx="911.85" cy="508.30" r="3.9"/>
<circle cx="912.80" cy="508.44" r="3.9"/>
<circle cx="913.75" cy="508.51" r="3.9"/>
<circle cx="914.70" cy="508.52" r="3.9"/>
<circle cx="915.65" cy="508.51" r="3.9"/>
<circle cx="916.60" cy="508.53" r="3.9"/>
<circle cx="917.55" cy="508.56" r="3.9"/>
<circle cx="918.50" cy="508.55" r="3.9"/>
<circle cx="919.45" cy="508.50" r="3.9"/>
<circle cx="920.40" cy="508.49" r="3.9"/>
<circle cx="921.35" cy="508.58" r="3.9"/>
<circle cx="922.30" cy="508.72" r="3.9"/>
<circle cx="923.25" cy="508.82" r="3.9"/>
<circle cx="924.20" cy="508.82" r="3.9"/>
<circle cx="925.15" cy="508.75" r="3.9"/>
<circle cx="926.10" cy="508.70" r="3.9"/>
<circle cx="927.05" cy="508.71" r="3.9"/>
<circle cx="928.00" cy="508.76" r="3.9"/>
<circle cx="928.95" cy="508.79" r="3.9"/>
<circle cx="929.90" cy="508.80" r="3.9"/>
<circle cx="930.85" cy="508.84" r="3.9"/>
<circle cx="931.80" cy="508.93" r="3.9"/>
<circle cx="932.75" cy="509.02" r="3.9"/>
<circle cx="933.70" cy="509.04" r="3.9"/>
<circle cx="934.65" cy="508.96" r="3.9"/>
<circle cx="935.60" cy="508.87" r="3.9"/>
<circle cx="936.55" cy="508.86" r="3.9"/>
<circle cx="937.50" cy="508.94" r="3.9"/>
<circle cx="938.45" cy="509.05" r="3.9"/>
<circle cx="939.40" cy="509.10" r="3.9"/>
<circle cx="940.35" cy="509.11" r="3.9"/>
<circle cx="941.30" cy="509.12" r="3.9"/>
<circle cx="942.25" cy="509.16" r="3.9"/>
<circle cx="943.20" cy="509.19" r="3.9"/>
<circle cx="944.15" cy="509.16" r="3.9"/>
<circle cx="945.10" cy="509.09" r="3.9"/>
<circle cx="946.05" cy="509.07" r="3.9"/>
<circle cx="947.00" cy="509.15" r="3.9"/>
<circle cx="947.95" cy="509.28" r="3.9"/>
<circle cx="948.90" cy="509.38" r="3.9"/>
<circle cx="949.85" cy="509.39" r="3.9"/>
<circle cx="950.80" cy="509.34" r="3.9"/>
<circle cx="951.75" cy="509.31" r="3.9"/>
<circle cx="952.70" cy="509.33" r="3.9"/>
<circle cx="953.65" cy="509.35" r="3.9"/>
<circle cx="954.60" cy="509.36" r="3.9"/>
<circle cx="955.55" cy="509.35" r="3.9"/>
<circle cx="956.50" cy="509.39" r="3.9"/>
<circle cx="957.45" cy="509.50" r="3.9"/>
<circle cx="958.40" cy="509.60" r="3.9"/>
<circle cx="959.35" cy="509.62" r="3.9"/>
<circle cx="960.30" cy="509.56" r="3.9"/>
<circle cx="961.25" cy="509.48" r="3.9"/>
<circle cx="962.20" cy="509.47" r="3.9"/>
<circle cx="963.15" cy="509.53" r="3.9"/>
<circle cx="964.10" cy="509.61" r="3.9"/>
<circle cx="965.05" cy="509.65" r="3.9"/>
<circle cx="966.00" cy="509.67" r="3.9"/>
<circle cx="966.95" cy="509.71" r="3.9"/>
<circle cx="967.90" cy="509.77" r="3.9"/>
<circle cx="968.85" cy="509.80" r="3.9"/>
<circle cx="969.80" cy="509.76" r="3.9"/>
<circle cx="970.75" cy="509.68" r="3.9"/>
<circle cx="971.70" cy="509.66" r="3.9"/>
<circle cx="972.65" cy="509.72" r="3.9"/>
<circle cx="973.60" cy="509.84" r="3.9"/>
<circle cx="974.55" cy="509.93" r="3.9"/>
<circle cx="975.50" cy="509.94" r="3.9"/>
<circle cx="976.45" cy="509.91" r="3.9"/>
<circle cx="977.40" cy="509.91" r="3.9"/>
<circle cx="978.35" cy="509.93" r="3.9"/>
<circle cx="979.30" cy="509.94" r="3.9"/>
<circle cx="980.25" cy="509.91" r="3.9"/>
<circle cx="981.20" cy="509.89" r="3.9"/>
</g>
<path d="M581.00,515.20 L581.40,514.38 L581.80,513.59 L582.20,512.85 L582.60,512.14 L583.00,511.47 L583.40,510.84 L583.80,510.26 L584.20,509.71 L584.60,509.20 L585.00,508.71 L585.40,508.23 L585.80,507.81 L586.20,507.47 L586.60,507.26 L587.00,507.08 L587.40,506.94 L587.80,506.84 L588.20,506.80 L588.60,506.89 L589.00,507.12 L589.40,507.45 L589.80,507.82 L590.20,508.19 L590.60,508.67 L591.00,509.22 L591.40,509.81 L591.80,510.40 L592.20,511.01 L592.60,511.66 L593.00,512.32 L593.40,512.95 L593.80,513.50 L594.20,514.05 L594.60,514.60 L595.00,515.03 L595.40,515.20 L595.80,514.93 L596.20,514.24 L596.60,513.37 L597.00,512.50 L597.40,511.60 L597.80,510.60 L598.20,509.62 L598.60,508.80 L599.00,508.01 L599.40,507.29 L599.80,506.71 L600.20,506.31 L600.60,505.97 L601.00,505.70 L601.40,505.60 L601.80,505.73 L602.20,506.07 L602.60,506.52 L603.00,507.00 L603.40,507.52 L603.80,508.15 L604.20,508.86 L604.60,509.62 L605.00,510.40 L605.40,511.28 L605.80,512.27 L606.20,513.29 L606.60,514.24 L607.00,515.00 L607.40,515.67 L607.80,516.32 L608.20,516.81 L608.60,517.00 L609.00,516.58 L609.40,515.61 L609.80,514.50 L610.20,513.26 L610.60,511.79 L611.00,510.40 L611.40,509.12 L611.80,507.85 L612.20,506.71 L612.60,505.80 L613.00,505.02 L613.40,504.31 L613.80,503.86 L614.20,503.81 L614.60,503.91 L615.00,504.07 L615.40,504.28 L615.80,504.50 L616.20,504.77 L616.60,505.12 L617.00,505.53 L617.40,505.97 L617.80,506.45 L618.20,507.01 L618.60,507.64 L619.00,508.28 L619.40,508.87 L619.80,509.43 L620.20,510.05 L620.60,510.61 L621.00,510.95 L621.40,510.77 L621.80,509.25 L622.20,507.07 L622.60,504.90 L623.00,502.30 L623.40,499.61 L623.80,497.26 L624.20,494.96 L624.60,492.71 L625.00,490.59 L625.40,488.68 L625.80,487.07 L626.20,485.79 L626.60,484.63 L627.00,483.56 L627.40,482.58 L627.80,481.70 L628.20,480.95 L628.60,480.31 L629.00,479.80 L629.40,479.36 L629.80,478.94 L630.20,478.57 L630.60,478.27 L631.00,478.07 L631.40,478.00 L631.80,478.11 L632.20,478.43 L632.60,478.92 L633.00,479.54 L633.40,480.24 L633.80,481.00 L634.20,482.03 L634.60,483.48 L635.00,485.24 L635.40,487.19 L635.80,489.22 L636.20,491.20 L636.60,493.19 L637.00,495.30 L637.40,497.51 L637.80,499.78 L638.20,502.09 L638.60,504.40 L639.00,506.81 L639.40,509.26 L639.80,511.60 L640.20,514.11 L640.60,514.38 L641.00,513.05 L641.40,511.50 L641.80,510.19 L642.20,508.85 L642.60,507.48 L643.00,506.09 L643.40,504.56 L643.80,502.97 L644.20,501.42 L644.60,500.02 L645.00,498.86 L645.40,498.00 L645.80,497.25 L646.20,496.63 L646.60,496.16 L647.00,495.87 L647.40,495.63 L647.80,495.47 L648.20,495.40 L648.60,495.48 L649.00,495.68 L649.40,495.97 L649.80,496.30 L650.20,496.76 L650.60,497.39 L651.00,498.08 L651.40,498.72 L651.80,499.43 L652.20,500.19 L652.60,500.95 L653.00,501.68 L653.40,502.32 L653.80,502.85 L654.20,503.20 L654.60,503.45 L655.00,503.69 L655.40,503.90 L655.80,504.08 L656.20,504.23 L656.60,504.34 L657.00,504.39 L657.40,504.38 L657.80,504.27 L658.20,504.06 L658.60,503.78 L659.00,503.46 L659.40,503.11 L659.80,502.75 L660.20,502.42 L660.60,502.12 L661.00,501.89 L661.40,501.69 L661.80,501.51 L662.20,501.35 L662.60,501.18 L663.00,501.01 L663.40,500.82 L663.80,500.60 L664.20,500.34 L664.60,500.04 L665.00,499.63 L665.40,499.12 L665.80,498.54 L666.20,497.91 L666.60,497.23 L667.00,496.53 L667.40,495.83 L667.80,495.13 L668.20,494.45 L668.60,493.67 L669.00,492.85 L669.40,492.08 L669.80,491.44 L670.20,490.99 L670.60,490.58 L671.00,490.23 L671.40,490.03 L671.80,490.04 L672.20,490.30 L672.60,490.72 L673.00,491.20 L673.40,491.78 L673.80,492.54 L674.20,493.38 L674.60,494.20 L675.00,495.09 L675.40,496.07 L675.80,496.93 L676.20,497.50 L676.60,497.84 L677.00,498.13 L677.40,498.33 L677.80,498.40 L678.20,497.88 L678.60,496.60 L679.00,495.00 L679.40,492.68 L679.80,489.37 L680.20,485.69 L680.60,482.25 L681.00,479.34 L681.40,476.48 L681.80,473.68 L682.20,470.96 L682.60,468.35 L683.00,465.88 L683.40,463.59 L683.80,461.49 L684.20,459.43 L684.60,457.43 L685.00,455.58 L685.40,453.96 L685.80,452.69 L686.20,451.77 L686.60,450.94 L687.00,450.22 L687.40,449.66 L687.80,449.34 L688.20,449.37 L688.60,449.89 L689.00,450.74 L689.40,451.80 L689.80,453.64 L690.20,456.10 L690.60,458.63 L691.00,461.48 L691.40,464.61 L691.80,467.72 L692.20,470.51 L692.60,472.78 L693.00,474.84 L693.40,476.62 L693.80,478.00 L694.20,479.15 L694.60,480.10 L695.00,480.50 L695.40,479.95 L695.80,478.63 L696.20,477.00 L696.60,474.86 L697.00,472.04 L697.40,469.06 L697.80,465.94 L698.20,462.62 L698.60,459.14 L699.00,455.53 L699.40,451.84 L699.80,448.12 L700.20,444.40 L700.60,440.57 L701.00,436.58 L701.40,432.55 L701.80,428.62 L702.20,424.90 L702.60,421.19 L703.00,417.40 L703.40,413.87 L703.80,410.93 L704.20,408.86 L704.60,407.12 L705.00,405.63 L705.40,404.65 L705.80,404.42 L706.20,404.75 L706.60,405.40 L707.00,406.25 L707.40,407.85 L707.80,410.04 L708.20,412.42 L708.60,415.22 L709.00,418.37 L709.40,421.72 L709.80,425.13 L710.20,428.47 L710.60,431.90 L711.00,435.41 L711.40,438.99 L711.80,442.59 L712.20,446.23 L712.60,449.99 L713.00,453.80 L713.40,457.56 L713.80,461.14 L714.20,464.57 L714.60,467.91 L715.00,470.86 L715.40,473.52 L715.80,475.49 L716.20,474.99 L716.60,473.04 L717.00,470.97 L717.40,468.56 L717.80,465.90 L718.20,462.88 L718.60,459.46 L719.00,455.97 L719.40,452.78 L719.80,450.20 L720.20,448.09 L720.60,446.14 L721.00,444.44 L721.40,443.11 L721.80,442.22 L722.20,441.55 L722.60,441.00 L723.00,440.57 L723.40,440.26 L723.80,440.06 L724.20,439.92 L724.60,439.81 L725.00,439.71 L725.40,439.58 L725.80,439.41 L726.20,439.21 L726.60,438.96 L727.00,438.67 L727.40,438.31 L727.80,437.84 L728.20,437.21 L728.60,436.34 L729.00,434.74 L729.40,432.44 L729.80,429.73 L730.20,426.91 L730.60,424.25 L731.00,421.58 L731.40,418.78 L731.80,415.89 L732.20,412.96 L732.60,410.00 L733.00,406.97 L733.40,403.82 L733.80,400.61 L734.20,397.39 L734.60,394.23 L735.00,391.17 L735.40,388.29 L735.80,385.58 L736.20,382.94 L736.60,380.38 L737.00,377.88 L737.40,375.44 L737.80,373.06 L738.20,370.74 L738.60,368.48 L739.00,366.26 L739.40,364.10 L739.80,361.98 L740.20,359.89 L740.60,357.83 L741.00,355.81 L741.40,353.83 L741.80,351.89 L742.20,349.99 L742.60,348.13 L743.00,346.31 L743.40,344.53 L743.80,342.80 L744.20,341.11 L744.60,339.47 L745.00,337.85 L745.40,336.25 L745.80,334.69 L746.20,333.16 L746.60,331.66 L747.00,330.20 L747.40,328.77 L747.80,327.39 L748.20,326.05 L748.60,324.75 L749.00,323.50 L749.40,322.28 L749.80,321.06 L750.20,319.86 L750.60,318.71 L751.00,317.64 L751.40,316.68 L751.80,315.85 L752.20,315.16 L752.60,314.47 L753.00,313.83 L753.40,313.33 L753.80,313.04 L754.20,313.06 L754.60,313.52 L755.00,314.29 L755.40,315.25 L755.80,316.53 L756.20,318.55 L756.60,320.92 L757.00,323.20 L757.40,325.30 L757.80,327.40 L758.20,329.51 L758.60,331.64 L759.00,333.80 L759.40,335.99 L759.80,338.23 L760.20,340.53 L760.60,342.88 L761.00,345.29 L761.40,347.72 L761.80,350.18 L762.20,352.64 L762.60,355.09 L763.00,357.51 L763.40,359.94 L763.80,362.38 L764.20,364.83 L764.60,367.26 L765.00,369.69 L765.40,372.10 L765.80,374.49 L766.20,376.81 L766.60,379.08 L767.00,381.32 L767.40,383.58 L767.80,385.89 L768.20,388.30 L768.60,390.84 L769.00,393.60 L769.40,396.62 L769.80,399.75 L770.20,402.83 L770.60,405.69 L771.00,408.27 L771.40,410.68 L771.80,413.05 L772.20,415.49 L772.60,418.14 L773.00,421.10 L773.40,424.46 L773.80,428.17 L774.20,432.21 L774.60,436.54 L775.00,441.12 L775.40,446.14 L775.80,451.85 L776.20,457.78 L776.60,463.40 L777.00,468.42 L777.40,473.14 L777.80,477.93 L778.20,483.17 L778.60,489.48 L779.00,496.65 L779.40,503.01 L779.80,509.56 L780.20,514.43 L780.60,514.38 L781.00,510.03 L781.40,506.48 L781.80,503.71 L782.20,500.66 L782.60,496.77 L783.00,492.71 L783.40,489.40 L783.80,487.26 L784.20,485.50 L784.60,484.08 L785.00,483.00 L785.40,482.09 L785.80,481.26 L786.20,480.63 L786.60,480.31 L787.00,480.42 L787.40,480.88 L787.80,481.56 L788.20,482.32 L788.60,483.13 L789.00,484.16 L789.40,485.30 L789.80,486.43 L790.20,487.50 L790.60,488.60 L791.00,489.73 L791.40,490.85 L791.80,491.94 L792.20,493.00 L792.60,493.99 L793.00,494.89 L793.40,495.75 L793.80,496.66 L794.20,497.58 L794.60,498.45 L795.00,499.22 L795.40,499.84 L795.80,500.25 L796.20,500.40 L796.60,500.32 L797.00,500.10 L797.40,499.76 L797.80,499.34 L798.20,498.85 L798.60,498.33 L799.00,497.80 L799.40,497.29 L799.80,496.82 L800.20,496.43 L800.60,496.13 L801.00,495.86 L801.40,495.59 L801.80,495.31 L802.20,495.05 L802.60,494.80 L803.00,494.58 L803.40,494.40 L803.80,494.25 L804.20,494.15 L804.60,494.10 L805.00,494.12 L805.40,494.20 L805.80,494.33 L806.20,494.51 L806.60,494.72 L807.00,494.94 L807.40,495.18 L807.80,495.41 L808.20,495.64 L808.60,495.84 L809.00,496.00 L809.40,496.13 L809.80,496.19 L810.20,496.19 L810.60,496.09 L811.00,495.90 L811.40,495.65 L811.80,495.34 L812.20,495.00 L812.60,494.65 L813.00,494.28 L813.40,493.94 L813.80,493.62 L814.20,493.36 L814.60,493.15 L815.00,493.03 L815.40,493.00 L815.80,493.06 L816.20,493.19 L816.60,493.39 L817.00,493.64 L817.40,493.94 L817.80,494.28 L818.20,494.66 L818.60,495.05 L819.00,495.46 L819.40,495.88 L819.80,496.30 L820.20,496.71 L820.60,497.10 L821.00,497.58 L821.40,498.17 L821.80,498.81 L822.20,499.48 L822.60,500.14 L823.00,500.76 L823.40,501.28 L823.80,501.69 L824.20,501.94 L824.60,502.00 L825.00,501.94 L825.40,501.81 L825.80,501.64 L826.20,501.42 L826.60,501.19 L827.00,500.95 L827.40,500.72 L827.80,500.52 L828.20,500.35 L828.60,500.24 L829.00,500.20 L829.40,500.25 L829.80,500.40 L830.20,500.63 L830.60,500.93 L831.00,501.30 L831.40,501.72 L831.80,502.19 L832.20,502.68 L832.60,503.20 L833.00,503.73 L833.40,504.27 L833.80,504.79 L834.20,505.29 L834.60,505.77 L835.00,506.20 L835.40,506.58 L835.80,506.90 L836.20,507.15 L836.60,507.32 L837.00,507.40 L837.40,507.36 L837.80,507.18 L838.20,506.89 L838.60,506.50 L839.00,506.03 L839.40,505.49 L839.80,504.92 L840.20,504.32 L840.60,503.73 L841.00,503.15 L841.40,502.60 L841.80,502.11 L842.20,501.70 L842.60,501.38 L843.00,501.17 L843.40,501.10 L843.80,501.15 L844.20,501.28 L844.60,501.48 L845.00,501.75 L845.40,502.07 L845.80,502.44 L846.20,502.84 L846.60,503.27 L847.00,503.71 L847.40,504.15 L847.80,504.59 L848.20,505.01 L848.60,505.41 L849.00,505.79 L849.40,506.22 L849.80,506.69 L850.20,507.20 L850.60,507.73 L851.00,508.26 L851.40,508.79 L851.80,509.29 L852.20,509.75 L852.60,510.16 L853.00,510.51 L853.40,510.77 L853.80,510.94 L854.20,511.00 L854.60,510.97 L855.00,510.89 L855.40,510.77 L855.80,510.62 L856.20,510.44 L856.60,510.25 L857.00,510.05 L857.40,509.85 L857.80,509.67 L858.20,509.50 L858.60,509.36 L859.00,509.26 L859.40,509.21 L859.80,509.21 L860.20,509.32 L860.60,509.52 L861.00,509.80 L861.40,510.13 L861.80,510.51 L862.20,510.90 L862.60,511.30 L863.00,511.68 L863.40,512.04 L863.80,512.35 L864.20,512.59 L864.60,512.74 L865.00,512.80 L865.40,512.77 L865.80,512.68 L866.20,512.53 L866.60,512.35 L867.00,512.12 L867.40,511.87 L867.80,511.59 L868.20,511.30 L868.60,511.00 L869.00,510.70 L869.40,510.41 L869.80,510.13 L870.20,509.88 L870.60,509.65 L871.00,509.47 L871.40,509.32 L871.80,509.23 L872.20,509.20 L872.60,509.22 L873.00,509.29 L873.40,509.40 L873.80,509.54 L874.20,509.71 L874.60,509.90 L875.00,510.11 L875.40,510.33 L875.80,510.55 L876.20,510.77 L876.60,510.99 L877.00,511.20 L877.40,511.39 L877.80,511.56 L878.20,511.70 L878.60,511.81 L879.00,511.88 L879.40,511.90 L879.80,511.81 L880.20,511.55 L880.60,511.16 L881.00,510.65 L881.40,510.08 L881.80,509.45 L882.20,508.80 L882.60,508.16 L883.00,507.56 L883.40,507.03 L883.80,506.59 L884.20,506.24 L884.60,505.88 L885.00,505.51 L885.40,505.14 L885.80,504.79 L886.20,504.44 L886.60,504.12 L887.00,503.82 L887.40,503.55 L887.80,503.32 L888.20,503.13 L888.60,503.00 L889.00,502.92 L889.40,502.90 L889.80,502.99 L890.20,503.19 L890.60,503.47 L891.00,503.84 L891.40,504.26 L891.80,504.74 L892.20,505.24 L892.60,505.77 L893.00,506.31 L893.40,506.83 L893.80,507.33 L894.20,507.80 L894.60,508.21 L895.00,508.58 L895.40,508.98 L895.80,509.39 L896.20,509.81 L896.60,510.23 L897.00,510.64 L897.40,511.04 L897.80,511.42 L898.20,511.77 L898.60,512.09 L899.00,512.35 L899.40,512.57 L899.80,512.73 L900.20,512.82 L900.60,512.88 L901.00,512.95 L901.40,513.00 L901.80,513.06 L902.20,513.11 L902.60,513.15 L903.00,513.19 L903.40,513.23 L903.80,513.27 L904.20,513.30 L904.60,513.33 L905.00,513.36 L905.40,513.39 L905.80,513.41 L906.20,513.44 L906.60,513.46 L907.00,513.49 L907.40,513.51 L907.80,513.54 L908.20,513.56 L908.60,513.59 L909.00,513.62 L909.40,513.65 L909.80,513.68 L910.20,513.72 L910.60,513.75 L911.00,513.79 L911.40,513.83 L911.80,513.88 L912.20,513.92 L912.60,513.96 L913.00,514.01 L913.40,514.05 L913.80,514.09 L914.20,514.14 L914.60,514.18 L915.00,514.23 L915.40,514.27 L915.80,514.31 L916.20,514.35 L916.60,514.38 L917.00,514.42 L917.40,514.45 L917.80,514.48 L918.20,514.51 L918.60,514.53 L919.00,514.56 L919.40,514.57 L919.80,514.59 L920.20,514.59 L920.60,514.60 L921.00,514.60 L921.40,514.59 L921.80,514.57 L922.20,514.55 L922.60,514.52 L923.00,514.49 L923.40,514.45 L923.80,514.40 L924.20,514.35 L924.60,514.30 L925.00,514.25 L925.40,514.20 L925.80,514.14 L926.20,514.09 L926.60,514.04 L927.00,513.98 L927.40,513.93 L927.80,513.89 L928.20,513.84 L928.60,513.80 L929.00,513.77 L929.40,513.74 L929.80,513.72 L930.20,513.71 L930.60,513.70 L931.00,513.72 L931.40,513.80 L931.80,513.93 L932.20,514.10 L932.60,514.32 L933.00,514.57 L933.40,514.84 L933.80,515.13 L934.20,515.43 L934.60,515.72 L935.00,516.02 L935.40,516.30 L935.80,516.56 L936.20,516.79 L936.60,516.99 L937.00,517.15 L937.40,517.25 L937.80,517.30 L938.20,517.28 L938.60,517.20 L939.00,517.07 L939.40,516.89 L939.80,516.67 L940.20,516.42 L940.60,516.13 L941.00,515.83 L941.40,515.51 L941.80,515.17 L942.20,514.84 L942.60,514.51 L943.00,514.19 L943.40,513.89 L943.80,513.62 L944.20,513.37 L944.60,513.16 L945.00,512.99 L945.40,512.87 L945.80,512.81 L946.20,512.80 L946.60,512.82 L947.00,512.86 L947.40,512.92 L947.80,512.99 L948.20,513.07 L948.60,513.16 L949.00,513.27 L949.40,513.38 L949.80,513.49 L950.20,513.61 L950.60,513.73 L951.00,513.85 L951.40,513.97 L951.80,514.08 L952.20,514.19 L952.60,514.28 L953.00,514.37 L953.40,514.45 L953.80,514.51 L954.20,514.56 L954.60,514.59 L955.00,514.60 L955.40,514.60 L955.80,514.60 L956.20,514.60 L956.60,514.60 L957.00,514.60 L957.40,514.60 L957.80,514.60 L958.20,514.60 L958.60,514.60 L959.00,514.60 L959.40,514.60 L959.80,514.60 L960.20,514.60 L960.60,514.60 L961.00,514.60 L961.40,514.60 L961.80,514.60 L962.20,514.60 L962.60,514.60 L963.00,514.60 L963.40,514.60 L963.80,514.60 L964.20,514.61 L964.60,514.65 L965.00,514.74 L965.40,514.87 L965.80,515.02 L966.20,515.20 L966.60,515.40 L967.00,515.62 L967.40,515.84 L967.80,516.06 L968.20,516.28 L968.60,516.50 L969.00,516.70 L969.40,516.88 L969.80,517.03 L970.20,517.16 L970.60,517.25 L971.00,517.29 L971.40,517.30 L971.80,517.29 L972.20,517.28 L972.60,517.26 L973.00,517.23 L973.40,517.20 L973.80,517.16 L974.20,517.12 L974.60,517.07 L975.00,517.02 L975.40,516.96 L975.80,516.90 L976.20,516.83 L976.60,516.76 L977.00,516.69 L977.40,516.61 L977.80,516.53 L978.20,516.44 L978.60,516.35 L979.00,516.22 L979.40,516.06 L979.80,515.87 L980.20,515.65 L980.60,515.40 L981.00,515.13 L981.40,514.85 L981.80,514.55 L982.20,514.25 L982.60,513.93" fill="none" stroke="#ff0000" stroke-width="3.2" stroke-linejoin="round" stroke-linecap="round"/>
<rect x="68.8" y="7.9" width="416.7" height="516.9" fill="none" stroke="#000" stroke-width="2.3"/>
<path d="M67.64999999999999,525.0 H486.65" stroke="#000" stroke-width="2.9" fill="none"/>
<path d="M77.00,524.8 V538.7 M143.75,524.8 V538.7 M210.50,524.8 V538.7 M277.25,524.8 V538.7 M344.00,524.8 V538.7 M410.75,524.8 V538.7 M477.50,524.8 V538.7" stroke="#000" stroke-width="2.2" fill="none"/>
<path d="M90.35,524.8 V532.7 M103.70,524.8 V532.7 M117.05,524.8 V532.7 M130.40,524.8 V532.7 M157.10,524.8 V532.7 M170.45,524.8 V532.7 M183.80,524.8 V532.7 M197.15,524.8 V532.7 M223.85,524.8 V532.7 M237.20,524.8 V532.7 M250.55,524.8 V532.7 M263.90,524.8 V532.7 M290.60,524.8 V532.7 M303.95,524.8 V532.7 M317.30,524.8 V532.7 M330.65,524.8 V532.7 M357.35,524.8 V532.7 M370.70,524.8 V532.7 M384.05,524.8 V532.7 M397.40,524.8 V532.7 M424.10,524.8 V532.7 M437.45,524.8 V532.7 M450.80,524.8 V532.7 M464.15,524.8 V532.7" stroke="#000" stroke-width="2.6" fill="none"/>
<text x="77.0" y="571.4" font-size="28" text-anchor="middle">0</text>
<text x="144.6" y="571.4" font-size="28" text-anchor="middle">1</text>
<rect x="138.0" y="568.55" width="5.6" height="3" fill="#fff"/><rect x="146.3" y="568.55" width="5.6" height="3" fill="#fff"/>
<text x="210.5" y="571.4" font-size="28" text-anchor="middle">2</text>
<text x="277.2" y="571.4" font-size="28" text-anchor="middle">3</text>
<text x="344.0" y="571.4" font-size="28" text-anchor="middle">4</text>
<text x="410.8" y="571.4" font-size="28" text-anchor="middle">5</text>
<text x="477.5" y="571.4" font-size="28" text-anchor="middle">6</text>
<text x="277.4" y="610.5" font-size="28" text-anchor="middle"><tspan class="i">r</tspan> / Å</text>
<rect x="573.5" y="8.0" width="416.4" height="516.7" fill="none" stroke="#000" stroke-width="2.3"/>
<path d="M572.35,524.9000000000001 H991.05" stroke="#000" stroke-width="2.9" fill="none"/>
<path d="M581.00,524.7 V538.7 M647.80,524.7 V538.7 M714.60,524.7 V538.7 M781.40,524.7 V538.7 M848.20,524.7 V538.7 M915.00,524.7 V538.7 M981.80,524.7 V538.7" stroke="#000" stroke-width="2.2" fill="none"/>
<path d="M594.36,524.7 V532.7 M607.72,524.7 V532.7 M621.08,524.7 V532.7 M634.44,524.7 V532.7 M661.16,524.7 V532.7 M674.52,524.7 V532.7 M687.88,524.7 V532.7 M701.24,524.7 V532.7 M727.96,524.7 V532.7 M741.32,524.7 V532.7 M754.68,524.7 V532.7 M768.04,524.7 V532.7 M794.76,524.7 V532.7 M808.12,524.7 V532.7 M821.48,524.7 V532.7 M834.84,524.7 V532.7 M861.56,524.7 V532.7 M874.92,524.7 V532.7 M888.28,524.7 V532.7 M901.64,524.7 V532.7 M928.36,524.7 V532.7 M941.72,524.7 V532.7 M955.08,524.7 V532.7 M968.44,524.7 V532.7" stroke="#000" stroke-width="2.6" fill="none"/>
<text x="581.0" y="571.4" font-size="28" text-anchor="middle">0</text>
<text x="648.6" y="571.4" font-size="28" text-anchor="middle">1</text>
<rect x="642.0" y="568.55" width="5.6" height="3" fill="#fff"/><rect x="650.3" y="568.55" width="5.6" height="3" fill="#fff"/>
<text x="714.6" y="571.4" font-size="28" text-anchor="middle">2</text>
<text x="781.4" y="571.4" font-size="28" text-anchor="middle">3</text>
<text x="848.2" y="571.4" font-size="28" text-anchor="middle">4</text>
<text x="915.0" y="571.4" font-size="28" text-anchor="middle">5</text>
<text x="981.8" y="571.4" font-size="28" text-anchor="middle">6</text>
<text x="781.6" y="610.5" font-size="28" text-anchor="middle"><tspan class="i">r</tspan> / Å</text>
<text transform="translate(36.5,377) rotate(-90)" font-size="28">|FT| of <tspan class="i">k</tspan><tspan font-size="19" dy="-17.3" dx="-1.5">3</tspan><tspan dy="17.3" dx="3.6" class="i" style="font-family:DejaVu Serif,serif" font-size="26">χ</tspan><tspan dx="-1.6">(</tspan><tspan class="i" dx="1">k</tspan>)<tspan dx="7.9">/</tspan><tspan dx="7.2">Å</tspan><tspan font-size="19" dy="-17.3" dx="0.8">-</tspan><tspan font-size="19" dx="0.6">4</tspan></text>
<text transform="translate(541.0,377) rotate(-90)" font-size="28">|FT| of <tspan class="i">k</tspan><tspan font-size="19" dy="-17.3" dx="-1.5">3</tspan><tspan dy="17.3" dx="3.6" class="i" style="font-family:DejaVu Serif,serif" font-size="26">χ</tspan><tspan dx="-1.6">(</tspan><tspan class="i" dx="1">k</tspan>)<tspan dx="7.9">/</tspan><tspan dx="7.2">Å</tspan><tspan font-size="19" dy="-17.3" dx="0.8">-</tspan><tspan font-size="19" dx="0.6">4</tspan></text>
<text x="83.9" y="44.2" font-size="30" letter-spacing="0.9">(A)</text>
<text x="584.7" y="43.8" font-size="30" letter-spacing="1.2">(B)</text>
<path d="M317.2,41 V78.3" stroke="#000" stroke-width="1.9"/><text x="326.5" y="70" font-size="28" class="b">2</text>
<path d="M320,341.5 V378.8" stroke="#000" stroke-width="1.9"/><text x="328.6" y="370.5" font-size="28" class="b">2</text>
<path d="M836,53.6 V83.6" stroke="#000" stroke-width="1.9"/><text x="844.5" y="79" font-size="28" class="b">2</text>
<path d="M835,299 V329.6" stroke="#000" stroke-width="1.9"/><text x="843.5" y="324.4" font-size="28" class="b">2</text>
<text x="433.1" y="165.6" font-size="28" letter-spacing="1.3">(a)</text>
<text x="478.2" y="197.3" font-size="25.5" class="b" text-anchor="end" letter-spacing="0.25">PdAu8-PMo<tspan dx="0.8">1</tspan><tspan dx="-0.8">2</tspan></text>
<text x="433.2" y="454.4" font-size="28" letter-spacing="1.3">(b)</text>
<text x="470.3" y="486" font-size="25.5" class="b" text-anchor="end" letter-spacing="0.25">PdAu8-Mo6</text>
<text x="931.5" y="172.4" font-size="28" letter-spacing="1.3">(a)</text>
<text x="976.8" y="205" font-size="25.5" class="b" text-anchor="end" letter-spacing="0.3">PtAu8-PMo<tspan dx="0.8">1</tspan><tspan dx="-0.8">2</tspan></text>
<text x="937" y="438" font-size="28" letter-spacing="1.2">(b)</text>
<text x="973.2" y="470.3" font-size="25.5" class="b" text-anchor="end" letter-spacing="0.25">PtAu8-Mo6</text>
<g fill="#fff"><rect x="451.4" y="193.5" width="4.5" height="3.9"/><rect x="460.1" y="193.5" width="3.5" height="3.9"/><rect x="949.4" y="201.5" width="4.8" height="3.9"/><rect x="958.8" y="201.5" width="3.4" height="3.9"/></g>
</svg></body></html>
